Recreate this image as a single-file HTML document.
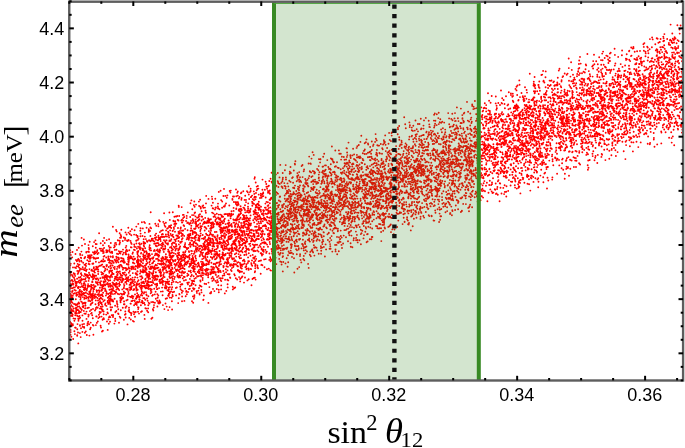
<!DOCTYPE html>
<html><head><meta charset="utf-8"><title>plot</title>
<style>
html,body{margin:0;padding:0;background:#fff;}
svg{display:block;}
.tk{font-family:"Liberation Sans",sans-serif;font-size:18px;fill:#000;}
.lb{font-family:"Liberation Serif",serif;fill:#000;}
</style></head><body>
<svg width="685" height="448" viewBox="0 0 685 448">
<rect width="685" height="448" fill="#fff"/>
<defs><clipPath id="c"><rect x="69.25" y="1.4" width="613.85" height="379.0"/></clipPath></defs>
<g clip-path="url(#c)">
<path id="pts" fill="none" stroke="#f00" stroke-width="1.9" stroke-linecap="round" d="M208.9 219.5h0M263.9 218.4h0M559.0 135.3h0M484.7 167.6h0M309.5 201.3h0M273.7 195.9h0M436.8 169.4h0M184.0 246.7h0M482.5 144.4h0M647.7 143.8h0M221.8 236.2h0M652.1 37.4h0M479.1 145.9h0M128.2 277.2h0M340.7 177.9h0M613.8 119.6h0M497.7 157.2h0M269.8 234.2h0M520.1 122.2h0M204.5 265.0h0M119.4 244.4h0M167.5 271.9h0M278.2 252.4h0M355.0 201.5h0M233.0 196.5h0M570.3 168.8h0M188.0 292.0h0M148.8 282.3h0M125.6 307.7h0M436.9 152.0h0M594.3 99.2h0M438.8 138.3h0M641.7 63.6h0M514.5 125.1h0M597.8 107.5h0M640.1 112.5h0M404.8 184.4h0M645.2 113.6h0M373.3 163.9h0M237.5 265.7h0M346.8 190.3h0M477.8 161.2h0M272.5 218.5h0M624.2 109.7h0M227.2 245.4h0M278.0 228.4h0M228.3 249.5h0M287.6 218.7h0M72.4 290.9h0M455.4 128.9h0M242.8 235.7h0M111.1 289.3h0M448.2 176.8h0M177.6 276.7h0M256.3 231.6h0M340.1 184.4h0M161.6 245.6h0M203.2 219.2h0M360.6 198.8h0M361.9 179.7h0M226.1 272.2h0M252.1 195.6h0M240.7 251.2h0M229.4 250.1h0M365.8 227.3h0M199.5 239.0h0M373.7 195.8h0M220.6 230.9h0M584.3 131.8h0M180.0 230.9h0M598.8 125.2h0M178.8 254.2h0M530.3 132.8h0M444.7 187.4h0M197.8 220.9h0M536.0 160.3h0M222.4 232.2h0M121.9 266.3h0M448.9 167.6h0M399.1 187.1h0M459.0 180.0h0M176.4 264.7h0M221.7 235.8h0M489.9 154.7h0M119.0 322.7h0M606.8 145.2h0M332.6 218.9h0M449.1 136.8h0M261.6 249.4h0M179.2 216.0h0M75.3 315.2h0M198.3 290.6h0M603.6 79.3h0M666.8 73.9h0M340.7 169.2h0M301.9 220.6h0M238.8 235.8h0M662.7 82.3h0M105.1 290.9h0M320.4 213.8h0M172.9 230.7h0M216.8 262.6h0M548.4 154.5h0M194.5 237.7h0M408.4 163.0h0M294.7 202.2h0M380.9 208.2h0M274.1 238.4h0M243.0 248.3h0M242.4 249.3h0M121.8 251.6h0M365.2 174.5h0M611.8 99.3h0M651.1 72.5h0M86.1 263.6h0M633.0 91.9h0M144.0 243.9h0M528.6 114.9h0M619.9 90.9h0M172.5 249.8h0M272.9 267.9h0M301.6 228.0h0M282.3 207.4h0M386.4 202.6h0M74.8 293.2h0M328.9 197.6h0M608.3 104.9h0M123.0 297.8h0M366.6 242.2h0M364.9 196.8h0M549.9 116.6h0M661.7 89.0h0M503.6 100.0h0M237.4 262.8h0M480.9 177.6h0M282.8 271.4h0M541.1 131.3h0M484.4 117.6h0M669.7 95.6h0M601.6 89.9h0M97.6 294.8h0M247.6 221.1h0M599.0 144.3h0M438.3 175.5h0M280.8 250.2h0M103.5 311.6h0M537.9 132.1h0M70.3 252.6h0M126.3 245.9h0M679.5 118.3h0M545.9 109.3h0M602.6 127.5h0M362.4 223.9h0M173.0 242.6h0M397.3 193.8h0M330.9 208.9h0M169.5 268.0h0M171.2 228.0h0M227.9 266.8h0M648.5 68.5h0M675.4 86.3h0M501.5 131.7h0M513.5 167.7h0M519.2 128.6h0M387.1 148.0h0M178.3 270.8h0M608.3 139.8h0M610.0 92.0h0M505.1 132.2h0M642.6 102.3h0M671.2 77.0h0M378.5 161.2h0M534.6 92.1h0M448.0 185.0h0M139.9 247.0h0M263.4 196.1h0M110.9 299.5h0M614.0 148.0h0M82.9 287.1h0M399.3 200.0h0M178.4 249.2h0M159.6 252.6h0M171.2 246.9h0M607.9 131.0h0M373.0 183.0h0M278.7 214.8h0M683.0 95.6h0M404.6 192.7h0M255.6 244.7h0M297.0 212.8h0M496.7 140.1h0M143.2 266.8h0M535.0 127.2h0M612.1 101.1h0M361.1 204.8h0M337.9 228.8h0M157.2 268.2h0M329.0 169.0h0M538.8 142.0h0M323.6 217.8h0M450.1 126.7h0M96.2 266.8h0M204.3 246.5h0M194.5 288.6h0M671.9 104.8h0M96.7 244.1h0M201.6 211.3h0M88.6 251.5h0M462.1 150.3h0M470.5 164.8h0M281.5 220.5h0M91.7 299.1h0M336.5 228.4h0M174.5 239.6h0M331.4 211.2h0M298.3 246.0h0M205.1 256.1h0M586.2 105.7h0M494.7 165.0h0M358.4 177.4h0M314.8 224.8h0M136.3 288.4h0M439.7 122.3h0M379.0 183.3h0M625.4 70.6h0M664.4 34.1h0M566.5 114.7h0M601.6 146.5h0M373.8 219.6h0M298.9 207.8h0M363.5 193.6h0M395.6 215.6h0M571.5 105.3h0M162.1 287.6h0M438.2 189.0h0M625.7 81.7h0M206.0 203.4h0M246.1 246.4h0M586.6 93.5h0M469.7 172.5h0M662.3 78.1h0M463.7 122.4h0M652.4 101.0h0M577.1 107.9h0M483.7 144.9h0M186.0 256.4h0M200.5 226.2h0M599.4 83.0h0M274.4 207.9h0M490.9 138.4h0M336.7 195.4h0M351.4 210.8h0M75.8 299.2h0M574.4 132.2h0M260.6 210.3h0M276.4 185.7h0M113.3 283.5h0M452.9 191.5h0M547.5 122.5h0M383.2 206.3h0M362.7 181.5h0M543.5 127.9h0M128.7 267.3h0M401.5 140.7h0M529.3 138.1h0M294.3 193.6h0M607.4 92.6h0M349.9 166.6h0M140.5 228.1h0M669.3 105.8h0M349.3 160.5h0M531.7 115.9h0M117.4 288.2h0M566.1 119.1h0M162.7 242.8h0M146.1 274.9h0M239.1 222.0h0M330.2 238.0h0M367.4 183.4h0M332.4 159.1h0M90.5 291.0h0M436.0 151.6h0M525.0 87.3h0M670.4 104.7h0M409.7 169.0h0M641.6 127.8h0M654.0 65.0h0M199.8 273.1h0M110.1 283.8h0M173.5 281.8h0M526.5 105.0h0M229.6 225.9h0M138.3 255.7h0M648.7 89.7h0M489.2 184.9h0M657.8 88.2h0M271.7 226.5h0M187.4 237.2h0M153.3 283.1h0M648.7 79.7h0M170.1 230.4h0M562.1 163.2h0M199.3 240.8h0M599.3 117.8h0M104.1 281.6h0M303.6 214.0h0M316.2 208.3h0M668.9 42.9h0M620.7 64.1h0M305.4 241.4h0M330.1 202.9h0M508.5 109.3h0M462.5 183.2h0M618.5 105.9h0M491.4 146.8h0M385.8 217.0h0M622.5 105.7h0M272.6 208.5h0M295.0 185.6h0M285.2 186.3h0M370.0 156.9h0M90.7 322.6h0M347.5 185.4h0M263.8 242.5h0M218.7 269.0h0M221.3 228.1h0M559.1 143.6h0M306.1 203.3h0M671.7 84.7h0M322.8 189.2h0M497.8 194.7h0M256.9 231.1h0M576.9 134.6h0M200.2 231.1h0M238.3 219.6h0M249.0 228.9h0M148.8 286.4h0M530.3 139.9h0M334.3 224.5h0M146.7 253.7h0M398.6 184.3h0M369.2 221.3h0M379.6 228.2h0M506.9 116.4h0M110.2 280.4h0M371.5 183.3h0M101.0 265.5h0M668.8 44.5h0M474.6 151.6h0M173.2 273.4h0M634.1 90.8h0M176.8 264.4h0M287.1 232.2h0M98.5 252.9h0M297.3 177.7h0M518.5 156.6h0M144.2 285.8h0M546.5 169.1h0M331.6 200.5h0M562.1 159.6h0M176.1 295.4h0M623.5 137.1h0M516.0 166.2h0M98.9 304.3h0M363.7 212.7h0M109.6 316.5h0M513.0 113.6h0M292.4 225.8h0M544.8 108.5h0M611.3 69.8h0M177.6 255.8h0M567.0 147.2h0M306.2 234.6h0M304.1 169.5h0M471.2 187.2h0M667.6 61.9h0M488.5 132.8h0M205.1 249.6h0M69.6 267.7h0M137.7 281.4h0M250.3 245.9h0M111.7 285.4h0M110.0 300.9h0M650.5 123.2h0M162.5 237.1h0M274.4 208.8h0M662.5 105.0h0M397.1 160.1h0M494.7 114.8h0M246.0 202.1h0M478.4 165.1h0M169.5 240.4h0M281.9 216.4h0M626.1 145.1h0M517.4 124.7h0M353.2 185.0h0M350.5 157.0h0M525.2 145.8h0M313.7 240.7h0M334.9 228.3h0M418.0 202.8h0M413.1 167.1h0M352.1 179.8h0M440.6 163.4h0M161.4 275.3h0M523.1 127.9h0M169.2 226.0h0M565.9 138.3h0M421.1 169.9h0M644.1 92.5h0M325.6 212.3h0M473.7 150.9h0M114.4 291.1h0M255.7 207.4h0M168.9 295.0h0M479.9 198.8h0M143.7 243.2h0M375.5 165.9h0M224.5 255.5h0M172.4 235.8h0M568.9 132.9h0M219.1 219.2h0M118.4 262.3h0M310.3 251.9h0M198.7 250.5h0M507.8 129.4h0M449.3 166.7h0M652.1 68.3h0M592.2 66.4h0M257.3 219.2h0M598.1 93.2h0M224.7 206.5h0M593.5 124.0h0M158.4 226.2h0M639.7 84.3h0M416.0 136.2h0M350.3 218.5h0M316.8 207.1h0M301.2 216.7h0M165.9 234.4h0M457.0 190.6h0M287.9 225.0h0M610.1 98.8h0M145.3 287.8h0M356.7 227.3h0M428.8 144.2h0M517.0 106.7h0M471.7 149.7h0M331.3 240.1h0M518.6 100.0h0M505.4 176.7h0M303.7 203.5h0M332.2 222.7h0M287.0 190.6h0M546.9 142.3h0M157.1 284.3h0M570.2 133.4h0M430.5 179.6h0M297.3 211.9h0M648.1 136.5h0M657.6 38.8h0M664.2 117.7h0M131.3 288.3h0M370.6 209.9h0M634.9 93.4h0M74.8 274.0h0M253.5 203.8h0M351.5 235.6h0M240.1 247.3h0M420.3 145.0h0M398.6 173.7h0M587.7 84.9h0M216.4 249.1h0M533.7 126.5h0M372.4 194.1h0M662.2 47.0h0M596.5 136.1h0M82.0 293.9h0M314.7 187.1h0M226.0 246.4h0M369.1 221.8h0M681.2 126.7h0M425.1 160.0h0M111.7 315.1h0M528.3 151.3h0M192.7 219.8h0M353.5 164.1h0M459.9 163.9h0M629.9 146.2h0M278.9 200.5h0M477.8 173.5h0M91.0 289.4h0M107.7 250.7h0M330.6 202.9h0M431.6 180.4h0M243.4 207.6h0M525.4 166.9h0M266.4 186.8h0M235.3 260.8h0M496.7 149.8h0M504.5 104.0h0M668.9 127.8h0M150.9 266.8h0M128.5 254.4h0M580.1 106.9h0M239.0 256.7h0M625.9 77.3h0M420.4 206.8h0M438.9 143.9h0M72.2 257.4h0M417.2 192.8h0M604.0 98.0h0M679.7 33.6h0M303.1 188.6h0M172.5 294.9h0M624.4 71.0h0M323.8 210.6h0M347.1 176.1h0M357.5 240.0h0M405.5 192.8h0M106.6 266.4h0M78.7 302.4h0M540.4 136.1h0M457.9 118.3h0M311.4 177.0h0M471.3 145.7h0M507.1 156.0h0M248.1 208.7h0M310.1 226.2h0M221.3 281.1h0M154.2 243.7h0M432.8 144.0h0M522.4 143.0h0M442.6 164.2h0M226.2 234.7h0M463.3 141.9h0M321.8 215.6h0M343.6 201.5h0M77.3 304.5h0M547.8 167.0h0M620.5 109.2h0M248.4 249.4h0M291.6 213.1h0M371.2 169.5h0M313.6 187.0h0M296.2 216.6h0M527.5 110.6h0M470.7 197.2h0M266.4 220.4h0M459.1 173.6h0M489.1 160.5h0M339.6 189.0h0M229.5 274.2h0M599.3 120.5h0M72.9 325.2h0M511.1 165.2h0M566.2 133.5h0M198.9 250.1h0M419.4 152.0h0M672.5 55.0h0M254.5 237.3h0M447.1 170.4h0M323.4 203.6h0M340.2 195.4h0M531.6 169.3h0M404.1 202.1h0M239.7 272.2h0M524.7 104.9h0M412.8 196.3h0M258.4 188.6h0M436.0 167.4h0M525.2 129.3h0M108.6 297.9h0M170.9 257.1h0M285.9 206.2h0M222.4 247.5h0M417.2 199.2h0M99.5 298.6h0M632.9 110.6h0M521.0 162.6h0M327.0 221.1h0M162.6 295.3h0M107.9 284.4h0M523.3 144.9h0M417.2 152.6h0M324.2 153.8h0M262.1 236.1h0M102.6 306.5h0M535.1 156.1h0M198.8 219.6h0M233.7 219.9h0M212.4 280.9h0M417.2 160.2h0M247.7 235.6h0M136.1 274.3h0M605.3 117.1h0M175.8 216.4h0M202.0 273.0h0M524.1 98.9h0M351.3 171.1h0M643.4 105.3h0M618.8 89.3h0M413.8 179.7h0M170.0 291.9h0M258.4 233.2h0M477.0 118.7h0M251.9 230.2h0M384.3 143.1h0M144.4 298.2h0M413.9 192.7h0M647.7 60.5h0M451.6 167.0h0M245.6 241.5h0M140.4 236.2h0M436.6 181.7h0M408.1 224.2h0M533.2 131.5h0M70.5 310.4h0M162.7 246.6h0M447.0 177.1h0M422.2 153.0h0M500.8 163.1h0M618.3 138.1h0M541.0 137.5h0M444.4 141.8h0M679.9 68.6h0M276.1 228.7h0M217.3 241.2h0M234.3 274.3h0M455.2 151.4h0M142.7 286.0h0M319.8 192.9h0M280.8 211.7h0M142.6 301.6h0M578.5 120.4h0M581.5 107.8h0M223.7 266.3h0M124.1 301.5h0M454.5 151.3h0M194.6 213.0h0M427.7 194.1h0M309.3 176.0h0M597.9 83.0h0M260.8 195.7h0M388.6 163.9h0M119.7 316.6h0M293.2 253.9h0M623.8 116.5h0M158.6 259.8h0M531.7 137.4h0M345.9 230.0h0M415.9 185.6h0M618.7 114.8h0M622.8 101.8h0M337.0 202.8h0M679.7 87.1h0M244.0 259.7h0M206.2 269.4h0M447.8 171.4h0M431.9 191.0h0M389.1 202.4h0M257.9 203.6h0M335.5 227.4h0M404.9 175.1h0M85.7 313.7h0M109.2 271.3h0M93.0 252.2h0M584.6 85.4h0M450.0 135.1h0M261.7 240.2h0M422.1 203.1h0M608.1 125.5h0M130.5 240.9h0M189.9 286.0h0M271.9 251.5h0M350.7 158.0h0M289.2 230.0h0M590.4 92.1h0M404.4 208.9h0M116.3 262.5h0M230.9 238.0h0M380.8 199.6h0M535.5 162.5h0M455.5 153.6h0M681.1 106.4h0M267.4 217.2h0M450.1 214.1h0M658.4 42.7h0M344.2 181.8h0M168.2 251.6h0M210.4 242.2h0M316.7 189.8h0M145.9 280.9h0M361.1 175.1h0M665.1 82.0h0M608.7 88.4h0M435.5 212.7h0M644.8 115.9h0M455.4 156.4h0M118.9 259.2h0M471.3 117.6h0M430.7 181.4h0M465.8 157.0h0M228.6 220.5h0M519.3 150.4h0M397.1 213.7h0M663.2 115.1h0M148.2 255.5h0M392.1 169.1h0M593.1 94.9h0M172.0 244.9h0M543.4 182.3h0M643.3 121.2h0M522.5 150.5h0M470.5 129.5h0M202.2 259.1h0M639.5 81.6h0M119.9 252.9h0M293.9 213.5h0M103.6 251.3h0M356.3 184.4h0M521.9 167.9h0M377.6 174.0h0M213.0 271.6h0M456.8 133.9h0M522.8 96.1h0M225.1 262.3h0M270.9 228.3h0M196.1 223.4h0M347.7 213.8h0M105.5 281.5h0M325.3 198.4h0M121.2 236.2h0M229.4 231.3h0M678.0 61.4h0M111.9 251.6h0M250.6 208.9h0M303.0 245.9h0M579.4 115.9h0M139.0 313.6h0M639.1 92.2h0M512.6 156.7h0M621.2 75.5h0M572.7 98.2h0M430.3 192.3h0M101.9 304.6h0M624.2 74.3h0M427.6 169.3h0M173.4 220.8h0M654.6 83.7h0M170.0 247.5h0M189.4 237.7h0M441.1 216.2h0M522.4 116.3h0M150.4 241.2h0M311.3 182.0h0M344.9 200.4h0M350.4 155.3h0M363.5 238.4h0M346.9 148.4h0M80.1 317.6h0M643.4 125.6h0M424.0 120.4h0M503.0 171.6h0M476.4 133.6h0M656.9 56.1h0M409.4 175.1h0M285.9 221.0h0M531.7 112.7h0M181.1 232.9h0M434.3 133.8h0M523.0 112.6h0M419.0 165.1h0M585.9 131.2h0M157.4 306.5h0M569.6 123.4h0M648.2 57.4h0M591.2 99.9h0M303.1 232.8h0M163.3 221.9h0M435.6 156.5h0M228.9 231.6h0M500.0 105.0h0M263.2 210.2h0M511.1 120.9h0M309.1 240.0h0M361.4 169.2h0M628.7 80.8h0M313.8 223.6h0M101.7 294.8h0M660.1 77.9h0M170.7 240.7h0M248.5 235.2h0M539.2 101.1h0M69.6 296.0h0M534.9 152.3h0M371.5 189.4h0M480.5 139.1h0M275.8 209.8h0M255.5 264.2h0M656.0 89.6h0M618.6 100.4h0M461.7 142.4h0M283.5 236.5h0M130.7 283.9h0M110.0 321.7h0M237.4 236.6h0M520.7 179.9h0M228.0 223.4h0M227.9 261.0h0M393.3 192.0h0M541.7 124.5h0M672.1 91.8h0M659.1 81.0h0M419.4 144.3h0M466.0 179.8h0M274.2 224.1h0M160.9 291.6h0M455.7 120.9h0M163.7 267.4h0M616.0 119.6h0M160.0 302.9h0M479.6 167.8h0M102.5 286.0h0M491.4 118.6h0M190.6 230.7h0M471.7 171.8h0M585.1 123.7h0M85.2 305.7h0M282.2 215.6h0M149.5 223.9h0M235.0 260.1h0M284.1 248.7h0M665.7 65.1h0M293.1 187.7h0M493.4 147.1h0M235.6 234.3h0M221.3 247.1h0M310.5 163.5h0M447.1 207.3h0M431.4 139.1h0M315.0 207.4h0M181.2 263.9h0M580.8 105.2h0M412.2 180.1h0M433.9 134.6h0M516.9 152.8h0M199.3 271.6h0M653.4 106.3h0M555.3 158.2h0M557.9 129.4h0M528.7 150.9h0M195.2 256.7h0M469.7 150.0h0M218.9 255.9h0M394.3 185.3h0M616.6 100.1h0M397.2 177.0h0M110.0 293.0h0M526.6 113.3h0M668.0 83.0h0M549.0 133.1h0M477.5 151.4h0M115.9 286.7h0M244.5 263.5h0M99.9 308.6h0M320.3 197.4h0M460.3 152.8h0M573.3 105.9h0M302.6 177.1h0M298.0 186.6h0M189.9 234.4h0M100.7 243.2h0M493.4 144.2h0M337.7 204.8h0M423.5 128.6h0M499.8 115.5h0M315.0 172.7h0M591.3 84.1h0M364.5 183.5h0M400.5 191.4h0M570.3 101.3h0M253.2 257.9h0M518.8 182.2h0M236.0 261.1h0M536.9 148.3h0M445.8 197.7h0M656.6 61.6h0M360.3 188.7h0M516.0 106.5h0M108.8 299.9h0M508.9 148.3h0M401.7 142.3h0M211.1 272.3h0M561.6 80.3h0M190.4 271.5h0M379.1 145.6h0M465.2 151.8h0M123.9 288.3h0M417.5 183.6h0M139.5 243.1h0M629.4 140.3h0M207.0 241.4h0M421.9 140.7h0M645.6 81.4h0M343.0 168.3h0M76.2 309.1h0M303.7 215.9h0M433.9 120.6h0M401.7 161.1h0M660.6 79.8h0M127.3 241.0h0M139.7 266.9h0M302.9 199.7h0M337.2 254.2h0M570.7 139.8h0M176.3 223.6h0M83.4 285.4h0M499.7 128.9h0M343.5 221.4h0M94.4 277.0h0M640.5 79.0h0M97.2 294.6h0M362.5 179.5h0M291.0 228.4h0M655.5 115.6h0M328.5 198.1h0M198.7 227.8h0M597.8 64.3h0M389.9 153.4h0M167.3 290.1h0M152.9 294.9h0M438.1 155.8h0M106.6 292.1h0M282.0 246.0h0M488.1 145.5h0M508.9 180.1h0M473.5 187.1h0M155.5 253.6h0M81.1 280.2h0M467.5 127.7h0M302.4 222.3h0M408.1 198.0h0M147.6 241.1h0M156.0 284.3h0M170.6 233.9h0M506.8 172.8h0M195.8 273.7h0M199.4 219.2h0M571.1 62.2h0M298.6 210.3h0M566.7 103.1h0M377.4 198.9h0M423.3 172.8h0M288.8 238.7h0M358.0 188.2h0M317.2 216.7h0M403.7 204.1h0M617.3 141.1h0M450.0 197.9h0M426.1 200.9h0M456.0 161.4h0M79.6 264.6h0M210.9 229.0h0M323.9 189.6h0M669.0 60.4h0M524.8 143.5h0M629.2 96.8h0M411.4 164.6h0M603.2 105.6h0M355.1 212.3h0M626.1 127.1h0M678.6 83.2h0M477.7 190.6h0M364.8 195.3h0M506.0 96.3h0M653.5 104.8h0M354.1 168.5h0M493.2 165.0h0M98.4 280.0h0M426.7 176.6h0M256.0 205.4h0M539.9 115.2h0M248.7 269.8h0M438.8 190.2h0M375.3 158.5h0M681.9 132.6h0M604.5 95.3h0M123.3 279.0h0M630.2 138.1h0M540.0 154.8h0M137.7 267.9h0M528.4 118.3h0M634.4 73.5h0M253.7 230.9h0M410.6 192.8h0M163.1 236.6h0M295.8 194.5h0M372.0 186.6h0M334.8 172.3h0M185.4 263.3h0M672.5 43.0h0M80.7 287.1h0M177.7 274.0h0M253.0 239.6h0M222.0 231.5h0M106.3 250.2h0M316.7 213.9h0M216.5 224.0h0M273.8 171.8h0M135.4 269.2h0M600.4 143.1h0M552.1 136.5h0M78.4 272.4h0M88.8 261.5h0M478.5 156.4h0M235.4 243.8h0M287.6 266.7h0M367.3 222.4h0M649.8 61.9h0M143.2 272.4h0M290.0 208.7h0M537.6 115.5h0M431.1 157.8h0M294.0 258.2h0M383.0 190.9h0M91.1 294.2h0M283.5 222.5h0M495.5 151.9h0M79.9 333.1h0M368.7 217.4h0M176.1 244.2h0M185.3 288.6h0M254.5 234.1h0M201.5 292.4h0M138.6 260.5h0M244.0 221.7h0M538.9 155.7h0M427.6 149.7h0M544.2 112.3h0M583.9 95.8h0M508.9 146.3h0M194.9 266.7h0M304.1 201.6h0M252.5 239.5h0M530.4 128.8h0M448.3 159.4h0M456.4 176.4h0M603.0 90.5h0M215.3 198.8h0M235.6 224.5h0M472.0 191.7h0M590.9 125.5h0M76.1 311.5h0M629.5 118.9h0M233.6 264.0h0M268.5 213.3h0M463.4 129.6h0M631.8 125.5h0M109.8 302.9h0M356.9 202.9h0M567.4 101.1h0M374.1 159.4h0M438.7 112.8h0M508.4 167.8h0M455.0 121.1h0M78.1 281.9h0M615.4 150.2h0M219.8 222.5h0M332.2 213.2h0M587.8 107.9h0M284.4 221.1h0M337.8 231.2h0M441.8 158.5h0M284.5 185.9h0M240.2 281.4h0M389.5 202.4h0M179.2 233.8h0M312.2 249.5h0M200.1 206.6h0M145.2 270.1h0M665.4 51.4h0M575.1 121.6h0M658.0 58.1h0M325.6 244.4h0M229.3 248.5h0M622.0 126.2h0M226.2 226.6h0M332.9 212.0h0M450.7 176.1h0M199.6 294.5h0M367.6 209.3h0M555.1 157.4h0M437.7 179.7h0M274.1 212.8h0M157.2 285.3h0M344.1 189.6h0M355.4 198.8h0M239.6 227.6h0M308.3 196.1h0M302.5 225.3h0M136.8 260.9h0M625.0 134.3h0M558.4 135.8h0M441.2 122.8h0M226.5 266.2h0M410.3 175.2h0M294.3 188.2h0M199.4 293.5h0M241.5 210.0h0M424.2 139.1h0M253.3 235.7h0M461.9 211.1h0M597.1 117.8h0M523.3 178.0h0M612.8 99.6h0M611.5 122.7h0M531.6 139.5h0M368.0 203.9h0M203.3 249.2h0M102.9 330.7h0M305.3 183.0h0M141.4 289.5h0M141.0 311.9h0M252.2 238.8h0M279.1 254.3h0M669.1 137.7h0M155.8 298.8h0M451.4 199.9h0M88.1 255.5h0M587.6 106.6h0M136.4 273.4h0M308.1 216.8h0M371.3 188.3h0M555.6 151.9h0M363.4 207.3h0M238.6 254.1h0M558.8 110.5h0M192.5 260.0h0M662.2 98.7h0M467.4 169.9h0M84.5 293.2h0M658.0 59.0h0M599.4 96.0h0M193.8 215.1h0M671.7 71.7h0M327.5 234.2h0M669.8 89.9h0M386.0 195.2h0M318.9 193.9h0M297.0 250.2h0M525.7 162.3h0M542.0 165.1h0M572.2 152.3h0M542.8 128.2h0M159.7 251.4h0M101.2 272.1h0M254.3 197.6h0M272.4 235.1h0M307.5 183.2h0M419.0 173.3h0M237.4 266.3h0M668.6 110.0h0M301.2 182.0h0M202.1 264.7h0M314.8 181.8h0M344.5 179.9h0M406.5 190.5h0M184.6 269.0h0M343.8 202.5h0M646.7 117.6h0M150.1 268.8h0M561.0 122.6h0M218.8 214.6h0M271.3 218.6h0M616.1 104.0h0M353.0 163.4h0M638.7 133.7h0M77.7 306.8h0M408.7 224.5h0M115.1 305.8h0M379.6 217.1h0M534.2 172.5h0M157.1 283.8h0M205.1 236.7h0M585.6 139.8h0M530.9 177.7h0M419.9 172.4h0M431.0 202.9h0M189.8 265.1h0M386.2 198.7h0M621.2 95.3h0M335.0 225.4h0M112.9 256.2h0M647.1 103.2h0M549.1 136.7h0M114.9 293.7h0M326.5 203.1h0M162.9 305.1h0M612.3 136.1h0M471.3 129.6h0M640.3 84.2h0M357.8 206.3h0M677.4 25.2h0M116.1 230.0h0M212.3 272.8h0M565.6 134.1h0M432.2 150.8h0M634.8 59.1h0M298.7 210.2h0M70.7 280.9h0M356.9 157.4h0M154.2 269.0h0M166.1 230.4h0M201.0 253.0h0M193.6 242.7h0M328.3 222.1h0M415.8 152.1h0M577.0 76.3h0M86.8 290.4h0M107.3 309.1h0M280.9 248.1h0M327.8 176.6h0M129.7 268.5h0M541.4 135.6h0M225.6 224.1h0M675.9 103.8h0M470.3 113.5h0M110.9 310.4h0M626.4 112.7h0M346.7 197.2h0M562.7 158.8h0M513.0 101.3h0M246.5 264.2h0M372.6 184.6h0M99.9 265.7h0M93.7 268.2h0M276.6 232.1h0M632.8 106.8h0M520.8 136.5h0M538.9 154.3h0M328.4 184.9h0M657.2 111.0h0M417.2 169.2h0M440.9 186.0h0M618.7 112.4h0M213.3 240.8h0M205.5 227.5h0M405.7 181.2h0M403.6 179.8h0M458.5 146.8h0M131.6 269.2h0M241.9 245.3h0M227.5 214.2h0M369.4 157.0h0M430.8 137.9h0M334.2 212.6h0M614.3 80.1h0M322.0 182.8h0M398.7 148.9h0M144.1 283.3h0M376.9 154.8h0M653.9 117.7h0M617.5 107.6h0M77.0 250.0h0M673.2 57.4h0M411.7 136.4h0M571.0 137.7h0M211.6 270.6h0M109.6 247.7h0M615.6 144.9h0M369.6 152.1h0M230.4 192.6h0M230.2 225.3h0M303.8 214.7h0M204.9 249.8h0M221.5 235.4h0M440.9 182.5h0M636.4 69.2h0M465.8 193.0h0M398.0 173.8h0M168.2 284.0h0M73.2 339.0h0M594.4 64.3h0M596.2 81.9h0M605.1 93.8h0M176.8 287.4h0M85.4 285.5h0M362.7 159.0h0M347.2 201.7h0M383.9 140.2h0M509.7 148.2h0M599.8 90.3h0M372.0 197.7h0M545.8 149.3h0M72.8 324.1h0M199.7 236.7h0M220.8 278.2h0M308.6 163.5h0M598.4 119.6h0M176.3 271.0h0M582.3 141.4h0M166.8 257.7h0M165.7 298.8h0M291.5 246.8h0M362.0 187.8h0M597.0 104.1h0M431.9 194.0h0M247.2 217.7h0M162.9 277.9h0M420.3 168.2h0M542.0 127.8h0M340.8 153.7h0M208.2 249.6h0M255.1 216.8h0M346.1 159.5h0M605.6 94.1h0M628.0 108.4h0M134.1 305.3h0M113.4 284.5h0M244.6 217.4h0M70.4 315.7h0M391.3 170.4h0M657.2 144.4h0M539.5 146.8h0M260.8 243.9h0M81.2 260.7h0M467.2 146.4h0M522.1 143.0h0M600.9 119.6h0M597.8 154.9h0M520.1 115.2h0M408.2 150.9h0M303.7 206.6h0M271.3 220.9h0M554.1 123.1h0M437.9 183.4h0M632.8 127.8h0M539.3 81.5h0M214.0 263.8h0M142.4 271.8h0M74.8 280.6h0M116.6 272.2h0M292.4 227.6h0M637.2 107.4h0M268.8 268.6h0M88.0 251.6h0M589.7 160.0h0M347.0 198.2h0M396.5 172.1h0M461.8 133.6h0M130.5 303.6h0M388.5 152.0h0M246.6 220.6h0M219.6 251.0h0M85.9 292.5h0M366.4 214.8h0M97.2 251.1h0M122.8 261.3h0M435.8 178.5h0M455.0 113.1h0M598.9 123.0h0M632.0 93.9h0M372.5 214.7h0M575.0 79.6h0M179.4 255.3h0M401.1 190.9h0M638.3 119.8h0M109.0 317.2h0M554.0 100.2h0M168.0 243.1h0M95.7 309.2h0M398.7 164.2h0M605.4 160.1h0M273.9 249.8h0M209.4 287.1h0M261.3 264.9h0M208.8 249.8h0M387.7 179.7h0M134.5 300.4h0M178.8 298.2h0M547.5 148.7h0M204.9 248.4h0M482.1 155.5h0M344.4 230.1h0M137.2 293.3h0M292.6 215.5h0M202.9 256.1h0M543.0 162.8h0M620.3 81.8h0M491.8 138.9h0M374.3 182.9h0M666.8 69.2h0M188.1 238.6h0M119.0 265.6h0M200.1 255.0h0M368.4 194.4h0M526.1 151.4h0M128.3 281.2h0M647.9 93.9h0M375.6 189.9h0M564.7 178.7h0M498.5 122.6h0M124.8 272.4h0M576.7 88.8h0M277.1 223.9h0M405.0 209.5h0M451.9 215.2h0M281.7 211.8h0M225.2 230.7h0M321.2 218.3h0M518.8 134.7h0M470.3 146.0h0M370.1 203.5h0M569.8 100.7h0M187.8 248.3h0M615.7 73.6h0M312.7 251.5h0M82.5 320.7h0M397.9 172.5h0M359.7 179.1h0M236.7 239.2h0M397.8 180.4h0M499.1 170.5h0M643.9 107.1h0M91.2 309.7h0M426.2 194.5h0M661.0 49.8h0M282.3 220.0h0M630.0 132.8h0M275.9 195.0h0M522.3 170.7h0M321.1 253.7h0M459.7 177.9h0M480.7 156.8h0M157.8 240.2h0M181.7 258.5h0M385.7 207.5h0M167.1 266.5h0M578.6 102.8h0M464.9 131.6h0M118.6 272.0h0M600.9 134.7h0M560.6 136.0h0M597.3 112.0h0M73.0 284.7h0M128.5 264.7h0M162.6 257.1h0M122.6 280.7h0M467.0 127.6h0M659.9 73.8h0M516.5 104.5h0M107.5 312.4h0M620.4 113.1h0M279.7 183.9h0M354.5 159.3h0M510.3 152.1h0M431.0 185.9h0M603.9 114.7h0M190.1 243.8h0M208.6 274.0h0M152.9 301.9h0M224.8 233.2h0M386.8 188.8h0M138.5 307.5h0M609.2 61.0h0M567.2 167.1h0M539.5 116.8h0M656.9 120.1h0M413.9 153.3h0M494.8 125.7h0M242.4 241.0h0M632.7 48.5h0M589.9 88.5h0M463.7 141.3h0M187.9 284.4h0M426.3 177.3h0M291.7 205.5h0M192.7 234.3h0M363.1 212.2h0M454.3 149.0h0M607.2 113.2h0M305.0 198.3h0M190.4 235.3h0M256.9 230.5h0M421.2 168.0h0M455.2 148.1h0M274.7 216.4h0M585.7 135.8h0M329.2 199.6h0M412.7 196.2h0M562.5 113.1h0M612.4 142.4h0M359.5 240.3h0M88.8 314.9h0M533.3 157.4h0M168.5 295.9h0M426.4 190.6h0M618.8 97.9h0M443.2 146.2h0M599.6 113.9h0M329.9 215.2h0M137.4 277.6h0M331.9 146.5h0M580.0 132.0h0M226.9 227.3h0M657.6 91.8h0M159.8 279.8h0M497.5 144.7h0M559.8 132.2h0M216.5 249.3h0M526.0 139.0h0M631.9 116.9h0M272.1 227.5h0M229.9 264.9h0M260.4 246.7h0M380.4 186.2h0M613.7 117.8h0M274.3 186.3h0M657.1 82.2h0M545.4 129.6h0M419.0 170.4h0M488.4 128.5h0M661.7 80.2h0M148.0 284.4h0M369.7 215.2h0M267.9 210.1h0M640.0 116.3h0M384.3 219.8h0M277.8 213.2h0M133.4 296.5h0M610.5 131.2h0M146.8 274.1h0M391.7 135.6h0M574.3 77.6h0M480.4 137.8h0M580.4 104.7h0M428.8 183.6h0M525.7 170.4h0M425.8 212.0h0M358.1 165.9h0M552.0 109.2h0M267.0 269.3h0M178.5 241.0h0M140.9 305.2h0M126.5 278.5h0M500.9 161.5h0M234.1 222.8h0M629.2 59.8h0M163.3 268.9h0M379.6 199.4h0M561.6 122.2h0M506.0 143.0h0M83.3 307.3h0M534.7 84.7h0M654.9 59.7h0M211.5 250.6h0M580.1 120.4h0M419.2 172.7h0M211.5 242.8h0M670.1 45.0h0M631.9 120.2h0M559.3 165.4h0M70.7 332.1h0M478.4 157.2h0M343.1 196.9h0M232.5 199.7h0M592.7 156.1h0M173.3 242.7h0M145.2 243.2h0M439.2 201.4h0M458.3 180.8h0M548.4 109.5h0M248.2 261.1h0M475.2 193.9h0M519.6 150.0h0M661.9 84.0h0M679.2 89.7h0M533.0 98.6h0M247.3 210.8h0M340.0 239.2h0M229.7 191.0h0M302.3 201.1h0M165.4 281.8h0M500.0 183.5h0M165.5 236.4h0M548.1 88.0h0M323.3 241.2h0M343.2 190.4h0M658.5 104.7h0M500.4 167.6h0M98.4 271.6h0M579.1 163.3h0M432.9 189.9h0M557.8 89.0h0M387.3 191.4h0M409.0 146.7h0M542.9 156.8h0M440.0 184.3h0M153.8 250.9h0M551.1 136.3h0M269.4 253.5h0M195.8 246.4h0M415.6 145.8h0M254.4 246.8h0M567.6 117.4h0M548.6 142.0h0M660.1 84.5h0M126.4 300.4h0M511.5 133.4h0M268.4 211.2h0M615.4 95.0h0M92.9 325.0h0M294.1 220.8h0M317.8 220.0h0M504.8 162.5h0M172.9 256.5h0M532.5 155.7h0M123.0 298.2h0M402.6 205.2h0M602.3 106.5h0M436.4 179.1h0M471.6 131.0h0M522.1 132.5h0M258.2 229.9h0M324.7 174.2h0M424.1 180.4h0M294.8 163.7h0M261.6 197.8h0M672.5 57.6h0M70.5 297.0h0M239.8 226.9h0M164.0 273.0h0M326.3 190.8h0M608.8 108.7h0M456.6 174.8h0M644.0 93.9h0M125.5 232.4h0M674.4 110.1h0M582.4 133.5h0M613.3 110.2h0M346.9 156.9h0M132.0 295.8h0M514.1 116.6h0M130.7 312.9h0M678.0 129.5h0M159.9 280.3h0M363.7 150.9h0M348.4 228.6h0M154.8 255.3h0M161.1 263.8h0M339.2 202.2h0M271.6 181.6h0M400.2 171.8h0M422.4 169.6h0M518.6 123.6h0M448.1 160.8h0M354.1 154.4h0M412.9 157.3h0M484.2 152.4h0M228.1 239.6h0M520.0 97.1h0M484.4 151.7h0M469.5 206.2h0M233.3 241.6h0M257.4 189.0h0M479.6 134.2h0M103.1 292.7h0M272.3 238.2h0M304.6 210.9h0M147.1 283.3h0M457.3 172.6h0M674.8 101.6h0M636.4 63.3h0M110.7 247.4h0M397.1 227.0h0M278.4 187.0h0M672.0 82.1h0M466.3 164.6h0M562.6 119.3h0M87.3 276.4h0M415.6 187.3h0M212.7 242.4h0M308.7 214.8h0M365.9 142.3h0M478.8 148.6h0M309.5 218.8h0M577.6 155.9h0M291.1 209.2h0M221.1 289.4h0M369.2 214.0h0M611.8 136.4h0M666.1 107.7h0M141.0 253.6h0M169.9 253.7h0M115.8 277.9h0M160.1 283.2h0M614.9 54.9h0M508.6 116.2h0M552.2 119.1h0M538.3 136.9h0M270.1 200.0h0M315.7 181.7h0M282.6 257.1h0M389.8 188.2h0M119.2 290.1h0M390.8 184.8h0M340.8 236.0h0M422.1 145.2h0M635.1 75.0h0M645.5 56.3h0M320.9 248.1h0M127.6 295.5h0M666.7 105.6h0M169.7 297.6h0M629.1 83.5h0M141.9 311.3h0M344.6 225.9h0M248.6 226.5h0M231.3 247.9h0M385.2 190.6h0M391.4 163.7h0M549.9 115.0h0M396.4 151.7h0M660.5 66.9h0M482.2 115.6h0M405.0 176.2h0M584.6 138.0h0M652.8 111.8h0M190.9 276.4h0M639.8 86.7h0M619.8 140.6h0M435.0 181.3h0M398.4 169.8h0M354.7 219.0h0M516.8 105.6h0M435.1 160.7h0M417.9 124.0h0M621.2 105.0h0M619.1 70.8h0M681.3 125.5h0M326.8 228.2h0M506.0 137.1h0M122.5 267.6h0M679.2 63.1h0M380.0 187.5h0M288.5 238.5h0M496.8 108.2h0M331.7 191.5h0M415.5 149.9h0M389.4 183.7h0M524.0 154.8h0M344.2 187.8h0M101.0 281.3h0M634.7 51.7h0M604.4 100.3h0M309.8 254.7h0M476.1 114.1h0M484.6 128.3h0M468.6 182.8h0M524.4 182.7h0M146.3 251.8h0M238.5 241.5h0M449.5 134.6h0M583.5 100.9h0M501.2 144.2h0M179.4 267.0h0M216.9 238.9h0M474.9 146.7h0M581.6 122.5h0M412.9 174.4h0M338.6 201.0h0M171.0 259.0h0M131.5 313.3h0M258.7 208.7h0M506.8 177.4h0M173.2 261.5h0M333.6 162.5h0M661.1 117.9h0M571.6 160.5h0M619.2 75.8h0M430.7 168.4h0M544.5 100.1h0M379.4 205.1h0M313.1 224.1h0M540.7 163.7h0M411.2 210.2h0M269.6 235.4h0M456.3 161.9h0M660.6 39.0h0M115.4 261.1h0M303.7 171.2h0M440.3 119.3h0M629.6 123.4h0M314.9 231.4h0M188.3 248.0h0M175.7 249.5h0M356.6 188.3h0M280.2 219.3h0M100.4 284.1h0M223.2 230.6h0M659.5 114.7h0M323.6 207.0h0M327.2 196.5h0M207.8 246.5h0M307.4 179.9h0M412.1 189.2h0M183.3 220.6h0M431.1 167.8h0M586.5 114.7h0M342.0 186.5h0M191.9 291.0h0M281.0 238.3h0M658.6 80.9h0M437.1 141.2h0M580.9 117.7h0M609.7 129.2h0M413.3 125.7h0M481.2 149.5h0M318.4 230.0h0M283.3 204.9h0M362.3 230.7h0M309.7 220.5h0M412.8 151.5h0M675.7 61.4h0M560.7 86.1h0M620.3 85.5h0M230.0 277.5h0M267.9 186.5h0M661.5 62.1h0M305.9 180.9h0M413.0 147.7h0M93.2 274.9h0M618.2 127.1h0M549.1 125.8h0M552.7 105.3h0M145.4 308.2h0M157.6 297.8h0M323.0 170.7h0M609.2 139.3h0M113.3 288.0h0M110.7 256.7h0M531.0 113.2h0M551.3 120.0h0M383.5 176.3h0M366.5 188.6h0M173.8 253.1h0M182.7 257.1h0M160.0 260.6h0M226.9 263.8h0M598.2 118.7h0M429.3 134.5h0M445.8 142.2h0M675.5 122.5h0M268.9 185.7h0M372.4 237.0h0M571.0 120.7h0M456.5 166.1h0M243.7 231.2h0M186.1 247.6h0M291.4 196.3h0M266.1 226.4h0M143.7 239.3h0M265.9 225.9h0M220.4 259.9h0M579.6 124.1h0M169.8 227.0h0M383.0 201.1h0M539.0 116.9h0M253.8 234.6h0M184.2 217.0h0M449.0 155.0h0M318.9 177.4h0M370.5 160.2h0M125.6 314.0h0M679.7 91.9h0M202.6 280.0h0M541.1 129.2h0M675.1 47.0h0M261.0 211.8h0M681.6 71.8h0M280.5 253.3h0M362.9 160.1h0M362.9 197.1h0M279.2 258.9h0M236.8 229.4h0M174.8 277.0h0M567.8 121.5h0M235.8 249.8h0M313.5 204.7h0M308.7 239.7h0M470.4 128.8h0M165.7 264.1h0M582.9 142.3h0M157.2 243.0h0M467.8 120.6h0M607.1 96.2h0M244.3 240.0h0M241.8 268.5h0M563.4 138.1h0M482.6 168.5h0M167.0 298.2h0M182.0 219.6h0M639.1 105.4h0M597.8 133.2h0M398.3 220.6h0M552.7 109.7h0M313.9 187.1h0M75.8 285.7h0M244.6 225.6h0M208.5 247.7h0M559.0 159.9h0M164.7 287.4h0M316.3 215.5h0M670.2 115.0h0M240.0 262.9h0M461.8 156.9h0M490.0 112.9h0M632.3 113.6h0M660.4 79.1h0M643.0 129.4h0M425.9 166.5h0M664.0 124.2h0M110.7 296.3h0M87.4 293.6h0M516.7 109.6h0M445.4 142.3h0M310.8 256.2h0M485.9 125.7h0M581.3 147.0h0M679.0 63.4h0M485.0 191.2h0M507.6 136.3h0M470.4 140.5h0M347.9 206.1h0M351.6 196.6h0M203.8 273.4h0M458.5 201.8h0M286.7 213.5h0M80.1 253.9h0M641.0 109.6h0M427.4 196.9h0M455.5 196.9h0M529.0 149.8h0M235.9 248.4h0M306.8 233.7h0M678.7 91.3h0M222.9 231.6h0M301.6 200.5h0M630.6 95.0h0M228.3 280.4h0M156.8 289.1h0M175.8 246.3h0M181.5 260.3h0M206.5 268.6h0M77.3 329.2h0M93.1 257.4h0M484.3 145.7h0M516.2 148.8h0M515.0 107.8h0M374.4 189.2h0M364.6 214.9h0M573.9 167.0h0M468.2 207.9h0M539.1 156.3h0M620.0 93.5h0M416.6 141.4h0M659.6 68.3h0M411.8 127.6h0M589.4 78.9h0M459.1 139.3h0M656.9 104.4h0M450.0 204.8h0M191.3 225.7h0M449.1 166.8h0M217.4 236.8h0M585.8 114.9h0M682.0 97.9h0M574.2 143.6h0M370.5 151.5h0M338.2 176.6h0M598.7 71.7h0M144.8 258.8h0M495.7 183.5h0M202.3 247.5h0M142.5 236.0h0M615.3 75.6h0M147.1 284.8h0M262.3 242.8h0M353.8 188.5h0M220.6 243.0h0M579.9 105.7h0M677.1 52.4h0M92.3 296.1h0M620.1 103.2h0M330.6 192.5h0M461.8 163.5h0M356.7 196.2h0M332.3 182.1h0M339.2 188.9h0M537.4 137.9h0M203.9 295.5h0M660.3 47.2h0M561.3 146.3h0M164.3 223.7h0M79.5 316.0h0M273.0 240.9h0M205.8 253.4h0M141.6 276.2h0M527.0 175.7h0M123.3 267.9h0M270.2 257.2h0M245.8 242.5h0M547.1 121.4h0M640.6 112.1h0M376.7 140.4h0M309.2 156.6h0M268.8 210.6h0M388.0 198.5h0M258.8 235.2h0M506.4 140.5h0M98.4 266.5h0M610.0 96.7h0M572.4 129.1h0M225.9 214.0h0M76.3 310.0h0M519.3 80.4h0M193.1 257.9h0M338.7 168.0h0M276.0 226.9h0M402.4 191.7h0M622.4 91.9h0M295.0 215.3h0M529.6 105.4h0M423.9 153.5h0M137.2 252.0h0M502.4 171.8h0M566.0 94.9h0M349.2 204.1h0M318.1 236.4h0M537.9 115.6h0M495.7 152.0h0M222.9 230.8h0M610.7 71.0h0M622.2 96.5h0M549.5 116.3h0M229.3 222.8h0M652.2 81.0h0M523.7 121.3h0M87.6 308.0h0M589.8 80.2h0M380.5 196.8h0M74.9 334.1h0M169.3 255.1h0M213.5 267.2h0M476.4 142.2h0M143.0 270.8h0M208.8 237.8h0M131.2 258.0h0M386.7 189.9h0M182.6 238.2h0M213.9 224.3h0M615.9 95.1h0M567.9 168.1h0M222.2 245.4h0M642.6 74.3h0M284.4 220.5h0M162.0 279.7h0M484.4 155.9h0M443.4 136.5h0M391.1 180.0h0M664.8 48.9h0M271.1 238.2h0M440.5 180.2h0M201.4 216.5h0M504.0 143.3h0M485.0 148.6h0M287.3 247.7h0M70.3 303.1h0M279.1 228.4h0M178.8 277.5h0M452.0 163.0h0M223.0 253.0h0M172.5 268.9h0M335.3 150.5h0M409.7 127.1h0M108.7 286.7h0M647.0 124.5h0M195.0 236.4h0M304.8 234.1h0M253.5 247.7h0M658.4 63.8h0M600.0 113.3h0M171.9 243.6h0M612.6 138.8h0M431.6 215.6h0M269.8 190.5h0M658.5 62.3h0M527.0 117.1h0M194.6 206.8h0M674.6 81.9h0M465.2 160.4h0M475.3 175.2h0M358.4 186.3h0M311.7 227.9h0M73.7 311.2h0M536.4 163.3h0M440.4 216.2h0M512.5 123.0h0M308.3 212.1h0M540.2 151.1h0M159.9 301.7h0M683.0 60.0h0M547.0 188.5h0M297.5 196.4h0M465.4 154.1h0M160.3 302.6h0M439.4 196.4h0M633.9 115.3h0M533.5 85.6h0M534.5 86.5h0M540.0 114.0h0M165.1 246.0h0M242.5 252.3h0M511.4 150.8h0M142.0 287.9h0M261.6 218.6h0M93.5 257.5h0M187.9 256.7h0M488.4 144.1h0M578.4 107.5h0M675.3 107.1h0M611.8 149.0h0M534.2 137.9h0M595.0 129.2h0M603.9 100.0h0M462.4 118.7h0M382.6 163.0h0M492.3 156.5h0M516.7 150.5h0M112.6 261.0h0M586.4 141.7h0M366.6 211.8h0M407.8 184.1h0M331.4 226.0h0M153.5 271.8h0M602.0 124.7h0M463.9 121.5h0M220.8 272.1h0M288.5 198.9h0M365.4 197.1h0M190.2 234.0h0M434.6 125.7h0M352.0 164.3h0M545.6 87.2h0M557.3 117.1h0M516.5 90.4h0M367.4 166.1h0M409.1 139.4h0M251.5 263.9h0M267.6 205.9h0M129.1 309.9h0M621.2 118.2h0M287.4 199.7h0M315.7 181.7h0M357.6 215.5h0M643.6 94.7h0M487.3 171.1h0M574.1 83.1h0M180.0 281.9h0M185.0 263.3h0M144.3 286.7h0M676.8 92.1h0M464.9 181.9h0M349.4 190.8h0M388.8 195.8h0M488.0 113.9h0M573.7 120.4h0M460.5 145.9h0M540.0 138.9h0M83.9 279.2h0M172.1 309.5h0M666.5 52.3h0M600.7 103.0h0M333.7 207.0h0M313.5 233.3h0M161.5 236.7h0M139.4 248.2h0M339.6 186.2h0M139.0 284.0h0M561.3 98.4h0M437.7 199.6h0M294.9 201.6h0M611.0 100.6h0M196.0 248.4h0M146.0 292.1h0M189.1 252.0h0M617.8 79.3h0M158.6 270.4h0M116.6 260.2h0M469.0 211.2h0M483.2 125.5h0M230.9 269.9h0M336.5 244.9h0M325.9 165.4h0M569.7 134.8h0M471.4 123.0h0M637.2 100.1h0M671.3 119.4h0M171.1 270.4h0M296.6 215.9h0M446.4 150.0h0M639.3 136.5h0M178.4 265.8h0M186.9 294.3h0M70.4 272.9h0M498.1 126.7h0M546.9 150.5h0M78.8 277.5h0M79.3 277.6h0M530.3 133.1h0M397.7 189.3h0M231.4 251.8h0M423.3 216.0h0M282.7 239.5h0M530.5 142.0h0M617.4 142.9h0M70.2 322.0h0M522.7 96.9h0M539.1 119.2h0M235.9 229.4h0M496.6 149.1h0M303.7 204.2h0M251.0 223.5h0M424.1 217.6h0M535.5 121.6h0M627.6 131.8h0M618.9 113.8h0M150.5 248.3h0M501.2 119.0h0M416.8 199.1h0M538.2 107.7h0M576.4 107.0h0M136.2 240.7h0M498.1 122.4h0M202.2 266.8h0M312.5 197.1h0M110.5 256.4h0M650.5 90.5h0M430.9 192.4h0M472.8 190.7h0M331.4 195.3h0M275.0 263.2h0M210.8 241.3h0M219.4 264.0h0M315.0 179.6h0M579.2 95.5h0M152.0 258.3h0M638.2 101.2h0M83.7 283.6h0M676.4 71.0h0M569.0 103.2h0M565.8 147.6h0M551.0 80.7h0M520.8 150.8h0M634.2 69.0h0M158.4 235.6h0M517.3 149.4h0M101.5 290.7h0M289.2 210.4h0M516.4 118.0h0M421.5 142.5h0M379.3 183.5h0M102.9 273.4h0M515.1 187.6h0M195.5 255.7h0M382.5 224.9h0M668.8 66.3h0M365.6 219.4h0M485.5 153.6h0M300.6 195.5h0M461.8 150.9h0M136.5 285.5h0M132.8 259.3h0M158.0 263.6h0M502.9 142.3h0M191.2 262.0h0M189.2 237.3h0M460.9 212.0h0M272.3 230.0h0M449.4 137.9h0M168.1 310.1h0M143.1 266.8h0M383.0 177.6h0M219.8 242.0h0M173.0 249.4h0M95.4 240.4h0M650.6 89.5h0M421.0 168.4h0M484.6 132.8h0M627.3 97.7h0M658.4 108.1h0M483.1 110.8h0M674.8 103.5h0M378.7 207.7h0M318.6 201.3h0M172.7 296.2h0M321.1 196.2h0M436.2 188.1h0M278.0 240.5h0M649.4 79.1h0M135.6 266.2h0M632.6 96.9h0M418.3 170.4h0M287.5 209.9h0M209.8 219.4h0M141.9 283.1h0M138.6 238.8h0M93.6 278.6h0M226.7 240.7h0M604.0 126.9h0M141.3 285.5h0M85.9 295.9h0M376.7 200.5h0M274.6 254.7h0M294.5 208.7h0M93.6 288.6h0M339.7 198.6h0M306.6 199.7h0M676.5 106.1h0M658.9 122.9h0M317.4 193.3h0M636.5 103.1h0M427.0 207.3h0M172.8 212.2h0M668.5 71.3h0M312.3 188.6h0M372.0 183.1h0M502.1 112.1h0M211.0 225.6h0M366.1 193.1h0M217.2 254.7h0M221.7 227.8h0M286.5 238.6h0M630.6 138.7h0M470.4 157.5h0M309.8 195.9h0M278.1 221.1h0M322.6 166.7h0M159.3 250.9h0M608.2 108.2h0M297.2 193.4h0M368.5 208.0h0M131.3 266.8h0M627.4 101.8h0M385.0 228.5h0M680.7 51.1h0M136.2 235.0h0M230.8 190.6h0M447.0 140.7h0M318.3 170.2h0M563.1 140.1h0M434.1 114.7h0M601.7 105.5h0M558.5 97.4h0M83.8 310.9h0M646.5 113.5h0M159.7 249.4h0M282.8 240.7h0M400.6 190.1h0M612.3 143.5h0M254.5 218.4h0M87.6 323.3h0M137.3 271.3h0M558.3 125.5h0M193.1 288.1h0M480.6 200.2h0M489.3 151.8h0M657.0 73.0h0M683.3 28.3h0M214.8 236.5h0M588.0 154.2h0M311.5 209.1h0M204.6 245.3h0M277.9 249.0h0M195.1 223.1h0M682.8 53.7h0M77.2 335.3h0M593.1 108.5h0M502.5 143.2h0M415.5 214.4h0M206.4 228.7h0M266.1 209.7h0M652.2 92.8h0M572.8 117.8h0M144.7 318.9h0M339.5 203.4h0M651.5 66.3h0M89.5 264.2h0M395.5 167.0h0M516.8 157.6h0M231.9 231.8h0M321.2 202.5h0M640.8 82.7h0M446.5 136.3h0M591.4 95.7h0M497.6 147.7h0M209.0 235.6h0M163.6 258.4h0M445.5 153.3h0M266.8 251.6h0M112.1 270.5h0M104.3 284.7h0M566.2 123.9h0M513.8 140.5h0M591.6 94.1h0M77.5 324.1h0M437.6 209.2h0M161.2 230.8h0M613.0 127.0h0M451.6 184.9h0M93.1 293.1h0M602.9 112.7h0M222.1 246.8h0M652.9 82.3h0M273.1 249.7h0M548.1 124.4h0M380.4 218.6h0M360.9 244.3h0M254.7 236.0h0M679.9 94.3h0M609.1 131.3h0M681.6 109.9h0M124.3 285.6h0M442.6 169.6h0M375.0 159.1h0M249.4 243.9h0M449.0 202.8h0M658.5 111.6h0M526.5 141.7h0M466.4 193.1h0M291.0 210.1h0M425.6 180.6h0M72.4 288.2h0M227.1 263.9h0M462.8 151.9h0M467.9 175.6h0M146.9 240.9h0M283.3 262.0h0M664.6 73.5h0M202.9 275.3h0M167.6 281.6h0M379.4 202.5h0M294.0 187.6h0M389.5 172.9h0M110.3 304.5h0M486.5 148.6h0M317.8 207.2h0M126.2 274.7h0M390.4 196.0h0M431.8 174.8h0M262.4 265.2h0M214.2 216.4h0M613.5 125.9h0M460.7 153.6h0M259.1 223.5h0M549.9 111.2h0M318.6 234.0h0M362.2 163.0h0M158.7 256.8h0M255.7 182.5h0M293.4 205.8h0M574.6 136.3h0M206.2 240.4h0M388.9 217.3h0M219.4 243.1h0M526.2 147.8h0M160.8 276.2h0M370.5 215.8h0M228.4 244.2h0M505.9 119.1h0M610.5 92.9h0M671.6 40.7h0M492.5 138.8h0M72.5 297.6h0M523.2 123.2h0M518.0 147.0h0M570.8 134.9h0M522.5 145.2h0M161.9 243.7h0M642.0 85.2h0M228.8 237.7h0M566.2 138.3h0M148.7 256.7h0M119.8 271.4h0M243.3 222.9h0M130.6 282.8h0M264.6 242.1h0M166.2 272.4h0M604.6 94.5h0M547.2 132.7h0M604.9 117.8h0M428.5 145.1h0M214.0 256.4h0M94.5 295.1h0M126.9 280.5h0M235.8 237.6h0M239.2 245.2h0M246.8 220.6h0M581.5 78.7h0M513.7 111.8h0M420.8 118.8h0M331.7 180.0h0M217.0 277.1h0M434.8 205.6h0M231.5 224.0h0M566.3 168.9h0M632.9 151.4h0M402.1 179.0h0M94.3 286.3h0M490.1 118.0h0M263.3 214.9h0M638.8 79.2h0M117.0 253.7h0M504.4 172.8h0M532.0 128.1h0M96.0 296.8h0M581.7 109.1h0M211.1 227.6h0M550.5 101.2h0M577.6 94.9h0M409.9 161.6h0M438.5 177.7h0M642.3 94.8h0M165.9 222.7h0M387.1 178.6h0M297.4 173.1h0M81.7 309.8h0M132.0 279.7h0M280.4 201.5h0M595.0 133.7h0M591.9 142.4h0M263.3 218.8h0M512.7 135.3h0M429.4 179.5h0M579.5 128.5h0M542.3 144.1h0M264.5 243.4h0M604.4 94.4h0M489.5 168.6h0M144.9 304.8h0M122.5 279.4h0M107.3 279.4h0M560.3 100.9h0M376.4 194.6h0M128.4 240.6h0M465.7 198.2h0M473.4 161.2h0M609.3 106.8h0M452.5 139.3h0M683.2 75.6h0M408.4 181.8h0M350.6 243.3h0M569.0 138.1h0M231.5 238.2h0M221.1 237.2h0M513.7 130.0h0M584.5 108.8h0M487.6 146.8h0M202.7 235.0h0M412.1 215.9h0M122.8 307.8h0M597.0 88.1h0M664.3 54.0h0M80.7 282.1h0M309.0 240.6h0M599.7 142.5h0M590.6 120.4h0M294.3 272.5h0M217.4 262.8h0M423.1 171.4h0M306.5 232.1h0M78.5 286.9h0M385.8 173.7h0M297.3 176.7h0M298.7 192.7h0M175.8 224.0h0M436.8 166.2h0M229.2 213.7h0M680.2 125.2h0M459.8 173.7h0M553.3 82.2h0M564.2 130.5h0M191.3 263.7h0M604.7 58.0h0M566.7 118.0h0M435.0 150.0h0M594.6 104.8h0M320.5 217.8h0M220.8 233.0h0M261.7 248.5h0M553.1 90.1h0M442.1 197.1h0M386.5 199.3h0M588.7 78.0h0M131.3 235.2h0M85.5 270.1h0M428.6 135.1h0M495.1 150.9h0M591.4 99.2h0M357.0 190.9h0M472.5 166.4h0M292.1 219.6h0M155.7 264.8h0M579.4 131.3h0M645.7 87.9h0M152.3 267.0h0M449.0 198.9h0M466.2 187.2h0M494.2 133.5h0M340.7 230.6h0M271.0 270.6h0M305.8 210.0h0M241.4 277.7h0M424.0 169.6h0M148.2 312.2h0M366.5 167.1h0M412.7 214.7h0M612.8 117.2h0M398.3 188.2h0M271.4 260.0h0M443.8 165.0h0M103.5 281.4h0M257.7 207.3h0M390.6 206.9h0M449.2 124.3h0M197.6 247.8h0M560.0 102.5h0M250.7 197.1h0M674.5 123.0h0M653.1 88.0h0M295.0 164.5h0M88.4 300.9h0M440.3 170.7h0M600.9 139.3h0M388.1 171.8h0M608.6 70.1h0M339.4 186.0h0M399.9 212.3h0M316.6 202.8h0M120.0 284.7h0M195.6 285.3h0M603.4 136.2h0M371.0 204.2h0M502.8 154.3h0M488.2 139.0h0M177.7 219.9h0M94.5 287.1h0M160.8 271.1h0M83.7 293.2h0M211.5 273.2h0M415.7 211.4h0M307.2 221.6h0M203.3 300.0h0M554.1 125.3h0M239.1 277.1h0M626.1 59.9h0M161.9 259.9h0M197.3 226.4h0M194.5 251.2h0M183.2 255.2h0M153.6 261.2h0M670.0 40.4h0M145.5 288.3h0M638.0 110.9h0M256.2 239.9h0M136.5 284.2h0M289.1 195.7h0M367.4 191.1h0M469.2 179.8h0M668.3 129.2h0M396.2 198.9h0M443.1 166.8h0M491.2 185.1h0M185.0 244.7h0M336.9 207.1h0M539.7 113.4h0M181.3 241.7h0M172.7 292.2h0M477.4 137.5h0M414.2 202.0h0M204.0 264.3h0M276.3 246.2h0M186.2 291.8h0M173.6 255.6h0M446.3 148.3h0M108.2 276.5h0M265.6 181.8h0M584.0 124.6h0M567.9 123.2h0M200.8 207.8h0M232.5 243.8h0M237.5 227.1h0M319.2 180.4h0M195.9 258.4h0M303.1 191.0h0M200.3 280.5h0M419.5 144.6h0M315.6 232.6h0M260.7 234.0h0M132.5 253.7h0M116.4 311.0h0M533.7 112.9h0M223.3 266.0h0M145.9 239.1h0M287.3 222.1h0M423.3 168.9h0M668.4 109.7h0M215.4 264.2h0M672.1 63.5h0M313.7 238.2h0M130.6 283.6h0M648.7 95.7h0M116.5 286.9h0M113.2 273.9h0M169.1 281.5h0M658.1 119.0h0M120.4 253.5h0M182.6 254.8h0M297.1 176.1h0M630.8 118.2h0M644.3 114.1h0M542.0 161.9h0M309.8 171.2h0M526.4 136.6h0M628.3 94.9h0M473.6 170.8h0M566.8 110.7h0M274.2 248.4h0M97.3 250.1h0M345.2 191.3h0M597.9 118.7h0M179.6 275.8h0M148.7 231.9h0M344.8 165.6h0M255.6 213.7h0M72.5 291.3h0M559.1 113.1h0M512.8 138.8h0M663.3 36.6h0M82.9 297.1h0M143.7 270.5h0M330.3 206.1h0M519.6 117.2h0M233.5 258.7h0M140.0 273.6h0M144.3 271.7h0M303.3 190.3h0M285.5 263.4h0M631.3 108.9h0M345.8 174.5h0M350.1 162.6h0M649.9 39.1h0M399.6 213.3h0M107.7 329.9h0M87.8 287.0h0M336.3 218.2h0M213.6 216.8h0M465.2 189.7h0M407.0 219.2h0M241.8 227.0h0M89.4 292.7h0M253.9 230.5h0M497.9 164.4h0M414.2 165.6h0M149.1 240.2h0M110.4 307.1h0M458.7 143.4h0M675.7 90.2h0M623.5 79.3h0M544.9 137.8h0M90.0 257.6h0M518.2 123.0h0M235.8 278.3h0M625.6 98.7h0M273.5 232.1h0M299.3 234.2h0M498.7 138.0h0M109.5 249.9h0M323.8 215.2h0M168.8 287.8h0M462.5 118.3h0M230.1 265.5h0M309.9 222.6h0M598.4 68.1h0M397.8 197.4h0M571.9 130.0h0M539.5 87.9h0M221.2 242.7h0M527.1 143.0h0M640.8 58.9h0M540.2 157.1h0M514.9 117.1h0M172.6 231.0h0M384.9 168.4h0M116.9 301.3h0M380.1 218.5h0M124.6 262.0h0M589.8 141.9h0M354.7 195.4h0M319.5 172.3h0M523.4 99.8h0M418.9 146.9h0M236.7 247.7h0M466.0 195.6h0M377.1 226.3h0M303.7 224.4h0M570.0 103.9h0M464.2 195.4h0M362.6 181.1h0M676.4 108.9h0M446.8 141.5h0M451.3 206.6h0M348.0 241.2h0M302.7 200.1h0M337.0 162.2h0M238.0 237.9h0M617.3 96.7h0M128.6 293.8h0M652.9 82.5h0M497.7 134.4h0M187.6 230.3h0M144.3 255.6h0M269.0 220.8h0M317.5 197.9h0M646.6 121.8h0M400.6 172.4h0M391.0 190.5h0M656.6 55.9h0M489.5 130.4h0M538.7 129.1h0M222.3 256.7h0M409.2 206.7h0M155.9 268.1h0M194.2 281.2h0M460.8 176.8h0M184.3 265.9h0M399.1 168.0h0M299.2 206.8h0M191.8 275.0h0M74.0 277.7h0M261.8 254.3h0M337.8 212.8h0M304.6 194.2h0M438.8 199.8h0M673.8 104.9h0M592.0 108.0h0M315.4 210.3h0M513.6 127.5h0M198.4 217.2h0M609.5 85.5h0M174.2 224.1h0M262.9 254.3h0M566.1 134.3h0M668.1 71.9h0M70.3 265.6h0M652.0 103.8h0M113.6 274.0h0M531.5 124.1h0M294.9 197.9h0M211.6 205.6h0M418.0 176.0h0M515.4 181.5h0M288.7 217.0h0M218.5 224.0h0M152.3 277.3h0M541.9 144.5h0M567.2 94.3h0M343.2 181.5h0M378.4 185.1h0M433.8 174.1h0M120.2 277.3h0M248.0 229.3h0M439.3 190.4h0M284.7 225.9h0M140.7 264.5h0M78.2 273.1h0M370.5 201.9h0M347.9 217.1h0M221.1 200.1h0M94.1 242.1h0M500.6 173.2h0M514.0 125.4h0M92.1 295.5h0M212.4 269.1h0M159.7 238.2h0M323.3 173.6h0M435.9 152.4h0M460.1 176.3h0M537.1 172.0h0M403.7 198.7h0M476.8 157.9h0M378.6 171.8h0M572.3 91.0h0M396.1 146.1h0M430.9 130.6h0M275.1 245.6h0M630.8 122.5h0M647.5 90.5h0M477.4 163.1h0M476.0 120.9h0M321.1 207.3h0M210.9 252.4h0M270.1 212.3h0M364.9 200.5h0M645.1 128.0h0M194.1 242.6h0M246.4 215.8h0M644.9 99.3h0M350.8 246.7h0M546.6 151.2h0M509.9 118.7h0M290.9 231.8h0M137.3 297.4h0M114.0 247.4h0M565.7 121.0h0M634.9 91.4h0M241.0 208.6h0M505.2 167.4h0M381.1 228.3h0M486.3 121.4h0M318.8 214.6h0M533.2 153.7h0M679.3 90.6h0M377.2 155.8h0M563.5 144.0h0M220.4 225.0h0M401.7 199.7h0M637.3 84.4h0M235.7 245.5h0M132.3 281.9h0M252.5 279.0h0M277.2 193.0h0M540.6 106.3h0M182.9 234.5h0M233.3 267.1h0M550.6 148.3h0M316.6 240.7h0M681.4 58.0h0M88.2 321.8h0M150.2 268.1h0M200.1 223.5h0M572.2 92.9h0M409.5 136.8h0M597.7 105.7h0M272.0 225.4h0M576.1 140.7h0M96.6 290.2h0M390.9 217.6h0M631.6 84.6h0M233.5 241.3h0M156.9 253.7h0M264.9 226.1h0M667.2 105.2h0M661.2 88.6h0M477.9 124.0h0M668.4 91.8h0M244.3 255.0h0M502.3 152.4h0M406.8 174.7h0M206.4 223.0h0M159.0 303.5h0M461.6 167.8h0M352.6 207.9h0M338.0 191.0h0M288.6 251.5h0M198.7 270.2h0M646.7 77.7h0M435.9 142.6h0M146.8 259.0h0M366.8 207.7h0M258.0 239.0h0M308.1 263.9h0M562.6 132.6h0M666.4 91.3h0M386.0 177.2h0M175.1 261.0h0M534.5 109.7h0M83.2 306.0h0M458.9 163.3h0M341.3 180.4h0M274.0 213.1h0M99.4 282.4h0M240.5 255.2h0M117.5 275.1h0M548.5 139.6h0M264.0 210.4h0M617.6 82.0h0M526.5 125.0h0M545.4 109.6h0M679.5 81.6h0M675.2 54.1h0M463.6 146.2h0M378.3 190.9h0M361.9 203.2h0M442.4 203.7h0M345.8 218.9h0M225.1 279.7h0M331.2 222.3h0M597.2 69.8h0M175.6 260.1h0M101.0 248.7h0M673.8 40.0h0M518.0 131.0h0M452.2 126.5h0M273.3 253.0h0M280.1 236.2h0M289.7 201.9h0M80.0 280.5h0M485.0 158.0h0M221.1 264.1h0M601.5 85.9h0M663.0 89.5h0M414.7 171.3h0M250.6 188.8h0M489.8 180.8h0M172.4 278.2h0M545.0 115.3h0M533.0 129.3h0M598.9 116.7h0M106.2 257.5h0M369.1 191.0h0M610.9 119.0h0M360.7 157.8h0M369.6 189.3h0M297.7 209.4h0M609.4 118.0h0M529.3 108.5h0M399.6 203.0h0M211.3 251.4h0M439.1 164.4h0M254.8 272.2h0M162.8 257.3h0M135.3 269.3h0M615.2 117.7h0M398.7 182.6h0M348.6 220.7h0M602.3 120.5h0M606.5 120.9h0M490.7 119.7h0M92.8 275.1h0M505.8 141.1h0M671.9 71.6h0M277.1 242.4h0M147.1 298.4h0M625.4 94.3h0M281.6 240.9h0M390.6 169.8h0M124.0 262.8h0M547.9 85.0h0M312.5 176.1h0M322.4 244.1h0M263.1 238.1h0M631.6 83.2h0M575.5 150.9h0M263.2 225.9h0M283.0 225.7h0M517.6 110.5h0M586.9 103.2h0M154.6 280.1h0M69.6 286.7h0M422.5 174.5h0M590.4 106.4h0M679.2 96.9h0M269.3 181.0h0M325.2 170.3h0M381.5 160.3h0M626.4 114.4h0M427.0 154.0h0M215.9 272.1h0M200.0 214.2h0M210.3 223.0h0M456.0 132.7h0M504.8 141.5h0M518.1 132.3h0M417.9 180.2h0M218.9 265.9h0M659.6 100.6h0M231.9 258.0h0M258.7 209.8h0M541.3 122.6h0M117.8 280.4h0M373.5 195.4h0M385.3 165.1h0M659.1 82.5h0M126.3 274.7h0M422.4 155.8h0M668.9 92.5h0M281.9 186.8h0M505.3 167.9h0M671.3 47.4h0M525.2 130.3h0M181.1 256.0h0M220.1 257.9h0M421.7 188.8h0M78.9 264.9h0M617.3 134.3h0M332.3 251.6h0M589.6 111.4h0M125.2 238.3h0M563.1 116.2h0M364.7 196.1h0M185.1 252.2h0M492.4 121.9h0M381.4 163.5h0M479.4 124.5h0M289.3 213.5h0M327.7 211.9h0M514.5 151.4h0M428.4 134.1h0M252.4 240.5h0M477.0 114.3h0M458.4 189.0h0M162.8 230.2h0M426.4 139.1h0M70.6 324.4h0M640.1 77.6h0M550.5 138.4h0M439.8 209.7h0M639.9 70.6h0M171.5 297.7h0M532.4 99.4h0M271.5 249.0h0M383.9 187.2h0M616.7 113.1h0M195.9 235.4h0M246.1 218.3h0M289.3 239.2h0M475.5 135.9h0M367.2 216.2h0M482.4 175.1h0M307.3 229.0h0M677.2 78.6h0M132.7 267.2h0M376.0 226.0h0M108.8 267.0h0M368.4 218.9h0M454.1 162.6h0M243.3 247.6h0M230.4 239.1h0M113.0 316.0h0M529.4 165.1h0M455.3 138.1h0M282.9 207.0h0M117.5 266.7h0M629.4 113.6h0M364.8 181.8h0M584.6 125.2h0M535.1 91.7h0M564.0 131.0h0M233.5 222.6h0M491.0 148.0h0M551.5 80.5h0M366.6 194.0h0M451.9 133.0h0M421.1 158.7h0M273.5 191.8h0M497.6 173.0h0M122.7 273.0h0M468.3 157.2h0M295.4 212.4h0M320.4 222.2h0M399.6 182.2h0M171.8 248.3h0M109.2 259.3h0M314.5 197.0h0M408.4 176.4h0M446.4 160.7h0M596.4 103.9h0M121.3 229.8h0M197.1 276.3h0M217.4 255.4h0M630.6 72.4h0M235.8 231.5h0M405.4 157.1h0M368.0 176.6h0M305.2 179.1h0M415.5 189.0h0M583.7 92.1h0M243.6 239.2h0M224.1 221.5h0M551.4 148.4h0M253.6 278.0h0M351.0 179.3h0M262.7 233.8h0M313.6 199.3h0M590.0 106.8h0M517.3 140.7h0M285.7 186.6h0M167.5 279.5h0M650.1 95.8h0M154.5 267.5h0M478.0 154.5h0M575.0 129.8h0M277.9 236.1h0M436.2 190.8h0M651.9 76.9h0M545.5 157.9h0M280.3 164.9h0M663.0 88.8h0M271.3 216.3h0M114.7 285.1h0M392.9 199.1h0M523.1 179.0h0M190.4 222.9h0M76.6 285.8h0M623.9 116.7h0M563.7 124.9h0M530.7 162.4h0M560.8 92.7h0M233.1 214.3h0M534.6 101.5h0M196.0 264.7h0M132.9 262.8h0M161.6 248.1h0M471.2 153.4h0M624.1 132.5h0M621.0 126.8h0M333.7 199.8h0M137.7 259.2h0M343.6 188.4h0M254.7 211.4h0M178.5 261.9h0M609.0 99.5h0M109.6 301.6h0M238.3 225.7h0M131.0 297.3h0M90.1 275.3h0M91.7 312.9h0M644.3 95.1h0M352.4 218.8h0M242.3 234.4h0M577.9 125.0h0M594.2 81.5h0M114.7 269.0h0M149.6 275.0h0M555.8 94.7h0M512.3 174.8h0M625.5 126.9h0M558.4 102.7h0M494.1 159.3h0M198.9 264.1h0M150.2 258.8h0M244.2 243.2h0M107.6 250.7h0M257.4 265.5h0M197.7 272.0h0M640.3 106.3h0M181.7 207.1h0M602.2 89.4h0M606.8 116.8h0M553.3 165.2h0M559.8 118.8h0M398.7 168.1h0M516.5 86.8h0M168.8 266.7h0M109.4 301.9h0M330.3 224.5h0M628.8 82.9h0M373.7 171.0h0M331.8 159.3h0M482.1 136.1h0M544.4 82.5h0M257.9 186.0h0M289.8 202.3h0M242.1 266.1h0M595.1 125.7h0M367.7 234.0h0M82.7 326.8h0M490.3 136.7h0M305.7 196.5h0M208.2 277.3h0M613.3 109.4h0M221.0 230.8h0M673.2 101.5h0M481.5 116.3h0M609.3 69.8h0M550.0 97.1h0M91.4 270.6h0M667.8 112.8h0M361.5 162.8h0M124.9 314.8h0M213.1 234.9h0M217.1 246.0h0M300.1 199.9h0M545.1 124.5h0M635.9 98.6h0M319.6 222.6h0M271.9 231.0h0M214.9 242.9h0M514.5 147.9h0M240.7 211.3h0M515.5 88.9h0M486.2 164.6h0M411.2 216.5h0M300.6 259.9h0M234.2 232.7h0M358.0 192.1h0M315.7 235.2h0M393.1 200.8h0M604.4 144.1h0M374.0 207.1h0M100.8 297.7h0M328.2 175.4h0M390.5 153.4h0M629.8 84.1h0M469.3 154.5h0M378.4 186.3h0M372.2 184.2h0M135.3 266.6h0M131.4 279.6h0M595.5 148.0h0M341.5 244.9h0M227.5 270.4h0M524.2 157.0h0M318.0 224.3h0M231.5 211.3h0M481.8 161.6h0M204.7 245.0h0M494.8 189.2h0M197.3 266.8h0M434.7 180.6h0M506.7 170.8h0M331.3 210.4h0M388.5 143.7h0M650.3 80.4h0M326.2 186.2h0M418.0 131.4h0M640.0 58.4h0M124.0 284.1h0M264.9 207.6h0M164.0 240.3h0M483.5 178.3h0M196.2 222.0h0M411.1 189.7h0M506.3 196.5h0M585.1 126.2h0M413.2 168.5h0M432.6 199.2h0M231.6 215.2h0M289.3 253.0h0M213.6 278.8h0M327.1 206.3h0M380.8 176.5h0M255.1 226.8h0M344.3 173.3h0M82.4 315.4h0M145.3 265.8h0M419.0 167.7h0M307.5 204.5h0M369.2 218.7h0M463.2 164.5h0M386.6 179.3h0M337.9 230.7h0M81.2 291.7h0M569.0 132.0h0M405.5 165.7h0M164.0 263.7h0M220.5 258.3h0M646.8 104.1h0M509.6 119.0h0M535.4 125.0h0M361.7 175.9h0M266.8 239.5h0M442.8 156.6h0M145.3 299.7h0M627.7 78.6h0M546.2 108.4h0M331.1 175.6h0M421.0 156.5h0M256.7 190.2h0M681.3 80.7h0M327.6 222.7h0M431.7 135.9h0M373.3 167.4h0M272.9 200.6h0M433.0 150.3h0M112.9 257.4h0M541.2 169.8h0M127.4 251.1h0M337.6 167.6h0M667.2 108.6h0M426.2 181.5h0M607.9 124.8h0M167.2 228.5h0M95.9 325.1h0M573.8 117.6h0M655.3 44.3h0M469.2 158.9h0M518.9 149.0h0M519.0 141.3h0M511.1 141.9h0M391.9 179.5h0M281.6 186.5h0M325.6 197.9h0M561.0 100.8h0M518.3 100.5h0M70.6 306.5h0M290.2 191.3h0M312.3 206.6h0M290.5 208.7h0M152.4 317.7h0M236.7 204.7h0M428.1 176.0h0M203.4 263.3h0M160.7 241.1h0M137.9 302.4h0M599.5 135.1h0M444.2 122.6h0M333.3 198.3h0M308.0 200.7h0M511.0 164.3h0M193.6 276.2h0M352.2 213.5h0M350.3 189.5h0M235.6 244.8h0M212.9 202.7h0M522.4 159.5h0M566.9 158.3h0M579.1 123.1h0M154.8 277.4h0M338.8 251.3h0M108.3 303.9h0M126.1 270.2h0M203.6 238.2h0M433.6 220.5h0M80.4 268.8h0M640.4 119.4h0M119.7 243.6h0M648.8 86.3h0M447.0 163.8h0M117.2 271.4h0M532.6 133.5h0M294.7 224.1h0M558.5 134.1h0M461.6 146.7h0M402.3 206.7h0M422.1 193.6h0M643.3 87.0h0M463.7 139.3h0M402.0 203.7h0M669.5 59.7h0M677.7 103.4h0M191.7 253.6h0M420.7 208.1h0M681.5 85.6h0M522.1 170.9h0M160.8 273.5h0M437.5 188.9h0M534.0 137.5h0M567.6 73.6h0M92.0 276.7h0M86.5 318.9h0M208.4 225.9h0M298.9 224.6h0M283.7 231.8h0M529.3 137.0h0M314.4 255.6h0M418.4 197.8h0M546.9 111.5h0M455.4 180.5h0M606.7 81.8h0M376.1 182.1h0M388.1 194.5h0M633.7 122.7h0M213.4 213.4h0M222.6 248.1h0M219.8 243.7h0M286.1 217.5h0M275.9 249.7h0M671.1 64.1h0M84.8 274.0h0M299.2 267.1h0M240.0 235.1h0M482.3 169.6h0M453.2 149.6h0M93.2 276.5h0M665.0 110.5h0M201.4 266.8h0M306.9 182.9h0M436.8 114.3h0M290.3 217.3h0M312.3 216.8h0M638.6 56.3h0M415.9 172.9h0M561.5 90.6h0M337.3 194.8h0M529.9 160.8h0M339.3 241.5h0M503.2 157.9h0M536.2 170.8h0M536.3 144.6h0M307.1 209.1h0M421.1 191.5h0M287.8 223.5h0M617.5 107.1h0M680.0 76.7h0M246.2 248.2h0M166.3 288.3h0M185.9 280.0h0M395.6 217.9h0M334.1 201.5h0M182.0 301.2h0M376.5 152.7h0M90.7 297.6h0M345.8 203.3h0M561.5 81.6h0M636.3 70.5h0M476.6 158.3h0M622.1 94.8h0M116.3 244.6h0M88.4 314.8h0M298.5 188.9h0M469.4 153.9h0M300.9 210.8h0M603.0 114.8h0M260.7 273.8h0M416.3 206.4h0M548.3 180.5h0M171.2 235.5h0M349.3 219.7h0M529.8 73.8h0M662.9 76.8h0M549.7 113.8h0M578.2 71.2h0M407.1 217.3h0M653.7 62.0h0M536.5 105.1h0M106.9 265.0h0M421.3 173.3h0M322.7 177.8h0M242.0 271.8h0M282.4 216.9h0M448.0 176.5h0M540.4 152.5h0M84.7 297.8h0M226.5 262.4h0M217.4 236.7h0M265.1 242.4h0M543.9 96.8h0M78.9 296.5h0M165.2 241.6h0M457.1 148.9h0M192.7 233.2h0M668.7 117.7h0M202.6 253.1h0M621.1 129.4h0M193.1 258.1h0M189.1 266.7h0M350.1 182.2h0M244.3 215.7h0M598.7 120.7h0M485.1 175.0h0M168.5 262.0h0M411.0 175.2h0M444.0 170.2h0M475.3 154.6h0M192.7 238.0h0M392.6 189.7h0M173.5 221.3h0M526.4 132.9h0M365.3 191.9h0M169.8 265.9h0M120.7 235.0h0M510.3 141.1h0M643.8 77.8h0M152.6 267.2h0M462.2 197.2h0M643.9 87.1h0M507.1 171.1h0M171.8 256.2h0M581.8 90.2h0M436.1 172.6h0M337.4 179.7h0M625.9 116.3h0M237.8 216.6h0M645.5 103.5h0M405.0 186.8h0M652.0 103.3h0M421.4 170.6h0M495.6 129.1h0M138.3 262.3h0M400.9 158.2h0M347.6 226.1h0M454.5 186.5h0M187.9 222.5h0M622.8 115.8h0M452.4 193.6h0M323.8 246.9h0M267.9 202.2h0M224.2 273.5h0M677.0 83.1h0M625.4 159.1h0M598.9 95.4h0M314.2 233.2h0M595.0 115.9h0M358.6 170.0h0M580.5 135.0h0M590.3 105.6h0M637.2 90.9h0M215.5 280.9h0M119.9 252.2h0M505.6 153.8h0M208.5 198.9h0M634.6 99.8h0M518.5 187.7h0M215.3 255.1h0M554.8 88.8h0M375.3 179.6h0M413.2 139.2h0M434.1 143.8h0M663.8 76.0h0M435.4 186.7h0M543.1 105.3h0M380.8 208.3h0M368.3 226.8h0M171.2 274.5h0M488.4 135.5h0M406.5 192.5h0M579.6 80.3h0M492.1 138.9h0M415.1 169.6h0M648.4 101.9h0M518.4 139.7h0M626.4 140.6h0M452.5 211.1h0M193.7 263.2h0M251.2 269.1h0M478.9 143.8h0M637.9 82.4h0M504.9 137.9h0M428.2 142.7h0M454.0 159.4h0M255.4 256.5h0M150.0 255.5h0M108.8 323.7h0M520.2 149.0h0M397.6 172.1h0M509.6 130.9h0M601.1 116.8h0M145.2 279.2h0M261.0 260.5h0M170.1 260.2h0M584.0 80.6h0M419.6 187.0h0M222.4 258.3h0M349.2 173.7h0M503.4 159.6h0M104.7 300.1h0M378.6 164.6h0M564.6 141.6h0M613.1 123.0h0M431.7 216.2h0M390.7 182.8h0M207.2 235.3h0M80.6 277.0h0M249.2 230.9h0M132.8 298.3h0M596.7 112.1h0M84.4 293.2h0M575.4 125.8h0M300.6 220.6h0M350.2 205.3h0M183.6 225.3h0M436.0 190.5h0M148.6 284.8h0M325.9 190.2h0M517.1 160.6h0M94.2 252.7h0M377.1 178.7h0M72.4 283.5h0M218.0 208.4h0M343.8 215.6h0M120.1 237.7h0M565.3 148.4h0M449.0 148.7h0M588.8 71.1h0M501.0 90.5h0M243.3 191.3h0M675.0 91.3h0M217.8 206.4h0M164.3 266.4h0M208.6 264.0h0M254.4 247.3h0M598.1 119.1h0M550.2 144.1h0M331.4 195.0h0M429.2 170.5h0M342.9 197.4h0M426.3 185.7h0M377.0 178.0h0M441.4 168.9h0M443.2 150.3h0M246.8 234.0h0M288.3 239.4h0M207.9 272.9h0M304.0 225.9h0M501.0 144.8h0M562.7 143.1h0M450.3 145.7h0M217.6 235.3h0M136.7 303.0h0M582.5 148.3h0M374.5 163.0h0M528.3 102.2h0M483.6 183.2h0M258.1 212.9h0M454.7 164.3h0M99.9 287.8h0M156.3 225.8h0M96.5 269.3h0M308.5 201.6h0M193.8 269.8h0M611.3 83.8h0M164.1 237.0h0M194.4 261.2h0M166.5 281.9h0M370.2 146.9h0M495.1 120.9h0M446.4 162.7h0M353.3 184.8h0M579.2 152.8h0M153.2 258.2h0M496.7 144.2h0M475.8 170.2h0M141.7 286.6h0M154.6 266.1h0M96.6 316.5h0M117.9 279.5h0M656.3 66.6h0M346.0 237.3h0M208.8 262.1h0M133.1 262.5h0M263.8 246.9h0M208.6 248.8h0M308.7 267.9h0M183.1 218.1h0M210.4 245.0h0M97.7 307.7h0M380.4 186.5h0M352.8 216.9h0M392.2 164.4h0M603.4 83.1h0M490.3 189.4h0M110.9 256.7h0M88.7 247.9h0M314.7 212.3h0M325.2 196.4h0M651.2 95.9h0M328.0 204.9h0M601.3 87.1h0M615.2 137.3h0M579.8 114.4h0M383.5 214.7h0M377.4 190.4h0M564.8 100.3h0M665.2 98.7h0M267.9 229.7h0M358.4 156.6h0M450.3 198.6h0M326.4 207.8h0M183.4 257.0h0M150.0 285.6h0M330.1 168.8h0M389.2 176.9h0M616.4 111.6h0M209.6 242.2h0M451.6 156.8h0M169.1 237.4h0M477.1 139.7h0M588.2 127.4h0M534.9 137.0h0M397.8 178.0h0M574.4 134.6h0M564.3 97.3h0M421.0 211.9h0M526.1 140.9h0M332.4 212.3h0M615.2 91.5h0M461.1 150.8h0M433.6 206.1h0M493.0 133.7h0M258.0 268.2h0M457.4 166.1h0M261.3 253.2h0M607.6 56.2h0M140.2 276.4h0M337.6 209.2h0M413.6 213.1h0M496.1 113.7h0M220.5 220.1h0M72.8 295.7h0M589.1 121.8h0M70.0 293.8h0M231.6 271.0h0M484.6 149.0h0M111.2 291.4h0M115.8 292.4h0M450.4 159.5h0M393.9 175.3h0M115.9 284.6h0M125.6 307.5h0M216.4 263.0h0M96.1 279.4h0M311.8 188.3h0M463.8 160.4h0M623.7 134.6h0M290.8 224.0h0M591.2 83.5h0M106.9 265.2h0M588.6 111.9h0M88.6 297.7h0M541.1 97.7h0M469.9 166.2h0M192.9 231.7h0M195.1 212.4h0M670.7 80.1h0M378.5 189.9h0M530.2 122.5h0M154.8 294.4h0M409.3 204.4h0M399.2 165.8h0M150.1 278.8h0M358.8 218.2h0M481.9 196.2h0M255.9 230.2h0M636.4 69.7h0M553.0 97.7h0M561.0 117.6h0M157.6 249.5h0M434.5 160.0h0M415.7 211.0h0M478.0 177.3h0M677.9 108.9h0M307.2 204.4h0M240.3 230.5h0M249.2 237.8h0M71.7 325.9h0M415.5 120.5h0M75.8 304.4h0M410.8 230.4h0M203.9 222.6h0M648.4 93.0h0M588.9 88.2h0M603.3 113.1h0M90.3 301.3h0M432.1 203.9h0M402.6 224.1h0M370.0 166.1h0M524.0 118.8h0M324.5 171.3h0M622.2 104.5h0M305.5 199.9h0M232.1 248.9h0M151.7 285.3h0M396.4 160.4h0M167.9 244.6h0M642.4 80.3h0M418.5 161.4h0M411.6 196.2h0M542.8 138.2h0M452.2 182.9h0M110.8 296.7h0M412.6 184.9h0M522.3 148.8h0M134.8 312.4h0M542.8 143.9h0M239.1 215.3h0M657.5 52.5h0M152.0 273.7h0M91.8 294.3h0M222.3 254.5h0M430.0 127.1h0M149.5 254.7h0M245.0 210.0h0M361.4 206.4h0M571.3 141.2h0M575.9 124.6h0M662.1 77.8h0M497.4 187.0h0M387.1 207.4h0M310.0 212.2h0M298.9 228.5h0M134.4 279.7h0M589.3 123.8h0M203.4 243.7h0M441.6 151.5h0M286.0 193.7h0M533.2 133.5h0M370.2 188.3h0M599.0 145.4h0M547.2 119.9h0M419.4 140.4h0M534.2 145.6h0M292.6 194.5h0M265.4 203.6h0M205.9 212.7h0M265.7 197.5h0M650.2 97.2h0M344.8 216.9h0M104.0 267.0h0M279.8 248.3h0M675.2 84.1h0M355.9 160.6h0M437.8 190.3h0M204.6 283.7h0M207.6 239.5h0M555.2 114.5h0M83.0 294.2h0M461.1 164.2h0M664.5 89.6h0M402.2 156.9h0M227.2 231.1h0M477.6 146.9h0M107.9 313.4h0M112.1 301.1h0M387.6 209.4h0M208.7 242.9h0M436.0 187.5h0M82.1 291.6h0M179.6 269.5h0M108.4 302.9h0M528.4 135.0h0M557.3 96.0h0M494.7 170.3h0M532.6 140.6h0M595.6 155.9h0M116.4 283.0h0M649.9 115.7h0M110.5 268.6h0M417.5 158.8h0M513.8 107.7h0M415.6 134.8h0M376.9 149.9h0M106.2 314.6h0M136.3 226.6h0M415.5 169.6h0M547.7 124.1h0M615.4 63.5h0M582.2 129.7h0M595.8 96.3h0M229.1 274.6h0M120.1 273.5h0M293.6 194.0h0M370.4 195.4h0M201.5 267.3h0M217.1 253.3h0M294.9 233.3h0M627.0 98.3h0M423.7 171.6h0M213.8 243.5h0M617.3 135.7h0M278.0 205.8h0M329.5 241.8h0M525.0 96.2h0M600.5 97.9h0M189.4 224.3h0M146.7 283.1h0M520.0 114.2h0M121.0 237.8h0M334.6 227.9h0M340.5 241.9h0M364.2 207.1h0M579.8 116.6h0M470.7 119.4h0M165.9 254.2h0M625.2 124.3h0M487.2 138.5h0M449.7 141.8h0M648.4 115.2h0M330.2 217.3h0M213.3 241.0h0M488.2 175.4h0M244.3 222.9h0M330.5 181.6h0M658.2 101.4h0M152.1 263.4h0M649.6 49.3h0M221.8 230.3h0M369.0 190.7h0M124.0 301.4h0M495.7 155.6h0M340.0 214.9h0M403.4 153.6h0M290.8 244.7h0M186.1 221.0h0M341.8 173.7h0M569.1 100.4h0M527.8 161.7h0M559.5 68.8h0M535.1 85.2h0M148.1 286.0h0M414.1 168.1h0M81.8 275.2h0M552.9 132.8h0M206.0 259.0h0M627.4 120.9h0M531.0 131.0h0M155.9 272.3h0M574.8 130.6h0M374.4 186.2h0M670.5 99.6h0M660.9 82.7h0M422.1 192.0h0M374.6 185.5h0M470.2 125.5h0M415.1 184.4h0M427.0 161.7h0M538.2 178.2h0M482.6 111.4h0M658.8 60.1h0M458.9 149.0h0M89.5 274.4h0M552.9 116.6h0M328.7 175.9h0M602.5 68.6h0M399.3 165.9h0M323.1 166.5h0M573.2 115.0h0M314.5 202.4h0M164.7 225.6h0M613.0 87.4h0M214.9 232.0h0M682.7 70.9h0M153.4 268.6h0M88.9 286.3h0M590.5 81.1h0M594.9 124.6h0M239.1 210.1h0M557.5 133.0h0M130.7 279.0h0M339.3 153.8h0M573.0 74.8h0M169.5 271.4h0M135.1 277.2h0M609.6 103.3h0M593.0 145.2h0M278.3 207.2h0M137.6 284.6h0M253.4 240.7h0M448.1 173.6h0M271.8 222.7h0M460.2 167.5h0M635.2 64.2h0M325.0 191.8h0M636.1 126.9h0M548.0 118.9h0M434.1 127.5h0M236.2 223.3h0M512.7 135.0h0M588.6 91.2h0M160.4 239.4h0M479.9 193.8h0M341.0 193.1h0M539.4 121.6h0M113.7 290.6h0M514.4 170.1h0M567.0 102.3h0M238.0 202.2h0M133.2 290.1h0M288.3 186.4h0M612.5 130.1h0M506.5 186.3h0M629.8 118.1h0M179.8 232.9h0M313.2 184.1h0M650.6 70.6h0M143.1 260.4h0M271.9 228.0h0M516.5 154.7h0M247.4 280.4h0M589.5 118.7h0M645.0 76.3h0M112.9 226.7h0M203.0 252.6h0M396.5 212.6h0M523.9 144.3h0M263.4 218.9h0M271.0 225.8h0M183.9 272.1h0M593.3 151.3h0M623.2 101.0h0M159.6 272.2h0M353.1 148.7h0M190.9 265.1h0M251.0 230.3h0M295.8 209.8h0M456.7 199.9h0M128.1 259.2h0M639.2 85.1h0M546.1 123.6h0M96.3 278.4h0M79.1 311.4h0M479.7 162.9h0M427.1 177.2h0M370.3 227.5h0M468.6 175.1h0M524.7 144.6h0M512.9 178.0h0M645.1 84.8h0M320.1 214.0h0M321.2 250.8h0M199.0 288.0h0M80.0 269.4h0M614.8 65.6h0M260.0 198.0h0M316.8 219.1h0M506.4 131.7h0M238.7 214.4h0M256.6 238.6h0M427.0 198.9h0M499.7 136.3h0M505.6 163.4h0M322.1 242.2h0M421.1 139.8h0M89.0 272.7h0M571.8 69.9h0M248.6 235.5h0M93.6 284.9h0M273.2 203.9h0M162.9 258.3h0M202.1 254.8h0M636.9 73.1h0M500.3 115.8h0M334.4 210.5h0M460.4 160.0h0M428.6 178.7h0M236.1 264.5h0M382.0 174.6h0M249.2 199.0h0M84.2 287.7h0M656.7 49.3h0M392.6 172.4h0M194.9 232.9h0M401.3 172.9h0M476.9 196.5h0M218.8 292.3h0M332.2 200.2h0M117.4 287.3h0M240.9 193.2h0M358.1 202.7h0M627.4 108.8h0M676.0 99.9h0M270.9 213.8h0M255.7 210.4h0M84.9 295.6h0M69.6 291.6h0M438.7 159.6h0M610.0 61.0h0M373.2 175.8h0M460.1 150.6h0M342.7 205.0h0M171.8 282.6h0M676.6 43.2h0M668.6 84.3h0M297.2 218.4h0M231.4 245.5h0M469.1 207.4h0M254.5 178.8h0M574.4 142.5h0M227.6 223.6h0M224.0 188.9h0M207.4 257.0h0M139.9 244.8h0M388.6 170.1h0M606.0 90.5h0M275.5 209.3h0M97.6 267.3h0M123.3 272.9h0M411.1 159.6h0M212.6 250.8h0M159.2 281.1h0M149.9 264.6h0M209.5 222.1h0M134.9 250.1h0M663.9 105.1h0M103.7 252.8h0M626.1 94.4h0M530.3 135.4h0M185.1 272.1h0M439.1 222.0h0M277.4 227.6h0M309.5 206.1h0M292.7 229.2h0M533.1 99.4h0M172.6 259.9h0M519.6 84.7h0M194.2 261.9h0M379.4 153.0h0M666.9 73.6h0M381.8 164.1h0M101.6 260.6h0M262.5 230.5h0M419.2 196.7h0M169.6 307.1h0M486.1 149.6h0M523.3 149.1h0M564.6 89.8h0M520.1 182.9h0M103.8 282.7h0M301.4 208.6h0M459.6 174.3h0M570.7 146.3h0M206.2 195.9h0M677.6 40.1h0M472.9 145.9h0M671.7 142.6h0M376.9 165.1h0M609.9 106.5h0M475.7 176.5h0M379.7 214.4h0M474.8 150.7h0M230.9 252.8h0M346.6 163.9h0M610.6 85.6h0M182.0 235.7h0M407.9 179.0h0M134.5 284.9h0M295.1 208.8h0M634.0 95.1h0M658.7 62.4h0M465.4 196.1h0M171.6 284.4h0M375.6 184.3h0M86.5 311.6h0M602.7 115.8h0M429.8 203.6h0M572.6 94.8h0M271.2 226.5h0M550.8 98.5h0M98.7 305.4h0M88.9 252.0h0M471.7 180.2h0M440.0 161.0h0M593.1 112.1h0M469.7 179.4h0M220.7 280.2h0M629.0 65.8h0M569.5 137.1h0M313.1 215.5h0M613.5 84.3h0M569.7 151.4h0M105.4 277.1h0M189.9 278.9h0M452.9 161.4h0M276.3 241.4h0M394.4 175.1h0M295.1 211.2h0M530.1 153.8h0M580.5 134.5h0M473.7 175.5h0M318.7 253.7h0M658.2 81.9h0M150.7 282.0h0M164.4 309.1h0M119.6 253.0h0M578.5 105.3h0M157.4 258.7h0M554.7 110.4h0M508.4 125.3h0M494.8 155.0h0M302.1 207.0h0M271.0 222.9h0M537.5 143.9h0M211.6 254.1h0M330.9 202.7h0M248.5 219.8h0M276.4 214.0h0M594.6 89.4h0M357.5 198.6h0M382.0 153.8h0M518.2 153.9h0M102.9 296.2h0M234.6 247.9h0M583.4 126.2h0M334.5 194.6h0M190.3 246.6h0M106.4 305.9h0M354.9 205.1h0M133.5 311.8h0M494.9 133.1h0M347.4 155.1h0M428.7 162.4h0M610.4 132.0h0M148.3 305.2h0M521.4 173.6h0M355.6 171.0h0M108.3 256.5h0M513.8 137.8h0M276.7 227.5h0M548.1 102.2h0M653.3 93.2h0M82.4 331.9h0M89.9 258.9h0M426.4 146.9h0M446.4 171.0h0M365.9 221.1h0M582.4 149.1h0M494.5 151.1h0M467.3 175.4h0M327.5 215.1h0M537.0 132.5h0M510.6 169.4h0M157.4 279.3h0M189.7 263.8h0M458.3 164.8h0M542.5 122.3h0M614.2 87.1h0M223.5 240.7h0M500.2 151.8h0M329.2 168.8h0M265.7 207.8h0M288.7 211.4h0M557.7 127.4h0M347.5 218.1h0M531.4 100.1h0M79.2 303.5h0M476.8 144.0h0M626.4 100.7h0M682.5 41.9h0M522.7 118.8h0M652.0 114.7h0M417.2 208.7h0M454.5 167.6h0M630.7 97.9h0M536.9 133.7h0M654.6 102.0h0M442.0 160.5h0M676.8 125.0h0M93.5 325.6h0M414.9 172.1h0M288.2 262.2h0M102.2 294.6h0M200.2 267.2h0M448.8 150.7h0M88.8 294.4h0M371.8 141.5h0M261.0 206.8h0M447.3 158.6h0M222.7 243.1h0M190.1 242.6h0M220.4 271.9h0M626.0 113.0h0M179.7 263.9h0M357.7 207.3h0M166.7 286.7h0M492.3 139.7h0M641.2 57.6h0M172.2 252.5h0M274.3 228.0h0M221.7 216.8h0M401.2 179.2h0M110.1 285.3h0M557.0 128.4h0M564.7 73.5h0M460.4 198.2h0M399.1 159.1h0M182.8 278.4h0M299.0 190.2h0M435.3 138.3h0M437.1 191.3h0M252.4 203.4h0M404.6 221.8h0M370.6 217.5h0M682.0 61.2h0M523.8 100.2h0M256.5 220.6h0M175.8 269.7h0M208.6 222.3h0M575.2 130.1h0M643.4 76.1h0M198.5 238.0h0M365.7 185.3h0M152.5 258.1h0M456.1 171.0h0M202.2 267.0h0M329.2 198.9h0M281.5 231.3h0M534.3 164.6h0M151.7 289.4h0M383.9 215.7h0M491.6 116.9h0M305.7 214.6h0M278.8 212.6h0M81.7 310.0h0M135.1 258.8h0M171.6 289.2h0M168.1 265.2h0M427.4 146.8h0M439.5 153.7h0M340.4 211.8h0M316.4 183.8h0M662.2 83.6h0M502.5 131.0h0M610.1 111.7h0M413.2 182.6h0M324.5 224.5h0M561.3 146.9h0M443.4 191.2h0M85.2 264.4h0M668.9 113.8h0M349.1 162.2h0M442.5 151.4h0M356.1 207.4h0M398.1 161.6h0M300.0 207.4h0M281.5 243.0h0M565.4 93.2h0M516.6 117.1h0M547.9 107.6h0M238.2 234.4h0M522.3 110.4h0M535.3 108.6h0M677.6 115.5h0M545.1 94.3h0M321.7 181.5h0M381.8 177.7h0M268.4 236.6h0M85.5 308.3h0M174.4 272.2h0M454.4 129.7h0M396.1 202.7h0M276.7 232.9h0M443.4 143.0h0M355.2 206.9h0M300.8 207.0h0M371.9 179.8h0M219.8 239.4h0M354.7 221.4h0M398.0 129.3h0M153.1 240.8h0M242.7 243.8h0M610.6 106.0h0M432.6 154.7h0M280.8 217.6h0M85.6 302.8h0M238.3 233.4h0M137.0 262.4h0M650.3 118.7h0M383.2 176.9h0M98.3 279.7h0M421.3 175.8h0M416.3 207.2h0M316.7 213.0h0M439.8 156.6h0M598.2 111.7h0M177.1 256.2h0M148.4 296.2h0M455.8 150.7h0M409.3 157.8h0M552.6 161.3h0M515.9 171.8h0M605.1 106.3h0M624.2 128.4h0M499.1 144.0h0M297.0 225.6h0M256.7 217.4h0M137.5 237.3h0M154.9 302.8h0M616.7 113.6h0M76.0 260.0h0M537.6 151.0h0M426.8 176.5h0M222.7 252.5h0M107.5 282.9h0M353.1 179.7h0M544.3 135.3h0M251.2 263.1h0M93.4 334.8h0M319.3 240.2h0M549.3 125.4h0M402.9 175.9h0M626.6 130.1h0M324.8 208.2h0M354.5 213.1h0M678.9 52.8h0M502.2 98.3h0M236.3 196.3h0M652.4 85.8h0M228.7 225.8h0M75.5 282.3h0M413.3 209.7h0M247.9 262.9h0M363.2 223.3h0M227.4 258.2h0M470.1 204.6h0M375.3 160.6h0M280.7 252.9h0M423.0 194.6h0M461.9 210.6h0M576.0 167.0h0M413.1 146.1h0M113.0 317.0h0M423.1 148.0h0M101.7 302.7h0M350.6 190.7h0M524.0 114.8h0M188.7 239.1h0M275.5 205.5h0M596.7 122.8h0M208.0 269.3h0M158.4 243.3h0M501.0 168.5h0M386.8 197.3h0M293.1 182.8h0M363.4 221.4h0M296.1 232.6h0M210.9 219.3h0M411.7 164.3h0M79.9 294.0h0M407.1 155.9h0M224.5 237.9h0M163.6 281.2h0M452.6 184.2h0M297.8 195.6h0M224.5 236.4h0M553.8 125.5h0M312.1 197.4h0M132.9 320.9h0M156.0 275.5h0M241.6 198.3h0M349.9 227.1h0M501.3 169.6h0M497.3 143.2h0M255.2 266.0h0M230.1 236.0h0M628.9 137.0h0M330.0 225.9h0M271.6 249.6h0M484.4 181.1h0M176.1 282.0h0M96.4 267.2h0M131.9 229.2h0M76.5 313.5h0M456.1 137.0h0M669.5 92.0h0M311.5 250.5h0M545.7 71.4h0M411.0 167.3h0M367.4 198.3h0M564.4 111.6h0M103.6 261.5h0M209.3 250.7h0M102.2 284.9h0M80.0 325.7h0M339.5 199.3h0M413.9 218.8h0M606.7 139.0h0M175.7 239.6h0M411.0 186.5h0M389.6 207.4h0M498.3 133.4h0M607.5 95.9h0M472.8 162.7h0M317.7 195.6h0M434.6 189.3h0M569.0 175.7h0M120.8 261.5h0M455.8 158.9h0M244.5 209.0h0M400.4 154.8h0M397.6 175.2h0M465.7 187.2h0M302.7 217.9h0M189.2 255.6h0M139.0 243.4h0M291.4 216.8h0M672.8 114.6h0M650.1 75.0h0M653.6 76.5h0M449.1 170.9h0M292.8 177.2h0M493.0 147.9h0M360.6 200.8h0M112.6 290.7h0M112.2 272.6h0M193.9 205.3h0M74.0 303.9h0M373.0 145.9h0M335.1 244.9h0M630.1 103.2h0M294.8 229.0h0M198.3 262.8h0M532.9 130.4h0M208.8 238.2h0M334.9 214.4h0M506.4 121.5h0M506.1 142.0h0M128.0 278.7h0M88.4 298.9h0M146.0 285.4h0M198.0 276.3h0M592.3 108.8h0M382.0 207.2h0M577.3 106.4h0M363.2 197.7h0M416.8 202.0h0M216.6 218.6h0M357.6 217.3h0M298.9 195.2h0M640.9 61.3h0M619.9 84.5h0M306.8 201.2h0M562.5 108.8h0M211.2 291.9h0M375.0 183.6h0M639.8 64.0h0M637.1 87.1h0M239.3 234.0h0M472.3 160.9h0M200.6 229.7h0M583.6 113.2h0M458.1 209.3h0M574.2 114.2h0M625.6 141.8h0M386.6 156.7h0M93.9 267.2h0M600.3 94.4h0M669.6 69.2h0M618.9 68.7h0M291.4 209.0h0M331.6 192.6h0M563.1 76.2h0M448.2 113.1h0M435.2 210.4h0M400.4 144.5h0M190.7 223.3h0M219.4 255.3h0M528.2 150.3h0M545.9 92.7h0M277.1 236.9h0M319.0 202.7h0M540.4 108.7h0M650.5 116.9h0M428.4 208.6h0M89.7 241.8h0M507.5 105.4h0M164.1 259.3h0M427.5 185.6h0M179.7 272.0h0M146.0 287.1h0M263.1 213.2h0M670.6 24.6h0M140.0 264.0h0M563.8 118.6h0M679.1 56.1h0M629.6 124.5h0M665.3 118.3h0M129.0 307.7h0M653.8 139.6h0M600.7 79.6h0M143.0 270.3h0M560.2 118.2h0M390.3 169.0h0M250.2 243.6h0M576.6 104.6h0M496.9 108.3h0M501.3 136.0h0M600.1 139.6h0M650.8 122.4h0M508.7 135.5h0M205.1 237.8h0M438.8 124.1h0M588.7 111.1h0M208.8 264.3h0M307.0 251.5h0M70.8 294.1h0M288.0 191.7h0M76.0 305.3h0M682.4 129.8h0M330.4 193.3h0M241.4 209.7h0M350.5 212.3h0M449.1 118.4h0M331.6 236.1h0M623.4 92.8h0M587.6 135.2h0M666.2 119.2h0M247.7 234.6h0M235.2 226.8h0M519.7 180.4h0M341.0 189.9h0M276.2 241.2h0M502.2 161.3h0M244.7 261.3h0M481.5 189.8h0M428.5 192.4h0M334.2 183.8h0M280.5 220.7h0M211.9 196.6h0M85.3 268.0h0M95.1 294.2h0M92.0 296.7h0M599.0 143.3h0M527.4 175.1h0M83.9 239.5h0M171.3 239.2h0M165.7 283.8h0M564.4 150.5h0M144.1 246.6h0M128.5 232.6h0M322.8 239.7h0M484.7 143.7h0M451.8 180.6h0M562.2 107.9h0M596.9 116.0h0M265.7 259.1h0M530.4 157.2h0M663.1 101.2h0M504.4 133.1h0M581.8 122.5h0M594.6 122.4h0M91.3 286.8h0M552.1 92.3h0M218.8 289.8h0M171.1 264.5h0M141.1 279.5h0M375.6 134.1h0M428.2 170.6h0M672.4 89.1h0M643.8 46.9h0M236.2 256.6h0M503.4 171.4h0M456.8 163.8h0M78.8 270.9h0M633.5 79.0h0M256.0 193.0h0M235.4 219.7h0M674.7 58.8h0M657.3 100.9h0M519.8 160.9h0M258.4 216.5h0M188.9 236.6h0M69.4 315.9h0M399.4 193.0h0M606.8 69.7h0M340.4 191.3h0M659.3 113.8h0M80.9 273.8h0M402.5 165.9h0M218.0 203.6h0M246.7 268.5h0M640.5 120.3h0M489.4 185.1h0M530.4 137.4h0M170.1 255.5h0M100.0 301.9h0M207.7 261.5h0M370.5 180.8h0M218.0 271.8h0M435.2 159.1h0M375.1 141.9h0M674.4 89.7h0M559.1 147.4h0M350.8 191.5h0M275.8 235.7h0M195.9 237.6h0M567.9 95.1h0M412.6 188.4h0M584.9 107.9h0M118.8 258.0h0M519.0 120.9h0M147.4 263.0h0M218.0 243.7h0M378.9 228.5h0M98.0 271.4h0M447.2 211.1h0M436.3 152.4h0M174.3 278.9h0M184.4 254.7h0M565.0 102.5h0M642.3 113.8h0M608.4 63.0h0M462.3 115.1h0M473.5 137.0h0M619.8 71.0h0M454.5 118.4h0M414.6 162.2h0M153.5 270.9h0M156.1 233.6h0M118.8 258.3h0M214.4 272.2h0M473.8 173.7h0M486.7 123.5h0M269.9 203.3h0M337.4 176.4h0M99.1 233.3h0M155.1 279.2h0M406.8 206.6h0M117.7 293.7h0M510.7 135.6h0M347.8 214.4h0M144.4 314.9h0M452.1 155.2h0M483.7 108.2h0M244.0 282.6h0M411.2 150.7h0M495.4 139.2h0M141.5 243.7h0M636.0 59.8h0M320.1 227.8h0M433.9 150.1h0M283.1 210.6h0M181.3 220.4h0M227.4 195.4h0M544.1 162.5h0M539.6 145.8h0M102.9 249.3h0M288.2 201.8h0M246.4 221.3h0M241.8 210.0h0M342.0 200.1h0M343.1 243.5h0M87.7 277.2h0M488.3 130.4h0M143.8 245.7h0M601.6 113.9h0M105.1 304.7h0M641.1 108.5h0M118.2 254.1h0M154.0 276.2h0M560.0 118.4h0M244.5 233.1h0M519.0 127.5h0M663.8 95.2h0M612.1 126.1h0M198.1 240.1h0M172.5 255.6h0M314.9 236.9h0M313.3 214.8h0M201.2 276.6h0M106.5 293.7h0M601.0 60.1h0M517.8 178.3h0M209.2 262.0h0M337.5 187.5h0M70.6 329.9h0M542.2 162.4h0M156.3 265.3h0M375.1 197.7h0M671.6 138.1h0M342.6 172.3h0M341.5 191.1h0M208.4 251.5h0M246.0 250.9h0M399.3 199.4h0M481.4 196.3h0M72.7 276.6h0M108.3 280.3h0M630.7 109.3h0M595.2 128.4h0M479.7 131.6h0M673.9 116.4h0M288.5 218.6h0M233.7 231.2h0M408.8 154.3h0M200.5 286.0h0M575.1 135.5h0M297.0 236.1h0M428.3 154.0h0M513.9 108.3h0M70.8 272.1h0M228.4 237.9h0M534.4 156.7h0M569.3 85.1h0M414.9 181.2h0M628.3 102.3h0M591.7 110.1h0M223.9 220.2h0M148.2 277.5h0M198.9 201.6h0M319.1 190.9h0M412.5 178.5h0M625.9 58.6h0M592.5 98.3h0M138.0 265.3h0M592.8 108.8h0M661.8 108.5h0M648.0 50.7h0M266.0 228.5h0M450.8 195.9h0M229.1 239.2h0M183.7 214.9h0M610.7 52.8h0M604.3 123.9h0M106.1 284.3h0M153.0 282.5h0M173.0 273.8h0M387.1 193.8h0M136.1 287.7h0M458.3 128.5h0M246.9 249.4h0M150.7 293.3h0M273.4 233.0h0M149.2 282.1h0M470.9 144.4h0M562.1 102.3h0M208.3 220.2h0M444.9 186.0h0M74.4 320.8h0M227.5 228.9h0M235.4 220.4h0M250.1 211.7h0M386.8 208.0h0M505.1 125.0h0M602.2 97.2h0M345.6 189.4h0M296.3 220.1h0M151.9 284.9h0M223.4 241.9h0M432.8 153.1h0M642.7 98.6h0M341.5 209.7h0M662.2 89.5h0M157.9 255.6h0M84.0 276.1h0M284.0 240.4h0M554.4 111.5h0M348.2 177.7h0M406.4 177.0h0M312.2 227.2h0M294.2 241.8h0M116.9 284.1h0M215.7 254.0h0M547.5 153.6h0M505.0 171.6h0M369.9 171.7h0M622.4 134.2h0M488.5 192.8h0M136.8 304.9h0M424.5 195.8h0M310.4 212.2h0M296.3 217.7h0M134.6 230.3h0M353.2 179.6h0M289.3 180.7h0M364.8 164.3h0M611.0 116.1h0M437.1 154.1h0M526.5 112.0h0M559.9 127.1h0M90.4 294.0h0M671.2 69.2h0M663.0 102.9h0M244.6 199.9h0M413.2 190.9h0M216.8 213.8h0M279.1 204.9h0M478.1 138.2h0M493.9 150.6h0M631.8 89.1h0M159.1 288.1h0M309.8 231.5h0M355.9 178.7h0M524.3 163.7h0M70.3 307.8h0M219.3 278.1h0M533.3 122.2h0M560.3 109.7h0M234.9 254.2h0M315.7 207.6h0M534.9 140.7h0M528.8 168.9h0M325.2 174.1h0M323.8 232.4h0M169.2 260.2h0M631.0 56.1h0M476.0 146.3h0M579.2 126.2h0M162.9 261.0h0M250.7 268.9h0M564.0 124.0h0M319.3 223.6h0M336.3 196.0h0M97.0 268.0h0M514.6 153.3h0M503.1 136.3h0M230.6 218.2h0M360.4 175.9h0M459.5 184.3h0M327.3 178.2h0M456.8 134.9h0M112.4 261.4h0M268.0 246.7h0M385.7 201.3h0M461.5 163.5h0M562.5 77.1h0M488.7 138.6h0M455.0 153.0h0M111.0 275.2h0M289.7 173.8h0M377.6 206.2h0M448.8 153.0h0M662.4 95.6h0M512.2 181.8h0M309.7 203.6h0M293.4 205.0h0M128.9 272.8h0M73.5 284.0h0M481.3 155.7h0M550.2 143.3h0M634.4 58.9h0M298.2 227.5h0M75.6 281.7h0M616.7 108.7h0M344.7 204.9h0M329.6 248.7h0M79.3 306.4h0M570.7 106.6h0M324.2 214.0h0M430.8 171.8h0M579.9 135.2h0M522.2 115.2h0M646.3 92.2h0M216.9 257.2h0M630.2 61.1h0M124.5 304.3h0M492.3 122.9h0M531.3 106.3h0M395.7 161.0h0M223.2 255.4h0M376.7 163.2h0M295.9 216.9h0M564.6 94.5h0M169.2 284.2h0M226.5 248.7h0M494.8 158.5h0M302.9 244.4h0M579.2 117.6h0M418.9 168.1h0M168.2 260.5h0M231.0 255.7h0M484.8 137.9h0M81.1 295.7h0M284.8 226.4h0M219.1 225.9h0M654.5 108.3h0M127.6 299.7h0M518.7 137.7h0M146.1 251.1h0M209.6 260.4h0M615.7 105.5h0M171.7 257.8h0M423.8 187.2h0M382.7 167.0h0M430.4 155.4h0M450.4 188.6h0M176.7 263.8h0M486.8 116.4h0M651.4 110.9h0M578.5 68.7h0M76.8 266.2h0M485.5 139.5h0M104.1 277.8h0M391.0 196.5h0M516.4 105.9h0M128.6 311.0h0M576.1 129.6h0M610.7 97.1h0M421.0 173.7h0M210.3 238.4h0M200.1 248.5h0M244.9 251.6h0M175.6 241.2h0M652.1 125.6h0M221.3 257.0h0M457.7 160.9h0M206.9 268.9h0M79.4 261.5h0M236.5 232.1h0M427.2 204.9h0M530.8 145.5h0M366.4 153.9h0M146.5 272.9h0M138.3 223.9h0M420.2 166.7h0M226.8 197.8h0M394.2 192.2h0M192.0 251.1h0M362.0 191.5h0M318.7 166.1h0M98.2 269.5h0M184.7 277.0h0M519.3 154.0h0M325.8 206.1h0M304.9 221.5h0M479.2 172.8h0M235.9 219.9h0M511.3 144.6h0M81.4 251.6h0M181.9 292.7h0M588.5 105.4h0M466.0 178.6h0M407.6 160.8h0M80.0 254.1h0M502.7 114.5h0M303.8 233.1h0M89.7 300.6h0M101.2 294.8h0M77.7 273.9h0M293.8 170.5h0M420.0 181.4h0M358.5 212.8h0M390.1 216.5h0M453.2 178.5h0M256.7 226.8h0M436.8 196.5h0M260.9 237.4h0M227.3 279.8h0M144.1 221.9h0M129.8 234.0h0M400.6 160.3h0M475.0 144.5h0M185.1 228.9h0M346.9 175.6h0M517.9 115.2h0M305.4 253.4h0M464.6 142.7h0M502.5 138.6h0M134.0 249.7h0M666.6 87.3h0M541.9 130.4h0M600.1 112.1h0M151.2 302.1h0M335.4 180.1h0M493.5 147.0h0M227.4 262.9h0M141.2 302.4h0M549.1 133.4h0M639.9 85.7h0M138.8 264.4h0M634.4 136.6h0M466.8 161.2h0M193.9 268.5h0M235.4 229.9h0M571.3 81.2h0M503.8 139.6h0M163.6 269.3h0M446.2 203.5h0M165.8 265.0h0M393.3 234.6h0M323.5 195.5h0M288.1 210.9h0M201.3 290.0h0M403.7 151.1h0M664.0 78.6h0M417.8 189.0h0M278.0 182.0h0M134.8 301.0h0M609.0 89.7h0M120.8 280.1h0M306.8 193.0h0M357.8 178.7h0M110.9 294.3h0M297.2 176.6h0M497.5 124.6h0M112.8 301.2h0M303.5 232.7h0M72.0 313.8h0M313.3 181.5h0M287.2 198.8h0M634.1 95.0h0M76.1 307.7h0M381.9 191.2h0M413.5 168.4h0M391.3 183.1h0M649.8 144.2h0M509.3 159.2h0M466.3 165.8h0M104.2 276.1h0M163.1 249.7h0M510.1 122.6h0M613.9 127.6h0M182.3 271.3h0M444.9 163.9h0M640.4 132.6h0M230.7 265.7h0M79.6 282.8h0M349.0 223.7h0M258.9 219.1h0M288.5 214.1h0M145.2 248.2h0M524.9 125.3h0M124.0 287.1h0M564.1 117.3h0M425.7 149.7h0M182.1 296.5h0M479.1 196.4h0M76.5 295.8h0M647.7 47.5h0M574.1 97.6h0M655.3 128.9h0M79.2 293.4h0M179.6 248.8h0M630.6 117.7h0M182.0 222.5h0M351.3 204.6h0M146.6 295.2h0M629.1 51.3h0M275.8 227.6h0M457.6 149.9h0M89.8 286.0h0M381.4 181.9h0M555.0 127.2h0M211.6 278.4h0M258.5 251.6h0M167.8 228.2h0M381.4 189.1h0M130.7 284.7h0M659.1 113.7h0M244.3 231.8h0M341.1 159.6h0M241.1 258.1h0M342.3 198.8h0M250.6 215.4h0M673.4 83.9h0M239.6 271.0h0M237.9 250.1h0M630.2 85.4h0M580.5 118.0h0M196.2 260.4h0M536.9 172.5h0M175.9 288.0h0M76.6 283.5h0M570.9 110.5h0M562.7 137.0h0M352.1 198.3h0M504.4 135.2h0M292.8 215.8h0M103.5 301.2h0M324.9 207.7h0M492.5 163.5h0M545.1 172.7h0M319.0 203.6h0M666.0 50.9h0M379.8 199.8h0M192.0 260.6h0M111.6 275.1h0M79.1 280.4h0M453.5 183.1h0M155.0 284.2h0M381.8 206.9h0M287.2 225.3h0M391.8 206.0h0M605.5 105.7h0M551.9 88.8h0M212.5 235.9h0M322.2 216.2h0M451.3 118.9h0M412.5 174.0h0M296.9 241.8h0M277.2 229.9h0M503.8 138.7h0M440.7 168.1h0M106.4 265.3h0M75.5 254.0h0M430.6 206.4h0M258.7 194.6h0M266.5 201.9h0M526.6 90.0h0M653.3 85.0h0M351.1 213.5h0M574.7 113.5h0M636.2 71.2h0M496.4 109.8h0M656.1 82.1h0M224.8 218.8h0M648.2 95.4h0M380.8 144.0h0M251.8 236.5h0M89.1 256.2h0M236.3 208.5h0M581.6 115.1h0M216.8 252.0h0M151.5 292.0h0M122.4 298.4h0M113.1 315.0h0M88.9 307.6h0M537.8 128.6h0M180.6 228.7h0M230.0 232.8h0M679.1 103.0h0M322.0 212.4h0M375.0 163.1h0M316.5 247.7h0M347.8 206.2h0M498.5 180.1h0M221.8 215.5h0M666.6 98.0h0M269.7 224.2h0M157.3 294.1h0M283.0 256.2h0M396.3 155.7h0M596.3 124.2h0M353.6 240.3h0M612.4 145.5h0M213.2 227.2h0M647.7 111.4h0M294.9 216.6h0M313.1 241.9h0M481.0 175.1h0M639.7 121.8h0M593.2 124.6h0M389.9 172.1h0M122.2 275.4h0M529.3 102.1h0M607.5 106.2h0M323.8 236.2h0M114.5 245.3h0M488.7 123.0h0M239.3 251.8h0M90.4 295.9h0M514.8 185.3h0M442.1 161.2h0M344.1 223.0h0M434.6 177.5h0M199.7 285.5h0M499.6 132.7h0M284.1 218.8h0M188.9 235.7h0M617.3 92.0h0M232.7 249.1h0M526.2 156.1h0M318.3 208.4h0M594.1 131.0h0M537.1 167.1h0M128.3 277.2h0M506.8 156.6h0M637.0 57.9h0M611.3 119.9h0M304.6 200.7h0M593.0 112.6h0M127.5 269.2h0M626.7 54.3h0M675.9 69.6h0M289.8 171.7h0M504.1 194.1h0M256.7 204.5h0M535.4 117.6h0M120.2 297.7h0M223.8 235.9h0M554.2 127.1h0M424.6 147.1h0M80.8 312.0h0M626.7 118.7h0M644.4 43.1h0M286.6 248.9h0M184.6 261.0h0M582.1 89.7h0M172.7 256.7h0M426.1 185.8h0M586.8 126.3h0M136.5 240.4h0M595.6 103.0h0M259.4 215.7h0M569.0 119.8h0M208.8 251.9h0M343.7 189.6h0M430.1 165.5h0M477.2 148.2h0M392.6 198.0h0M449.0 145.2h0M228.5 223.9h0M208.6 248.7h0M630.0 119.8h0M98.9 296.1h0M677.8 92.6h0M538.8 87.0h0M496.7 136.0h0M314.3 173.3h0M400.1 202.3h0M270.3 207.4h0M636.2 100.1h0M100.8 312.3h0M667.2 81.6h0M600.4 91.7h0M410.0 194.6h0M561.8 118.5h0M130.8 319.5h0M398.0 189.3h0M486.4 163.1h0M521.4 119.0h0M520.3 142.6h0M472.4 181.8h0M236.3 219.1h0M192.6 281.3h0M443.6 139.1h0M94.7 275.5h0M84.6 283.8h0M158.2 224.1h0M172.7 273.4h0M261.8 235.9h0M306.3 184.2h0M390.4 182.2h0M308.5 214.4h0M428.6 185.0h0M670.5 66.5h0M290.4 200.5h0M406.5 153.4h0M655.0 108.5h0M322.8 206.3h0M293.8 236.0h0M427.7 153.8h0M648.9 87.8h0M171.6 265.4h0M364.2 181.5h0M309.1 195.3h0M385.8 187.8h0M239.7 209.3h0M507.3 146.4h0M646.0 92.6h0M667.4 78.9h0M181.9 275.3h0M474.1 156.0h0M341.8 204.6h0M617.2 92.1h0M84.4 302.8h0M298.2 209.6h0M612.7 82.9h0M289.3 220.1h0M288.2 193.1h0M570.8 108.7h0M399.2 193.3h0M371.1 153.8h0M223.9 250.1h0M541.9 152.9h0M358.7 172.0h0M427.1 194.9h0M69.9 291.4h0M249.9 192.1h0M236.3 253.3h0M483.0 153.0h0M507.4 161.0h0M290.4 194.0h0M384.6 227.5h0M512.1 132.6h0M166.7 306.6h0M391.5 185.5h0M262.3 194.3h0M251.6 249.6h0M244.6 231.3h0M579.6 93.3h0M144.9 270.3h0M538.3 106.8h0M114.6 298.7h0M441.7 182.9h0M478.3 170.3h0M196.1 274.3h0M378.3 181.8h0M543.8 126.0h0M614.3 108.4h0M396.3 176.1h0M118.5 279.3h0M143.7 271.8h0M80.3 312.1h0M609.5 120.4h0M519.1 181.1h0M586.7 91.9h0M254.3 212.8h0M336.7 213.2h0M204.6 223.2h0M672.8 136.4h0M446.2 192.0h0M563.1 126.3h0M239.5 196.9h0M561.1 141.8h0M327.3 160.1h0M84.4 258.2h0M386.5 176.5h0M195.6 228.2h0M256.3 212.8h0M411.8 182.2h0M513.8 150.3h0M136.5 288.2h0M277.0 203.0h0M445.4 171.0h0M219.9 264.6h0M193.9 281.0h0M116.5 258.1h0M648.3 116.7h0M466.5 148.6h0M117.4 304.5h0M261.0 223.3h0M341.5 204.5h0M237.3 217.7h0M378.8 217.0h0M658.8 108.1h0M401.3 180.1h0M74.3 263.5h0M343.6 195.9h0M224.4 275.2h0M131.6 268.1h0M347.1 187.7h0M548.2 113.0h0M516.4 158.8h0M399.2 126.0h0M645.4 90.0h0M506.1 161.4h0M609.2 125.1h0M344.3 189.7h0M131.2 315.0h0M455.5 132.4h0M582.5 87.5h0M501.0 136.8h0M290.5 229.7h0M159.8 281.8h0M619.9 121.1h0M469.7 138.1h0M120.2 265.0h0M507.3 134.4h0M618.2 84.7h0M200.4 251.6h0M370.3 182.0h0M216.5 231.9h0M499.7 141.0h0M503.3 187.9h0M254.8 177.2h0M237.4 234.1h0M382.5 214.9h0M667.6 75.5h0M452.6 176.0h0M492.6 154.0h0M84.9 332.7h0M363.6 221.2h0M235.4 249.7h0M76.6 313.5h0M129.5 287.4h0M292.0 205.7h0M311.0 219.0h0M140.6 233.6h0M352.3 166.5h0M529.5 162.2h0M362.6 223.5h0M278.2 238.2h0M194.4 295.2h0M92.2 315.2h0M564.9 173.8h0M548.7 120.9h0M274.2 214.4h0M158.4 260.7h0M630.4 98.5h0M176.5 246.0h0M675.1 69.5h0M411.8 130.2h0M165.5 285.5h0M434.8 113.5h0M586.9 105.6h0M312.1 214.1h0M495.1 165.3h0M532.6 99.7h0M181.4 272.7h0M183.6 254.7h0M169.7 261.8h0M650.4 124.8h0M644.9 103.3h0M195.0 229.1h0M561.7 112.8h0M554.6 94.7h0M97.7 282.1h0M596.0 105.9h0M96.1 307.8h0M140.6 287.8h0M527.1 106.5h0M195.7 240.1h0M537.9 119.2h0M238.6 216.3h0M552.3 127.2h0M540.3 131.3h0M466.5 158.2h0M444.7 153.8h0M302.1 222.6h0M496.4 153.0h0M235.9 240.7h0M488.0 93.2h0M521.0 144.4h0M479.7 160.0h0M243.6 217.6h0M558.3 112.6h0M308.4 196.1h0M311.5 233.9h0M623.5 107.6h0M162.0 258.8h0M123.9 268.0h0M203.3 265.1h0M351.6 171.7h0M647.2 46.7h0M603.1 51.6h0M605.7 73.0h0M533.4 139.0h0M385.8 151.1h0M542.2 138.0h0M187.3 257.2h0M467.7 129.3h0M354.5 188.6h0M334.9 207.7h0M450.7 149.4h0M318.6 204.0h0M95.5 304.3h0M633.7 86.8h0M328.0 219.4h0M468.6 147.2h0M117.5 306.7h0M165.3 288.4h0M325.8 220.5h0M266.9 214.0h0M358.9 204.5h0M569.6 91.3h0M466.7 147.4h0M71.1 315.8h0M136.3 287.8h0M528.6 176.0h0M571.9 142.5h0M212.5 248.8h0M483.3 177.0h0M491.3 161.1h0M431.2 167.6h0M628.7 79.3h0M343.9 219.5h0M175.0 231.8h0M315.5 214.1h0M469.7 183.2h0M543.3 142.6h0M303.8 255.9h0M255.2 219.0h0M378.6 173.2h0M92.0 303.2h0M435.1 123.7h0M651.9 65.6h0M249.6 212.4h0M544.4 173.5h0M575.8 102.0h0M312.7 225.1h0M664.0 74.1h0M682.3 73.6h0M85.7 278.1h0M152.0 254.1h0M151.8 273.1h0M580.8 97.8h0M322.7 195.8h0M379.1 224.0h0M525.6 112.6h0M323.7 189.0h0M340.9 191.4h0M94.8 296.2h0M417.9 168.7h0M388.3 226.9h0M313.6 206.4h0M105.4 303.5h0M537.0 137.6h0M428.2 180.4h0M399.4 193.3h0M84.3 290.0h0M240.5 265.9h0M551.9 116.4h0M683.1 49.9h0M69.7 300.6h0M570.1 159.8h0M95.6 286.2h0M678.8 95.1h0M416.4 170.6h0M308.3 186.4h0M190.8 264.6h0M222.6 223.2h0M564.5 129.2h0M416.5 172.1h0M416.9 134.1h0M168.0 243.6h0M602.1 139.0h0M283.8 214.6h0M308.5 211.0h0M452.0 169.2h0M215.9 239.8h0M236.7 220.6h0M281.7 231.4h0M78.9 287.0h0M344.9 220.8h0M363.4 175.4h0M595.9 112.2h0M193.7 242.2h0M587.8 111.9h0M498.1 170.2h0M223.8 206.5h0M490.7 120.6h0M534.1 136.7h0M116.3 256.6h0M275.3 243.3h0M146.2 259.4h0M389.5 160.2h0M70.1 301.2h0M261.9 255.5h0M517.1 108.7h0M550.7 85.0h0M561.7 102.5h0M93.0 297.8h0M366.5 184.5h0M629.3 117.1h0M291.9 244.7h0M399.6 162.9h0M119.1 294.3h0M143.2 267.1h0M459.2 145.2h0M565.9 120.9h0M421.3 135.8h0M117.8 240.2h0M492.8 126.8h0M87.3 275.0h0M548.4 113.6h0M83.8 289.4h0M265.4 249.9h0M449.8 151.4h0M646.3 94.6h0M333.2 211.0h0M362.2 218.4h0M588.3 114.8h0M482.4 114.9h0M640.8 61.4h0M616.1 113.3h0M446.1 154.6h0M590.3 93.2h0M282.7 179.3h0M71.4 299.8h0M384.0 224.7h0M672.0 71.0h0M245.0 277.5h0M391.0 177.4h0M584.0 89.1h0M586.3 154.9h0M599.0 95.6h0M564.2 150.5h0M431.4 168.6h0M89.3 291.6h0M140.0 256.8h0M429.4 196.3h0M254.4 235.7h0M394.1 216.0h0M408.6 194.6h0M466.4 136.6h0M638.4 118.2h0M602.1 73.7h0M106.0 291.0h0M323.4 173.1h0M392.3 158.9h0M639.8 98.6h0M296.6 207.1h0M155.1 235.3h0M295.7 240.5h0M225.0 242.8h0M409.9 125.3h0M380.0 190.8h0M573.2 140.1h0M252.8 199.1h0M517.5 161.6h0M583.5 109.2h0M227.5 253.1h0M396.3 152.2h0M307.6 215.7h0M483.7 148.3h0M387.1 199.3h0M668.6 116.2h0M645.5 83.7h0M285.3 238.4h0M277.7 181.1h0M308.4 212.0h0M528.6 150.7h0M483.0 153.5h0M410.8 195.5h0M189.8 254.9h0M208.9 231.1h0M396.8 166.4h0M489.1 119.4h0M666.1 90.4h0M225.1 205.1h0M180.0 277.1h0M605.0 108.4h0M604.3 140.8h0M367.6 241.4h0M583.0 108.3h0M630.1 86.8h0M570.1 141.3h0M404.1 166.6h0M355.9 209.4h0M610.7 95.5h0M468.7 153.3h0M550.3 104.2h0M258.8 201.8h0M317.3 182.1h0M356.9 165.0h0M677.4 122.6h0M246.9 231.3h0M413.5 141.8h0M616.4 105.3h0M639.2 127.3h0M486.0 145.3h0M482.4 188.8h0M339.6 198.0h0M391.2 206.1h0M520.4 193.4h0M540.7 120.0h0M604.2 149.8h0M72.7 306.6h0M223.4 196.0h0M270.7 211.0h0M357.4 177.7h0M418.8 171.1h0M448.4 198.0h0M140.4 260.9h0M175.1 239.6h0M465.1 146.0h0M480.5 174.4h0M134.4 246.8h0M244.4 219.0h0M673.6 129.8h0M607.0 124.5h0M620.7 95.9h0M252.7 202.7h0M329.4 183.3h0M404.6 161.1h0M631.0 124.1h0M230.7 248.6h0M204.5 247.0h0M552.4 125.0h0M281.4 182.8h0M161.4 258.4h0M255.5 199.2h0M78.3 343.4h0M624.7 119.4h0M339.8 193.9h0M599.3 133.8h0M576.1 129.0h0M248.8 210.6h0M383.8 179.3h0M137.3 236.0h0M412.8 147.3h0M321.9 229.6h0M601.4 127.6h0M603.4 104.5h0M599.2 57.3h0M333.8 223.0h0M452.9 159.4h0M147.3 256.7h0M583.0 113.1h0M103.1 253.0h0M283.0 214.6h0M651.9 47.3h0M579.4 103.4h0M618.9 115.1h0M181.9 233.8h0M77.2 335.7h0M169.3 241.1h0M471.3 173.5h0M524.8 117.6h0M455.0 134.6h0M241.3 231.9h0M478.1 154.0h0M390.2 182.2h0M633.1 125.8h0M604.2 115.6h0M421.0 169.2h0M554.5 98.6h0M443.2 147.3h0M291.0 199.0h0M414.4 189.6h0M79.9 289.8h0M425.8 117.9h0M390.6 195.1h0M420.1 181.3h0M384.1 141.8h0M364.1 185.2h0M481.7 155.7h0M232.4 199.0h0M465.4 159.4h0M212.7 208.3h0M488.4 147.2h0M216.5 222.5h0M370.9 173.3h0M412.9 167.3h0M180.3 266.7h0M252.3 205.8h0M494.4 150.0h0M246.4 269.3h0M632.6 108.7h0M441.1 129.5h0M584.7 126.8h0M70.7 263.7h0M381.0 175.2h0M579.2 99.6h0M481.3 122.9h0M107.4 251.8h0M512.3 96.8h0M180.6 258.2h0M150.9 269.1h0M515.2 111.0h0M561.6 120.5h0M186.6 248.0h0M94.2 254.1h0M268.2 212.8h0M512.9 172.1h0M330.8 199.0h0M317.1 209.0h0M567.1 132.7h0M305.6 230.1h0M491.0 156.9h0M316.3 236.5h0M542.6 118.0h0M294.0 204.7h0M238.5 251.0h0M428.7 120.8h0M483.1 136.4h0M489.8 117.4h0M272.2 253.4h0M640.4 102.8h0M593.6 117.7h0M169.7 277.6h0M143.9 293.5h0M300.1 215.3h0M460.9 108.6h0M317.4 239.3h0M679.2 56.3h0M372.1 192.3h0M489.7 158.6h0M180.6 284.6h0M417.6 166.7h0M335.5 177.4h0M516.0 145.9h0M299.7 197.8h0M334.1 216.2h0M301.3 262.4h0M518.2 147.4h0M491.7 191.4h0M240.6 228.3h0M505.8 151.7h0M361.3 135.7h0M427.1 179.5h0M214.2 267.9h0M208.3 220.9h0M149.5 303.6h0M147.9 281.0h0M674.6 37.3h0M544.3 147.7h0M635.7 124.9h0M496.0 116.7h0M535.5 129.4h0M192.6 255.9h0M191.4 230.4h0M193.1 220.5h0M417.2 188.3h0M418.6 213.7h0M160.1 244.6h0M277.5 234.4h0M556.5 137.0h0M404.5 147.1h0M321.3 220.8h0M645.6 78.4h0M481.3 132.1h0M624.7 87.1h0M75.0 267.5h0M535.6 118.2h0M332.3 201.6h0M355.7 225.4h0M90.9 257.8h0M398.6 200.7h0M594.5 160.2h0M497.8 118.3h0M408.2 160.2h0M219.2 256.6h0M372.5 187.5h0M577.0 144.2h0M282.2 187.2h0M287.4 207.2h0M234.8 240.2h0M411.4 178.2h0M166.5 261.6h0M538.0 152.0h0M592.6 76.6h0M380.2 215.7h0M125.6 275.8h0M669.1 71.6h0M369.0 176.4h0M195.5 216.4h0M508.2 114.3h0M128.1 279.8h0M541.4 75.0h0M279.7 254.7h0M170.0 287.1h0M153.3 310.5h0M327.1 217.2h0M311.2 187.7h0M351.1 206.7h0M634.7 98.4h0M660.5 111.6h0M564.3 131.2h0M305.1 234.8h0M494.0 171.2h0M372.2 221.2h0M345.8 186.2h0M159.4 300.4h0M248.7 212.6h0M682.6 61.3h0M310.8 163.9h0M153.4 257.3h0M420.1 210.0h0M448.5 145.9h0M252.2 265.8h0M627.4 84.9h0M82.1 294.7h0M364.9 179.2h0M672.6 83.1h0M453.6 132.9h0M406.2 202.1h0M667.2 71.2h0M302.1 209.0h0M536.1 142.9h0M194.1 228.7h0M271.6 172.7h0M345.6 192.5h0M81.2 301.6h0M229.2 253.3h0M244.0 219.2h0M399.2 137.3h0M404.9 213.5h0M345.6 199.5h0M348.4 184.1h0M495.8 148.6h0M530.1 126.1h0M655.6 116.3h0M331.6 200.9h0M148.1 308.4h0M194.3 201.5h0M223.1 216.7h0M89.2 277.9h0M166.2 240.3h0M431.6 180.9h0M675.2 94.1h0M165.5 303.5h0M445.1 204.5h0M274.5 191.5h0M520.0 117.4h0M119.7 240.8h0M275.7 203.3h0M519.7 118.9h0M417.2 175.3h0M452.0 136.1h0M204.8 242.6h0M91.0 313.6h0M419.2 153.9h0M507.9 149.9h0M462.6 185.0h0M212.2 222.4h0M598.3 92.6h0M70.0 275.7h0M193.9 289.6h0M311.6 199.9h0M147.8 281.3h0M155.4 276.3h0M522.8 158.3h0M211.3 222.9h0M412.1 202.0h0M340.6 199.9h0M644.3 66.5h0M507.6 171.4h0M280.2 223.4h0M176.4 264.3h0M138.9 296.8h0M116.5 276.6h0M281.0 233.3h0M585.1 107.6h0M92.3 281.5h0M125.5 279.1h0M290.7 196.3h0M353.4 179.5h0M564.3 111.9h0M675.0 91.9h0M444.7 134.3h0M192.0 301.2h0M427.5 171.3h0M401.7 167.9h0M338.2 204.1h0M393.8 234.3h0M347.4 201.1h0M192.1 282.9h0M424.7 173.8h0M292.1 178.0h0M448.6 159.5h0M591.7 116.9h0M594.8 89.8h0M357.4 192.7h0M472.2 166.0h0M219.4 237.9h0M324.0 200.8h0M356.6 147.9h0M663.8 105.6h0M678.5 67.6h0M652.3 84.8h0M237.8 270.5h0M453.8 124.7h0M487.8 135.9h0M573.5 157.2h0M671.4 73.3h0M306.5 213.4h0M369.5 203.4h0M422.1 166.3h0M579.3 68.0h0M531.4 178.4h0M295.4 161.2h0M347.0 216.5h0M387.6 180.0h0M414.2 171.6h0M248.9 233.6h0M675.5 90.9h0M569.0 80.8h0M649.2 124.8h0M447.9 176.3h0M192.1 267.8h0M127.5 324.4h0M262.7 250.7h0M145.2 267.6h0M479.4 141.0h0M493.4 192.6h0M592.7 100.5h0M388.5 178.2h0M633.5 48.3h0M394.5 185.8h0M509.8 155.5h0M335.0 218.1h0M682.5 76.7h0M305.5 247.3h0M508.2 104.4h0M654.6 119.6h0M646.0 84.4h0M282.9 253.2h0M130.1 275.4h0M567.7 118.8h0M240.5 217.8h0M100.4 284.7h0M644.1 87.7h0M389.7 139.9h0M299.5 228.7h0M262.4 189.7h0M257.1 223.9h0M524.3 143.2h0M255.5 251.1h0M334.8 174.1h0M381.1 194.2h0M228.1 242.3h0M645.4 116.2h0M269.6 199.7h0M407.9 220.6h0M91.0 296.0h0M588.1 84.0h0M325.0 165.4h0M297.6 222.4h0M135.7 266.2h0M284.7 195.5h0M340.9 172.7h0M441.8 152.2h0M221.5 245.3h0M248.3 225.3h0M559.8 144.2h0M286.5 193.6h0M522.6 140.8h0M458.0 202.9h0M552.1 116.1h0M78.2 318.6h0M297.5 176.9h0M415.9 170.8h0M603.5 119.2h0M109.9 298.5h0M620.8 129.2h0M479.7 154.1h0M525.3 118.5h0M72.2 299.1h0M601.0 69.9h0M402.3 208.6h0M245.2 195.7h0M245.3 267.1h0M601.4 111.7h0M107.2 269.5h0M327.4 188.3h0M519.0 115.8h0M114.8 246.5h0M182.8 267.6h0M340.4 214.2h0M658.0 85.8h0M547.0 131.2h0M193.9 298.7h0M154.6 276.0h0M521.0 168.1h0M526.4 109.3h0M671.2 132.3h0M652.4 58.3h0M383.8 177.0h0M142.2 292.3h0M310.7 227.7h0M103.6 311.4h0M421.3 186.5h0M533.8 81.8h0M281.8 225.7h0M143.1 249.0h0M159.1 220.2h0M513.5 126.9h0M275.6 257.8h0M361.5 208.1h0M333.5 228.9h0M422.8 150.4h0M378.0 196.2h0M311.9 239.7h0M383.0 200.0h0M570.6 127.6h0M270.7 213.2h0M72.2 280.1h0M670.3 97.1h0M363.6 198.8h0M512.0 181.9h0M194.8 269.0h0M120.4 300.1h0M500.2 183.5h0M409.1 152.6h0M336.4 218.5h0M538.6 84.9h0M313.4 224.3h0M121.1 258.0h0M682.8 110.1h0M513.5 148.2h0M188.8 239.8h0M307.3 230.6h0M422.9 135.1h0M165.3 248.3h0M267.5 230.1h0M160.3 271.3h0M139.7 297.0h0M489.9 149.6h0M247.2 241.5h0M634.8 89.3h0M128.6 239.9h0M553.1 94.8h0M167.4 260.0h0M187.3 282.7h0M518.9 129.8h0M150.1 250.4h0M494.0 152.7h0M516.8 188.6h0M593.2 61.1h0M607.3 123.4h0M421.0 166.3h0M498.9 114.1h0M279.6 221.8h0M240.5 239.5h0M535.9 124.5h0M110.6 286.7h0M581.9 83.1h0M372.9 172.9h0M171.6 277.1h0M219.5 226.5h0M220.3 270.7h0M90.1 261.1h0M214.3 250.9h0M663.6 74.9h0M326.5 209.5h0M630.8 97.1h0M601.3 105.2h0M143.0 269.1h0M406.5 162.7h0M366.7 210.9h0M118.3 309.3h0M514.1 169.2h0M268.2 239.8h0M469.1 121.5h0M527.3 177.1h0M509.0 126.0h0M485.4 135.4h0M258.9 239.0h0M457.1 158.3h0M508.1 135.2h0M376.3 203.0h0M476.7 129.2h0M610.9 106.4h0M202.2 269.1h0M152.8 258.7h0M337.9 189.3h0M594.9 136.2h0M270.9 230.7h0M677.2 71.8h0M255.7 240.0h0M654.1 91.5h0M608.6 144.4h0M453.3 180.6h0M552.7 95.2h0M194.7 271.7h0M126.6 234.5h0M73.7 287.5h0M149.6 272.0h0M432.2 165.8h0M92.9 294.9h0M123.7 279.6h0M443.7 202.9h0M490.0 111.1h0M192.9 296.4h0M581.8 115.8h0M147.4 282.9h0M508.8 92.2h0M211.8 228.0h0M621.9 90.7h0M576.3 87.7h0M632.2 88.1h0M348.4 176.0h0M604.4 105.4h0M536.3 125.5h0M658.6 57.6h0M386.2 161.3h0M568.8 68.1h0M146.3 268.1h0M158.3 295.5h0M106.5 278.6h0M152.1 258.5h0M200.8 208.6h0M448.8 157.4h0M437.8 137.8h0M625.8 125.3h0M146.3 269.7h0M536.3 111.2h0M372.2 228.5h0M439.8 164.0h0M144.9 232.6h0M128.7 257.0h0M406.6 145.0h0M651.5 89.2h0M394.3 159.7h0M429.8 172.7h0M468.3 189.0h0M209.6 243.6h0M583.3 127.6h0M206.2 222.7h0M323.5 232.1h0M331.6 174.4h0M610.9 91.1h0M572.5 103.1h0M366.1 189.4h0M109.6 295.7h0M135.6 273.3h0M126.1 288.9h0M543.4 81.4h0M484.2 147.8h0M255.6 279.6h0M186.7 218.1h0M642.0 122.6h0M639.4 90.8h0M125.7 247.6h0M464.3 170.6h0M609.4 133.8h0M438.9 176.3h0M605.7 124.9h0M90.6 257.1h0M392.5 149.7h0M242.4 276.4h0M572.3 107.7h0M375.7 186.7h0M525.9 151.1h0M382.1 214.4h0M446.8 140.8h0M470.4 162.3h0M526.4 124.6h0M223.5 267.2h0M474.1 184.0h0M235.2 224.7h0M133.7 267.5h0M352.2 202.0h0M462.6 138.1h0M569.4 113.6h0M462.0 136.0h0M267.1 188.8h0M218.6 243.4h0M484.1 142.2h0M259.0 226.0h0M644.5 103.1h0M411.8 203.1h0M433.9 172.7h0M566.7 116.6h0M673.1 94.7h0M386.3 201.3h0M154.4 261.1h0M376.9 153.8h0M671.1 85.8h0M608.3 121.0h0M577.2 74.0h0M183.2 272.9h0M220.1 271.1h0M658.7 75.7h0M334.9 166.7h0M486.6 139.6h0M341.7 237.6h0M363.0 185.6h0M561.2 123.0h0M413.9 195.6h0M230.2 216.0h0M414.8 130.6h0M424.2 170.2h0M366.1 223.0h0M153.2 302.2h0M623.8 113.2h0M300.0 256.0h0M281.2 227.7h0M120.6 298.4h0M536.3 137.2h0M438.0 174.8h0M564.6 123.1h0M576.0 136.1h0M470.3 185.0h0M149.7 247.7h0M360.1 187.5h0M534.7 169.9h0M312.4 207.2h0M366.7 167.1h0M147.7 285.7h0M246.2 266.3h0M390.9 192.7h0M566.4 118.7h0M112.0 274.3h0M681.3 124.6h0M102.4 286.7h0M529.0 179.2h0M290.0 234.2h0M321.1 200.1h0M110.5 252.5h0M385.1 218.3h0M561.6 126.1h0M526.1 129.0h0M134.0 259.5h0M636.3 101.4h0M478.3 128.2h0M301.6 206.6h0M394.5 229.6h0M469.3 161.4h0M579.9 127.0h0M473.3 109.1h0M80.8 257.6h0M145.0 222.9h0M178.7 205.8h0M674.1 74.6h0M386.7 197.6h0M518.6 124.3h0M338.9 192.6h0M299.4 212.6h0M582.6 78.6h0M584.8 72.5h0M566.9 95.8h0M580.7 63.6h0M209.0 262.5h0M538.8 111.6h0M579.7 136.7h0M298.2 206.7h0M186.4 262.1h0M200.4 245.6h0M213.2 208.5h0M358.5 224.8h0M677.1 79.4h0M416.0 161.8h0M540.4 175.6h0M343.9 204.5h0M420.3 164.1h0M669.8 117.0h0M407.4 192.5h0M328.4 186.0h0M151.5 240.0h0M227.6 274.1h0M557.4 85.2h0M674.4 73.4h0M193.3 265.7h0M314.3 222.9h0M391.5 133.1h0M406.6 168.9h0M638.7 67.2h0M97.8 321.4h0M562.6 102.2h0M92.5 302.4h0M330.0 218.7h0M679.2 69.6h0M378.3 191.1h0M488.0 156.6h0M408.5 196.6h0M193.1 288.4h0M340.8 202.8h0M602.2 53.6h0M156.4 279.7h0M353.2 189.0h0M579.1 116.1h0M293.6 236.3h0M307.2 213.3h0M449.0 165.6h0M605.7 132.8h0M490.1 145.7h0M527.9 169.6h0M121.5 294.0h0M627.2 104.7h0M330.8 164.3h0M178.5 266.9h0M657.5 58.4h0M422.3 143.5h0M391.3 197.0h0M457.4 188.2h0M177.1 255.5h0M295.3 200.6h0M323.3 215.4h0M494.3 118.8h0M129.0 268.3h0M130.5 257.2h0M308.4 209.2h0M231.9 226.8h0M216.8 289.0h0M414.7 171.0h0M582.0 73.3h0M92.0 300.3h0M241.1 223.0h0M339.6 184.2h0M169.8 219.9h0M371.1 198.9h0M459.0 165.9h0M227.0 232.0h0M615.3 125.3h0M179.8 259.4h0M632.2 96.6h0M456.0 159.2h0M606.3 115.9h0M444.8 176.1h0M530.3 155.3h0M551.7 113.7h0M510.5 123.9h0M165.8 267.4h0M357.0 192.9h0M329.5 208.0h0M443.3 153.0h0M513.1 130.3h0M208.8 250.7h0M528.3 117.6h0M309.2 238.5h0M472.7 165.2h0M605.9 67.5h0M71.2 323.2h0M78.2 292.3h0M503.1 124.5h0M404.6 185.3h0M368.8 191.6h0M551.8 148.9h0M416.2 139.1h0M672.6 65.0h0M668.9 75.8h0M131.8 282.7h0M179.2 237.3h0M175.1 225.9h0M235.1 264.2h0M503.5 144.7h0M486.2 105.1h0M434.3 220.6h0M247.1 227.5h0M559.6 143.4h0M242.0 235.2h0M596.4 127.1h0M382.6 191.6h0M475.2 128.8h0M207.1 244.5h0M470.4 193.4h0M532.6 131.5h0M654.6 125.0h0M584.8 119.6h0M355.9 231.6h0M610.6 114.3h0M663.5 85.8h0M527.2 174.6h0M324.4 183.3h0M239.8 242.0h0M468.2 156.9h0M298.3 233.7h0M315.8 197.5h0M123.9 304.2h0M611.9 103.3h0M200.5 281.6h0M665.4 57.8h0M378.9 205.7h0M518.0 136.0h0M323.1 176.4h0M471.6 186.6h0M322.0 181.8h0M592.6 136.0h0M221.2 285.4h0M327.6 194.2h0M542.9 129.1h0M590.7 129.9h0M609.7 57.7h0M579.9 73.2h0M672.1 123.1h0M232.1 234.6h0M310.7 191.1h0M383.2 230.8h0M288.5 241.9h0M356.2 226.1h0M505.1 162.0h0M320.3 159.2h0M212.3 239.1h0M390.0 191.6h0M102.9 241.0h0M161.7 278.6h0M105.5 281.2h0M207.4 249.2h0M369.4 152.3h0M237.3 202.2h0M180.4 258.3h0M266.3 252.9h0M387.2 188.4h0M401.1 212.7h0M673.2 71.3h0M646.3 108.1h0M591.1 132.8h0M279.0 247.7h0M652.5 85.1h0M208.2 239.9h0M526.5 146.7h0M290.7 206.8h0M587.0 105.8h0M193.1 244.3h0M267.4 209.6h0M110.6 266.0h0M401.7 208.0h0M593.1 130.3h0M318.2 229.3h0M563.1 117.7h0M272.6 239.8h0M663.9 109.1h0M657.4 51.7h0M84.2 282.1h0M194.3 269.6h0M133.8 285.4h0M397.3 168.3h0M546.7 91.0h0M558.6 147.7h0M404.3 209.3h0M321.8 203.0h0M525.5 106.0h0M177.9 262.4h0M602.5 107.3h0M110.5 265.5h0M561.9 120.9h0M548.3 123.5h0M403.3 208.8h0M680.1 112.3h0M283.1 224.7h0M179.5 294.4h0M175.5 253.9h0M204.7 230.5h0M526.4 153.6h0M161.8 282.0h0M551.9 105.2h0M399.7 146.0h0M397.7 188.9h0M293.3 228.0h0M545.5 127.1h0M110.7 276.3h0M494.8 134.8h0M450.1 165.7h0M416.7 175.4h0M557.0 85.6h0M89.4 258.3h0M486.8 147.7h0M98.9 290.2h0M456.5 157.4h0M419.7 209.2h0M350.9 209.3h0M458.2 159.6h0M231.5 230.3h0M155.2 269.1h0M150.8 290.7h0M545.4 135.9h0M169.3 267.5h0M354.4 188.6h0M164.7 249.4h0M341.9 217.8h0M454.9 148.5h0M520.8 123.6h0M536.1 122.6h0M504.7 135.2h0M75.9 283.8h0M191.1 228.3h0M450.6 162.3h0M438.3 173.6h0M371.9 187.6h0M233.6 207.9h0M438.3 118.1h0M233.6 265.4h0M404.0 170.3h0M644.9 81.3h0M355.3 178.7h0M144.4 251.6h0M516.0 108.8h0M606.1 111.0h0M575.5 85.2h0M334.0 162.2h0M567.2 110.2h0M98.2 258.0h0M102.6 319.7h0M171.6 250.6h0M665.2 87.3h0M572.3 96.4h0M112.6 265.5h0M502.7 165.0h0M535.7 156.6h0M593.0 65.4h0M385.5 191.1h0M349.0 204.0h0M72.4 302.7h0M89.8 291.9h0M396.3 189.4h0M248.5 248.9h0M90.5 256.6h0M430.4 158.7h0M306.5 215.0h0M348.7 201.5h0M223.0 242.9h0M180.2 242.3h0M253.6 211.2h0M321.7 221.6h0M652.7 39.4h0M112.5 282.6h0M484.4 135.1h0M572.8 115.7h0M222.2 201.5h0M655.0 119.3h0M255.8 205.2h0M611.2 105.9h0M93.0 297.7h0M175.2 221.3h0M471.9 134.9h0M586.9 119.0h0M298.1 179.9h0M448.4 175.8h0M468.5 161.1h0M568.7 58.5h0M167.0 257.3h0M647.5 100.1h0M618.3 98.4h0M504.4 166.0h0M644.6 80.1h0M107.6 275.9h0M319.6 240.6h0M269.9 193.8h0M155.3 223.8h0M148.3 253.9h0M397.0 194.5h0M278.2 248.3h0M212.9 239.8h0M443.2 173.4h0M383.4 161.4h0M637.8 123.9h0M522.6 177.6h0M215.1 251.8h0M311.0 205.3h0M678.7 72.7h0M413.0 196.9h0M642.6 85.4h0M295.4 217.6h0M672.7 47.9h0M521.9 147.9h0M453.6 139.5h0M659.4 51.7h0M302.3 205.1h0M504.6 122.5h0M573.9 86.3h0M414.4 179.2h0M233.4 266.4h0M205.5 210.8h0M71.1 308.9h0M409.3 210.7h0M419.2 150.4h0M308.7 220.9h0M592.3 91.2h0M515.0 158.9h0M378.3 186.1h0M356.2 189.8h0M215.6 274.1h0M626.3 103.6h0M560.4 119.6h0M452.3 210.2h0M260.0 230.0h0M598.8 93.7h0M620.9 77.3h0M660.0 67.6h0M302.1 224.0h0M390.3 157.8h0M202.9 224.1h0M341.7 190.6h0M586.3 101.4h0M475.8 169.3h0M487.7 175.8h0M545.0 105.3h0M313.1 220.4h0M318.6 215.0h0M102.1 287.7h0M254.4 245.3h0M675.0 63.5h0M517.4 107.6h0M416.7 166.7h0M553.7 98.8h0M222.5 230.1h0M486.0 185.8h0M671.4 85.3h0M441.0 162.6h0M407.2 170.6h0M301.6 215.8h0M664.3 55.7h0M99.6 312.0h0M659.6 103.3h0M681.0 87.1h0M371.5 156.6h0M273.2 222.9h0M180.2 286.7h0M501.4 147.0h0M571.6 114.9h0M495.8 155.9h0M512.3 172.1h0M89.9 311.1h0M197.1 249.5h0M206.9 252.6h0M452.5 120.2h0M319.5 209.6h0M287.7 222.3h0M101.0 295.4h0M375.2 203.8h0M589.6 111.5h0M241.2 245.1h0M613.0 107.9h0M322.0 218.2h0M159.9 232.1h0M469.3 168.0h0M463.5 186.1h0M69.7 310.4h0M315.9 205.5h0M89.7 286.3h0M375.8 200.9h0M510.8 131.1h0M359.1 185.2h0M147.1 310.7h0M507.5 144.5h0M578.6 125.3h0M573.6 109.6h0M208.2 251.3h0M365.8 179.0h0M491.0 114.8h0M210.3 233.9h0M423.7 135.0h0M538.7 94.0h0M258.0 236.0h0M522.0 135.1h0M378.1 213.2h0M289.8 204.3h0M372.2 194.2h0M320.4 187.1h0M542.1 155.2h0M356.8 174.2h0M644.5 125.8h0M675.0 48.4h0M110.9 260.6h0M365.2 203.1h0M400.0 175.6h0M299.2 172.1h0M245.1 235.2h0M609.3 150.8h0M123.9 319.8h0M396.1 208.7h0M654.1 92.2h0M216.5 282.5h0M188.5 261.1h0M384.0 221.5h0M168.1 231.7h0M466.1 145.9h0M173.8 227.5h0M149.7 285.9h0M283.6 226.4h0M112.1 307.3h0M192.8 257.7h0M343.7 206.6h0M211.6 226.9h0M138.2 251.7h0M493.0 178.3h0M393.9 180.9h0M354.7 194.8h0M276.0 224.7h0M239.7 229.9h0M365.4 179.4h0M523.9 101.2h0M625.3 87.4h0M657.0 72.2h0M381.7 207.9h0M665.3 66.7h0M636.1 135.3h0M495.1 157.0h0M535.4 178.3h0M342.1 198.4h0M186.5 264.6h0M575.9 130.6h0M246.3 254.7h0M161.1 275.6h0M354.4 198.5h0M229.6 214.5h0M391.8 200.9h0M635.4 93.6h0M325.2 203.0h0M451.1 189.9h0M252.0 249.2h0M582.8 106.2h0M254.8 241.5h0M332.5 230.7h0M185.6 251.1h0M137.0 296.3h0M383.7 213.7h0M318.8 174.6h0M505.2 132.3h0M227.5 245.0h0M259.4 205.4h0M178.4 237.9h0M383.9 184.9h0M413.5 177.0h0M138.2 295.0h0M364.3 190.0h0M261.4 228.0h0M668.0 73.4h0M222.8 253.8h0M205.6 240.3h0M398.2 153.9h0M418.4 191.1h0M467.9 169.8h0M109.2 260.4h0M559.7 137.5h0M138.5 280.2h0M109.1 239.2h0M546.4 167.2h0M215.9 274.9h0M321.6 199.7h0M165.5 242.6h0M204.6 246.3h0M231.3 256.1h0M280.1 196.8h0M594.7 135.0h0M615.9 156.0h0M572.6 151.8h0M471.8 121.7h0M311.3 182.0h0M137.0 266.3h0M559.9 142.9h0M340.0 190.4h0M337.5 176.7h0M197.5 244.9h0M367.1 176.0h0M333.0 172.3h0M491.4 154.1h0M540.1 121.7h0M412.6 148.2h0M392.1 202.7h0M459.9 177.1h0M604.8 122.2h0M646.7 107.0h0M366.7 174.4h0M596.5 118.7h0M178.3 250.6h0M206.1 265.2h0M236.0 189.5h0M528.2 145.1h0M266.3 184.0h0M210.6 240.2h0M481.3 107.4h0M210.1 293.3h0M680.6 82.7h0M568.4 157.1h0M518.8 107.6h0M403.0 204.7h0M321.9 180.9h0M169.4 252.8h0M384.7 214.0h0M151.1 228.3h0M453.1 163.4h0M100.3 278.3h0M295.0 217.8h0M343.7 235.6h0M299.5 192.9h0M258.5 204.4h0M311.4 217.4h0M321.4 202.0h0M193.2 302.8h0M390.4 208.0h0M288.1 205.5h0M452.5 199.6h0M108.4 286.1h0M480.9 176.3h0M324.3 225.9h0M339.0 237.2h0M229.1 257.9h0M118.0 257.4h0M639.1 86.4h0M410.7 174.6h0M219.2 262.3h0M565.9 144.8h0M119.2 277.4h0M666.9 81.4h0M171.9 301.3h0M590.9 110.5h0M630.6 116.8h0M634.1 112.0h0M257.6 216.2h0M382.2 148.2h0M69.3 291.8h0M141.8 293.8h0M514.3 118.5h0M210.8 257.0h0M259.6 245.4h0M602.7 139.5h0M670.0 124.9h0M619.0 114.1h0M163.5 244.5h0M605.4 105.2h0M529.0 111.7h0M332.4 159.7h0M517.2 152.3h0M677.4 76.4h0M533.9 156.7h0M154.9 237.9h0M326.3 175.7h0M553.0 103.9h0M161.8 279.0h0M298.3 175.3h0M381.1 232.0h0M543.1 70.9h0M328.3 208.1h0M509.5 135.0h0M71.2 284.7h0M399.5 194.7h0M445.0 181.4h0M238.1 216.8h0M429.0 132.2h0M198.8 215.1h0M356.7 225.6h0M147.0 276.9h0M453.3 172.3h0M166.8 287.0h0M194.6 241.6h0M671.6 88.8h0M81.1 295.6h0M99.2 292.1h0M586.4 95.2h0M487.8 119.5h0M359.9 167.8h0M562.1 121.9h0M101.4 308.3h0M254.1 203.9h0M367.0 204.1h0M382.7 149.2h0M409.5 178.6h0M382.6 173.3h0M435.6 167.1h0M521.1 122.6h0M187.5 262.8h0M378.3 205.0h0M220.1 229.4h0M582.1 146.0h0M534.3 125.8h0M573.1 81.3h0M284.9 170.3h0M102.1 290.1h0M614.6 48.7h0M278.6 245.6h0M416.2 212.4h0M474.9 101.0h0M453.2 174.8h0M422.1 164.9h0M479.8 147.6h0M238.6 204.8h0M651.8 69.3h0M358.2 157.2h0M225.7 254.0h0M234.2 261.3h0M418.4 150.3h0M572.1 97.4h0M377.6 202.4h0M390.4 186.3h0M597.7 107.4h0M163.1 269.7h0M531.1 139.1h0M584.2 82.1h0M110.0 277.8h0M536.3 101.2h0M419.0 138.7h0M304.8 243.0h0M613.2 127.0h0M71.5 295.5h0M655.2 118.3h0M654.3 103.6h0M292.1 194.3h0M526.2 117.7h0M92.7 274.1h0M191.5 285.4h0M563.0 121.0h0M117.0 284.6h0M129.9 279.7h0M465.2 150.4h0M403.4 214.2h0M219.4 238.8h0M208.9 253.6h0M121.9 281.7h0M414.6 169.9h0M621.6 98.8h0M658.1 108.5h0M414.9 144.3h0M115.0 243.1h0M620.4 84.6h0M352.7 174.8h0M313.9 245.2h0M415.1 210.9h0M501.6 103.0h0M313.2 200.1h0M567.0 123.8h0M125.0 239.9h0M414.8 204.9h0M265.2 213.7h0M232.8 286.7h0M622.2 107.7h0M544.3 113.0h0M512.8 100.7h0M625.0 105.2h0M129.6 284.9h0M297.6 201.9h0M398.8 186.0h0M342.9 208.8h0M292.1 205.2h0M141.2 253.0h0M649.2 123.6h0M149.4 249.2h0M553.6 101.5h0M648.6 91.4h0M360.8 234.1h0M213.5 226.9h0M362.9 182.6h0M366.5 139.4h0M272.6 254.8h0M228.0 259.7h0M85.4 285.0h0M108.9 296.6h0M170.1 226.4h0M257.6 229.9h0M106.7 240.1h0M555.3 120.8h0M154.3 241.4h0M208.7 269.4h0M93.9 258.5h0M482.2 141.7h0M350.8 183.4h0M176.3 235.5h0M494.0 131.1h0M582.1 141.4h0M245.3 227.3h0M123.4 293.7h0M116.3 292.2h0M389.1 214.0h0M641.3 117.6h0M297.7 231.2h0M681.7 91.7h0M400.6 181.9h0M252.7 254.9h0M135.4 304.0h0M452.6 198.5h0M502.8 119.9h0M586.2 65.4h0M569.2 126.3h0M235.8 219.4h0M319.0 228.8h0M417.9 175.0h0M449.5 135.0h0M99.9 313.1h0M189.1 244.6h0M224.6 248.2h0M225.4 195.9h0M648.4 53.2h0M391.0 232.1h0M415.3 168.5h0M490.9 138.7h0M359.6 183.5h0M241.4 199.8h0M199.7 256.2h0M242.4 239.0h0M151.4 318.7h0M163.5 267.4h0M548.0 145.5h0M115.2 276.7h0M612.1 108.0h0M85.2 303.5h0M502.3 127.3h0M420.9 187.9h0M196.1 248.2h0M429.3 124.4h0M103.6 318.2h0M649.4 82.0h0M70.1 295.0h0M505.9 175.7h0M386.4 202.4h0M358.3 179.3h0M403.1 177.4h0M310.0 232.0h0M313.3 202.3h0M658.6 76.1h0M533.5 181.9h0M223.7 240.3h0M303.8 250.4h0M510.2 155.8h0M274.8 221.1h0M660.2 72.8h0M657.4 50.0h0M433.2 159.3h0M533.6 97.4h0M669.1 105.2h0M619.5 106.0h0M582.5 118.4h0M267.1 244.6h0M246.9 229.1h0M622.8 108.6h0M307.9 197.1h0M649.2 74.0h0M388.2 154.7h0M502.6 157.8h0M602.5 76.4h0M288.0 229.8h0M378.5 199.6h0M270.4 212.9h0M677.2 73.6h0M296.7 228.4h0M562.9 96.0h0M272.4 228.8h0M498.6 174.5h0M638.3 130.0h0M300.2 238.9h0M552.2 154.6h0M598.1 87.9h0M240.7 267.8h0M357.9 171.6h0M84.2 270.1h0M467.5 170.5h0M154.8 250.9h0M590.8 86.7h0M480.9 183.9h0M593.3 136.3h0M163.5 263.3h0M79.5 270.7h0M323.3 205.1h0M282.5 242.1h0M395.6 150.4h0M74.8 287.4h0M93.3 263.5h0M474.7 197.3h0M652.0 61.5h0M402.4 164.4h0M98.0 300.5h0M513.4 140.3h0M193.6 284.0h0M588.0 136.6h0M520.3 139.9h0M269.6 239.4h0M408.8 166.5h0M70.4 288.5h0M220.3 218.4h0M240.2 211.5h0M367.9 202.9h0M228.1 223.1h0M616.7 106.6h0M356.1 240.3h0M293.3 229.7h0M531.1 162.7h0M182.1 268.1h0M408.2 172.6h0M624.3 106.9h0M540.1 164.1h0M293.7 200.4h0M103.3 286.4h0M276.8 228.2h0M215.5 217.1h0M522.8 113.9h0M269.7 242.0h0M285.9 233.5h0M105.1 270.2h0M394.5 157.2h0M125.5 268.0h0M517.2 95.0h0M598.8 87.4h0M395.4 180.4h0M169.4 276.4h0M442.1 200.0h0M111.1 267.9h0M241.5 251.0h0M156.0 239.8h0M235.9 239.3h0M164.1 213.2h0M508.7 133.3h0M534.2 102.2h0M586.8 120.1h0M192.3 209.2h0M521.1 154.6h0M663.0 98.1h0M290.7 253.1h0M551.0 111.9h0M509.7 128.6h0M527.7 168.0h0M304.6 213.3h0M507.9 133.8h0M552.1 124.2h0M616.6 96.7h0M430.5 206.3h0M90.6 304.9h0M340.6 214.9h0M192.7 263.1h0M95.6 278.6h0M574.2 79.5h0M312.4 202.2h0M200.5 235.6h0M607.9 121.1h0M653.4 81.0h0M471.9 163.7h0M626.2 128.2h0M307.4 204.5h0M515.6 175.4h0M486.2 169.3h0M281.6 264.5h0M187.4 273.6h0M384.2 187.9h0M199.4 248.7h0M445.5 212.3h0M271.1 216.9h0M88.5 245.1h0M418.4 163.8h0M595.2 138.4h0M438.5 156.3h0M323.8 188.8h0M313.2 190.0h0M196.8 234.5h0M508.5 156.2h0M351.3 207.8h0M241.7 198.1h0M444.7 134.5h0M250.5 255.7h0M316.7 225.1h0M274.0 223.0h0M69.6 287.9h0M625.7 114.8h0M191.3 237.7h0M366.4 213.5h0M119.6 282.1h0M569.2 151.4h0M102.1 264.6h0M82.6 306.7h0M495.8 96.5h0M350.7 194.8h0M489.1 100.8h0M131.7 258.2h0M79.1 313.0h0M551.1 116.5h0M524.5 154.2h0M238.9 215.2h0M251.2 238.5h0M301.5 220.2h0M108.5 319.4h0M364.7 143.3h0M503.2 121.5h0M268.4 205.1h0M421.7 146.9h0M254.7 196.6h0M307.9 185.4h0M170.5 256.5h0M394.8 236.1h0M248.8 194.5h0M215.0 214.8h0M656.3 65.8h0M650.7 131.9h0M661.2 98.0h0M91.3 288.0h0M361.2 177.5h0M438.0 154.4h0M460.5 189.8h0M162.8 244.5h0M535.1 105.0h0M136.4 243.5h0M136.9 283.2h0M121.8 277.1h0M303.3 258.9h0M608.6 107.9h0M227.9 215.8h0M269.3 233.1h0M304.2 247.1h0M118.9 283.7h0M332.3 194.2h0M540.0 153.3h0M597.3 74.7h0M351.1 182.5h0M97.2 290.6h0M566.5 166.6h0M643.9 50.7h0M111.8 274.2h0M508.6 150.6h0M449.4 193.8h0M347.2 192.7h0M157.7 297.7h0M376.5 188.4h0M667.1 125.5h0M440.7 165.5h0M550.8 128.5h0M648.8 107.7h0M675.9 49.8h0M93.5 289.2h0M367.2 182.7h0M346.1 212.2h0M459.9 147.7h0M582.0 84.7h0M549.6 86.0h0M115.4 312.3h0M158.2 303.1h0M444.6 159.7h0M229.4 255.0h0M215.5 207.8h0M376.1 154.5h0M211.4 262.7h0M89.1 324.3h0M269.4 238.4h0M588.3 146.8h0M629.7 73.0h0M362.4 189.6h0M617.7 135.2h0M590.1 136.5h0M270.7 227.9h0M486.4 124.0h0M365.7 212.8h0M118.5 314.0h0M578.3 108.6h0M143.1 259.1h0M467.3 141.1h0M357.1 216.8h0M395.8 175.9h0M594.3 92.0h0M96.2 282.7h0M650.1 143.0h0M271.9 227.1h0M582.0 137.6h0M177.4 257.1h0M605.3 109.8h0M465.3 177.9h0M575.0 108.5h0M503.8 136.8h0M344.9 206.3h0M663.6 38.3h0M598.7 100.9h0M99.6 317.0h0M91.6 255.3h0M282.7 173.0h0M467.1 159.8h0M85.1 279.4h0M289.9 240.3h0M423.5 125.6h0M238.0 269.9h0M526.6 148.7h0M82.4 315.4h0M248.6 269.9h0M543.1 106.5h0M517.5 85.5h0M168.1 295.4h0M217.4 222.8h0M489.7 111.0h0M137.8 239.9h0M286.9 218.5h0M440.1 185.3h0M475.7 144.7h0M381.1 171.3h0M487.3 149.7h0M468.2 150.9h0M348.5 142.6h0M443.4 160.1h0M496.1 162.4h0M530.3 114.9h0M379.4 180.1h0M245.0 205.3h0M439.3 207.5h0M231.2 213.7h0M199.0 216.5h0M366.2 175.5h0M413.8 181.9h0M519.3 128.5h0M121.5 296.5h0M258.7 261.1h0M576.6 98.7h0M436.6 139.6h0M99.7 291.0h0M468.0 186.6h0M70.8 254.9h0M603.2 97.1h0M456.8 133.5h0M388.0 216.5h0M648.1 101.6h0M356.1 237.9h0M95.9 281.9h0M500.1 140.9h0M595.3 81.4h0M662.1 69.6h0M232.0 244.8h0M373.3 183.0h0M249.0 261.2h0M618.9 83.4h0M372.4 174.1h0M528.2 155.4h0M187.7 261.5h0M617.9 76.1h0M379.3 170.2h0M418.7 212.2h0M518.8 186.2h0M195.8 249.8h0M515.0 170.2h0M580.1 121.5h0M107.9 259.9h0M532.5 115.1h0M296.6 239.7h0M636.7 106.1h0M661.9 64.6h0M523.8 154.3h0M549.3 160.6h0M370.3 208.8h0M447.9 193.9h0M318.0 206.7h0M557.8 77.7h0M565.4 126.2h0M379.9 153.5h0M558.5 122.2h0M630.8 137.5h0M421.5 147.2h0M474.6 127.9h0M492.8 157.5h0M477.6 145.6h0M73.0 281.4h0M677.2 90.4h0M320.2 234.4h0M103.3 266.8h0M177.9 235.4h0M370.7 174.3h0M458.2 131.5h0M583.9 120.4h0M288.6 214.8h0M429.0 175.3h0M496.9 149.8h0M553.6 110.4h0M677.2 75.2h0M140.3 230.8h0M225.0 237.7h0M158.4 267.6h0M431.3 189.6h0M421.4 128.4h0M296.7 204.8h0M225.4 255.1h0M437.3 192.6h0M547.7 106.4h0M427.8 136.7h0M543.1 126.0h0M215.7 259.1h0M536.8 121.4h0M414.2 198.3h0M156.9 253.9h0M349.0 217.5h0M420.7 156.4h0M145.4 281.5h0M523.9 128.5h0M534.6 77.0h0M332.8 182.0h0M569.3 134.0h0M447.5 172.4h0M441.0 185.7h0M120.4 300.8h0M146.6 269.5h0M537.2 91.2h0M177.4 269.5h0M475.2 147.8h0M506.5 156.2h0M515.1 140.3h0M223.6 249.7h0M205.8 271.2h0M372.9 179.7h0M87.9 285.6h0M634.7 119.3h0M99.0 262.4h0M536.2 114.1h0M475.2 126.8h0M469.4 161.7h0M480.8 144.6h0M223.3 258.2h0M399.9 182.3h0M367.9 157.3h0M401.0 190.7h0M587.9 169.8h0M366.4 212.5h0M81.6 237.9h0M588.7 142.8h0M294.9 243.3h0M663.4 47.4h0M237.2 279.5h0M502.1 165.3h0M586.9 152.8h0M333.4 232.9h0M543.2 160.2h0M487.6 153.1h0M431.8 170.8h0M453.9 191.1h0M87.3 325.3h0M146.4 264.6h0M322.1 172.3h0M562.3 111.4h0M81.6 261.6h0M94.9 251.5h0M86.7 275.2h0M598.5 116.3h0M636.1 100.6h0M77.3 270.9h0M349.7 232.0h0M391.6 177.4h0M483.1 197.6h0M346.7 183.9h0M90.0 292.8h0M381.0 193.6h0M339.9 185.9h0M170.1 261.5h0M579.3 122.3h0M438.1 167.0h0M469.1 196.4h0M224.5 246.2h0M80.5 297.2h0M270.4 222.4h0M650.8 76.8h0M601.2 64.7h0M214.3 236.8h0M212.1 212.6h0M577.5 99.6h0M583.3 139.4h0M70.7 288.2h0M467.4 148.8h0M352.7 205.8h0M598.2 127.2h0M499.8 183.3h0M136.9 248.6h0M539.7 105.4h0M131.9 286.5h0M326.3 189.4h0M105.4 275.4h0M148.8 289.0h0M292.9 203.0h0M360.9 211.2h0M441.3 166.8h0M464.7 160.0h0M322.9 216.2h0M294.9 214.9h0M404.2 117.3h0M101.1 285.4h0M410.6 189.3h0M669.1 118.9h0M306.4 246.4h0M134.1 234.6h0M552.0 156.3h0M234.8 275.4h0M431.0 134.3h0M618.7 124.5h0M72.4 316.1h0M81.0 328.2h0M380.4 167.1h0M133.9 321.6h0M375.9 138.7h0M460.6 172.6h0M324.8 207.5h0M102.3 273.0h0M388.7 205.3h0M98.4 318.1h0M493.1 148.1h0M273.3 230.4h0M356.3 165.9h0M292.6 202.7h0M574.8 157.9h0M556.6 160.4h0M429.4 197.1h0M208.2 244.2h0M292.5 224.6h0M161.2 248.0h0M285.7 217.7h0M672.6 90.0h0M462.8 163.4h0M415.1 198.5h0M626.5 116.9h0M490.6 172.0h0M352.8 163.7h0M201.1 261.8h0M234.5 248.2h0M238.1 224.3h0M487.7 140.0h0M460.9 128.2h0M81.4 292.0h0M71.6 312.9h0M100.2 283.0h0M341.9 182.2h0M360.4 141.9h0M466.7 164.8h0M117.0 275.0h0M306.7 207.7h0M94.9 272.6h0M388.0 189.0h0M97.9 284.8h0M278.2 213.7h0M644.1 134.2h0M229.4 250.4h0M317.4 209.7h0M165.4 226.7h0M617.6 71.2h0M208.9 263.0h0M497.8 126.6h0M536.6 121.9h0M117.0 268.9h0M604.4 143.3h0M379.2 185.3h0M89.5 269.1h0M561.5 128.6h0M646.0 92.8h0M642.7 90.1h0M303.0 235.7h0M443.5 174.1h0M555.7 158.1h0M581.6 140.7h0M648.2 121.4h0M102.8 261.4h0M667.3 103.8h0M399.4 170.7h0M661.6 67.8h0M403.0 198.3h0M160.2 269.5h0M679.2 116.4h0M156.1 268.4h0M242.1 232.3h0M131.6 257.2h0M224.3 254.7h0M580.1 164.5h0M395.4 178.5h0M583.6 71.7h0M516.1 161.1h0M187.2 275.9h0M277.5 219.0h0M181.4 236.1h0M670.6 122.5h0M396.2 193.9h0M227.5 263.4h0M76.2 310.1h0M72.1 292.1h0M192.3 260.1h0M349.3 188.3h0M516.8 130.3h0M655.0 89.4h0M231.9 250.1h0M364.8 149.5h0M75.1 327.6h0M405.0 173.2h0M369.1 181.0h0M563.7 118.7h0M400.4 162.7h0M474.6 135.3h0M220.3 227.2h0M115.2 318.8h0M655.9 100.0h0M382.3 181.0h0M144.2 292.2h0M74.4 289.9h0M208.5 219.5h0M313.1 252.4h0M513.4 102.0h0M94.2 271.7h0M561.0 100.6h0M411.4 176.1h0M215.0 259.2h0M218.5 270.6h0M622.1 50.5h0M391.8 201.7h0M361.1 212.9h0M561.5 136.5h0M664.6 57.3h0M526.0 159.7h0M621.9 55.3h0M252.4 249.1h0M458.0 200.7h0M93.3 291.1h0M196.8 225.5h0M301.0 205.9h0M537.9 164.9h0M161.8 263.8h0M109.6 262.3h0M80.7 337.1h0M427.5 188.8h0M273.1 230.6h0M322.2 247.6h0M404.2 184.0h0M676.2 99.5h0M380.1 195.0h0M154.0 305.1h0M581.8 94.6h0M143.3 281.7h0M449.5 169.3h0M132.2 301.0h0M453.3 172.3h0M355.3 204.7h0M228.6 249.4h0M90.0 255.1h0M101.7 274.4h0M308.1 192.2h0M416.7 183.8h0M381.8 220.4h0M343.9 178.4h0M300.1 254.2h0M584.2 149.9h0M176.4 216.6h0M220.5 261.6h0M305.7 204.0h0M141.9 222.3h0M95.8 247.7h0M345.1 196.6h0M382.0 186.2h0M240.0 238.0h0M180.6 242.8h0M347.1 152.5h0M307.8 239.9h0M599.2 86.3h0M182.4 284.3h0M148.5 275.6h0M406.2 204.4h0M384.9 141.9h0M397.3 175.0h0M70.3 324.8h0M649.8 79.9h0M358.5 201.8h0M535.7 157.0h0M390.5 201.9h0M293.7 232.2h0M265.3 218.8h0M612.5 96.4h0M253.8 191.4h0M601.7 125.2h0M372.5 213.1h0M587.1 143.3h0M663.5 92.3h0M133.5 268.7h0M629.7 74.3h0M552.7 114.2h0M115.7 284.2h0M673.1 75.1h0M188.2 234.8h0M583.2 109.0h0M529.1 116.0h0M207.2 270.6h0M423.8 144.8h0M145.4 268.5h0M203.1 266.1h0M380.9 189.7h0M326.2 227.4h0M456.9 200.3h0M384.4 191.1h0M420.5 218.9h0M408.4 213.4h0M452.5 196.3h0M169.0 226.7h0M110.2 270.8h0M528.1 125.4h0M656.0 80.8h0M591.5 83.1h0M528.9 118.4h0M206.1 260.4h0M465.1 156.6h0M118.0 240.5h0M454.8 171.1h0M490.8 127.6h0M268.2 192.7h0M282.9 249.9h0M648.4 68.8h0M137.8 260.2h0M391.7 184.0h0M245.3 212.4h0M207.2 221.3h0M572.2 147.7h0M349.3 178.9h0M511.2 133.8h0M541.2 98.9h0M667.2 39.0h0M78.4 258.9h0M536.7 141.5h0M89.0 296.7h0M543.0 108.5h0M345.1 223.3h0M632.1 118.3h0M485.2 146.5h0M187.2 223.0h0M195.9 277.9h0M581.0 115.8h0M129.9 258.3h0M154.2 288.7h0M104.6 271.1h0M373.1 201.4h0M472.4 173.8h0M390.8 224.4h0M556.2 150.2h0M475.4 131.3h0M113.7 262.7h0M567.4 129.1h0M82.0 245.6h0M473.9 151.3h0M115.9 242.9h0M671.9 112.2h0M162.8 269.5h0M602.1 98.3h0M280.3 209.3h0M75.2 318.7h0M317.1 168.9h0M618.2 56.9h0M224.0 233.9h0M507.0 128.7h0M143.8 257.4h0M286.8 192.8h0M457.3 159.1h0M415.7 173.2h0M227.7 229.9h0M135.8 298.6h0M234.0 196.5h0M148.8 229.2h0M295.9 214.7h0M495.2 162.7h0M340.6 184.2h0M169.6 263.9h0M523.6 146.4h0M408.4 198.2h0M597.4 136.3h0M101.0 327.5h0M346.6 206.1h0M336.4 177.9h0M519.6 173.0h0M641.8 65.4h0M338.6 242.9h0M669.9 115.6h0M457.2 127.3h0M296.1 249.3h0M169.1 260.8h0M219.6 254.3h0M564.2 124.7h0M360.8 188.1h0M116.5 249.8h0M518.4 163.6h0M517.9 106.2h0M630.8 110.4h0M604.0 128.2h0M295.5 207.5h0M214.4 291.1h0M243.2 228.1h0M264.5 219.8h0M623.0 117.2h0M616.9 86.3h0M315.8 214.1h0M175.5 265.9h0M328.7 189.6h0M587.7 78.8h0M169.3 251.4h0M232.8 289.4h0M571.3 88.2h0M500.4 152.1h0M396.2 154.9h0M484.7 169.4h0M449.6 204.3h0M396.5 180.8h0M357.2 162.1h0M419.8 208.7h0M648.4 82.9h0M536.1 130.0h0M473.9 128.6h0M537.6 134.6h0M586.5 90.2h0M506.2 191.8h0M485.1 116.5h0M594.9 111.5h0M299.2 179.4h0M229.1 238.5h0M123.8 252.7h0M510.9 181.6h0M251.9 239.9h0M436.7 125.1h0M385.2 135.4h0M204.9 269.9h0M578.9 64.0h0M145.2 257.5h0M157.4 289.0h0M391.7 164.3h0M290.7 214.9h0M97.3 283.5h0M87.0 297.3h0M196.7 291.2h0M402.9 181.7h0M575.9 109.4h0M198.8 276.1h0M421.1 182.0h0M397.0 210.4h0M590.6 108.6h0M575.0 121.0h0M144.9 258.6h0M637.4 59.8h0M132.9 252.4h0M666.1 111.5h0M592.1 97.9h0M578.1 71.7h0M476.6 132.1h0M340.1 196.8h0M504.8 144.7h0M563.9 125.7h0M81.5 283.9h0M191.4 200.4h0M251.4 232.9h0M125.3 282.2h0M618.8 84.9h0M216.4 267.2h0M438.4 204.1h0M437.1 188.2h0M497.1 189.0h0M159.7 264.0h0M517.4 126.3h0M218.7 217.9h0M301.3 207.6h0M534.5 145.9h0M425.4 162.4h0M425.2 141.9h0M243.8 217.3h0M124.8 262.5h0M618.5 76.7h0M192.8 219.2h0M356.1 177.6h0M412.4 151.4h0M610.9 90.6h0M244.6 224.7h0M594.0 54.8h0M486.2 111.4h0M215.3 221.0h0M212.8 267.1h0M507.0 152.7h0M278.9 238.6h0M509.2 142.4h0M441.9 152.2h0M273.1 214.8h0M344.5 187.4h0M278.5 219.5h0M202.2 216.7h0M308.4 213.9h0M217.4 280.1h0M205.8 248.2h0M530.3 190.6h0M398.2 163.6h0M121.9 282.2h0M105.3 268.6h0M553.5 127.8h0M418.6 193.4h0M565.7 130.2h0M213.7 256.4h0M479.5 121.6h0M445.2 206.3h0M122.4 258.5h0M452.3 113.8h0M590.8 91.1h0M353.1 186.4h0M441.9 153.4h0M296.7 181.2h0M463.3 120.7h0M552.3 139.9h0M402.4 168.8h0M511.9 159.5h0M401.7 193.1h0M576.6 151.5h0M180.2 277.4h0M440.6 168.1h0M660.1 57.9h0M218.1 217.5h0M161.9 245.5h0M104.1 247.9h0M188.9 282.4h0M471.7 176.4h0M557.0 153.7h0M633.0 86.9h0M162.3 283.0h0M535.7 160.3h0M630.0 82.6h0M679.7 107.9h0M625.4 85.7h0M513.6 177.2h0M163.5 274.7h0M217.5 241.9h0M545.1 154.1h0M382.8 222.2h0M673.6 85.8h0M194.4 296.9h0M281.6 218.0h0M645.9 107.8h0M166.3 270.4h0M603.0 108.7h0M579.2 112.9h0M545.1 97.5h0M166.4 282.5h0M136.9 297.4h0M361.9 168.8h0M225.5 227.8h0M228.6 236.4h0M196.7 251.5h0M170.1 278.1h0M663.2 94.3h0M406.0 162.6h0M286.4 200.4h0M637.8 75.7h0M173.3 260.6h0M204.7 221.7h0M97.4 298.0h0M607.1 107.6h0M326.0 195.3h0M593.1 82.9h0M424.8 183.4h0M274.7 217.0h0M188.8 289.1h0M117.0 283.6h0M627.8 107.4h0M343.0 191.5h0M234.8 233.1h0M505.2 119.4h0M93.9 271.3h0M464.1 132.9h0M78.7 310.5h0M136.0 286.9h0M237.0 205.6h0M535.3 120.4h0M429.8 190.2h0M573.9 121.7h0M665.9 83.7h0M462.6 166.7h0M367.7 194.6h0M455.8 205.5h0M85.8 331.4h0M156.9 246.3h0M567.4 114.9h0M330.8 169.8h0M406.3 171.7h0M574.5 119.7h0M143.2 254.3h0M210.0 240.3h0M273.0 220.0h0M535.9 156.7h0M632.7 103.6h0M188.7 271.1h0M673.6 90.3h0M367.3 191.0h0M149.1 271.6h0M280.8 227.3h0M193.2 262.5h0M340.4 206.0h0M178.9 244.4h0M325.2 215.5h0M339.0 198.3h0M193.4 221.5h0M211.0 230.7h0M420.5 161.9h0M581.2 134.4h0M532.0 116.3h0M670.2 126.4h0M271.8 182.5h0M485.7 145.8h0M535.2 130.3h0M229.4 229.8h0M360.0 156.5h0M303.6 185.2h0M78.2 288.3h0M226.9 248.2h0M460.1 173.9h0M287.6 229.4h0M271.1 232.3h0M120.4 317.7h0M282.7 241.0h0M83.7 292.9h0M254.3 193.9h0M495.9 193.9h0M461.6 123.1h0M592.5 153.7h0M338.4 196.7h0M313.1 203.9h0M405.0 162.9h0M131.4 301.1h0M95.9 261.7h0M311.5 158.6h0M347.1 162.7h0M441.5 183.3h0M184.9 245.1h0M334.2 171.7h0M224.5 214.3h0M552.0 118.6h0M269.9 237.7h0M463.8 113.6h0M534.9 159.0h0M243.8 243.0h0M153.8 307.4h0M169.5 273.7h0M651.8 69.0h0M168.4 291.0h0M614.6 110.8h0M352.1 178.2h0M526.2 142.5h0M626.9 59.2h0M562.2 124.0h0M243.8 216.1h0M390.4 225.0h0M537.5 158.4h0M172.8 234.6h0M468.4 144.1h0M190.2 217.0h0M92.1 282.1h0M589.2 149.7h0M71.5 301.9h0M638.7 74.6h0M233.1 231.1h0M213.7 243.2h0M593.5 86.2h0M221.9 221.9h0M325.9 210.3h0M351.4 222.6h0M213.6 244.9h0M331.1 205.9h0M263.2 193.5h0M516.0 118.6h0M274.8 198.7h0M541.2 125.1h0M436.4 175.6h0M125.3 311.5h0M158.1 240.4h0M285.1 227.5h0M175.2 259.9h0M495.5 159.1h0M422.5 207.7h0M359.7 227.0h0M339.2 197.8h0M637.0 122.0h0M575.4 100.6h0M303.2 199.5h0M537.5 179.4h0M546.0 164.1h0M619.5 93.2h0M481.2 137.2h0M648.6 77.8h0M638.6 119.3h0M85.1 289.1h0M680.3 87.7h0M246.6 238.0h0M455.1 185.5h0M572.9 118.9h0M623.8 119.2h0M185.2 258.2h0M111.4 263.5h0M111.7 299.5h0M85.5 305.5h0M511.0 119.9h0M270.7 224.4h0M385.8 188.9h0M272.3 231.6h0M129.3 250.2h0M465.5 138.4h0M163.4 264.4h0M87.1 288.8h0M392.2 165.3h0M659.8 42.0h0M495.6 122.0h0M225.8 269.3h0M467.0 101.9h0M129.7 271.0h0M570.0 100.2h0M395.5 180.7h0M454.6 191.0h0M585.8 111.6h0M663.2 64.3h0M540.5 111.1h0M199.1 246.3h0M521.6 174.9h0M336.0 190.1h0M437.3 194.2h0M298.7 249.6h0M620.8 98.0h0M143.1 282.7h0M640.0 129.2h0M140.6 271.7h0M84.1 326.9h0M412.2 172.6h0M512.4 115.3h0M334.7 220.9h0M210.5 274.3h0M502.5 136.6h0M381.6 171.3h0M363.9 216.9h0M418.7 154.1h0M215.9 207.4h0M174.5 264.3h0M450.7 195.5h0M352.4 155.4h0M384.8 183.3h0M311.5 189.0h0M249.2 244.0h0M409.0 222.9h0M349.4 168.1h0M440.5 144.4h0M551.6 132.9h0M450.4 213.1h0M585.1 143.0h0M386.7 159.2h0M521.2 111.6h0M352.6 221.1h0M487.3 160.9h0M383.9 188.0h0M76.5 293.0h0M676.7 124.0h0M544.8 100.4h0M108.5 280.7h0M138.4 263.2h0M645.5 70.1h0M302.5 165.0h0M492.8 120.8h0M288.3 215.4h0M531.1 175.7h0M222.7 275.8h0M418.8 171.4h0M584.3 121.9h0M86.0 289.4h0M165.5 256.8h0M350.8 205.5h0M595.5 140.5h0M108.8 246.0h0M642.8 83.3h0M231.0 264.1h0M173.1 236.6h0M86.3 252.5h0M604.9 125.0h0M497.5 162.5h0M588.5 167.7h0M184.2 226.0h0M377.5 202.0h0M121.7 275.1h0M137.6 271.5h0M390.5 171.2h0M489.7 135.6h0M273.1 196.6h0M127.0 240.5h0M577.4 106.1h0M671.6 42.2h0M78.0 303.5h0M296.8 254.2h0M461.9 187.4h0M678.8 115.6h0M391.3 175.2h0M419.3 201.7h0M154.6 243.6h0M416.6 158.7h0M136.6 290.0h0M677.4 74.3h0M657.9 88.8h0M149.6 268.7h0M128.3 227.8h0M665.6 132.3h0M213.8 279.7h0M201.3 245.9h0M472.1 207.3h0M548.5 97.4h0M593.1 88.6h0M546.4 145.5h0M636.5 141.8h0M232.2 247.3h0M379.1 217.7h0M617.1 107.1h0M647.8 102.3h0M605.3 83.5h0M215.7 253.9h0M637.6 75.3h0M80.8 308.6h0M91.9 285.3h0M86.2 271.0h0M285.9 177.4h0M100.2 295.5h0M151.3 240.6h0M557.6 84.1h0M322.5 218.4h0M211.5 227.5h0M642.5 105.8h0M577.8 120.4h0M122.8 241.0h0M442.3 139.8h0M496.2 164.9h0M593.7 109.1h0M663.5 104.2h0M255.3 265.2h0M283.8 245.1h0M655.3 117.7h0M235.2 287.5h0M587.8 120.6h0M555.4 102.0h0M368.2 168.4h0M622.5 66.9h0M448.7 159.6h0M334.3 210.7h0M518.3 123.3h0M135.3 303.2h0M411.8 205.2h0M156.5 237.1h0M181.6 275.4h0M631.4 138.3h0M217.9 254.5h0M241.7 235.2h0M557.3 82.4h0M665.9 72.2h0M638.7 106.9h0M620.0 97.4h0M149.7 245.3h0M339.1 206.7h0M678.9 81.2h0M454.9 149.2h0M375.1 188.6h0M386.8 205.8h0M671.3 91.8h0M391.0 141.1h0M653.2 78.4h0M200.1 269.4h0M388.7 203.6h0M108.4 283.9h0M525.8 146.6h0M293.7 207.4h0M395.8 191.2h0M209.1 244.0h0M149.3 274.2h0M662.8 127.4h0M643.7 96.7h0M123.0 249.6h0M106.3 252.3h0M337.2 203.2h0M580.9 81.6h0M634.5 79.5h0M532.0 144.0h0M659.8 97.2h0M602.3 100.3h0M388.5 193.2h0M678.5 66.9h0M218.5 275.9h0M613.7 69.4h0M331.2 210.1h0M474.1 132.4h0M645.9 113.9h0M675.5 38.5h0M579.4 117.8h0M539.1 110.6h0M201.2 228.3h0M332.9 183.4h0M274.8 229.8h0M303.1 233.5h0M216.6 243.4h0M628.1 98.5h0M83.5 303.2h0M514.6 115.3h0M420.4 175.6h0M222.1 207.7h0M104.4 271.4h0M176.9 238.5h0M662.2 99.2h0M315.6 196.9h0M405.1 177.6h0M369.8 204.3h0M496.4 122.9h0M327.6 203.1h0M137.7 236.2h0M282.7 211.5h0M126.5 306.3h0M237.3 192.7h0M482.9 124.4h0M594.0 97.7h0M232.3 231.7h0M369.1 177.3h0M306.6 215.5h0M639.4 110.9h0M620.1 87.1h0M420.6 216.8h0M538.1 138.4h0M523.0 179.3h0M554.0 111.5h0M553.1 130.3h0M254.2 258.8h0M418.4 190.3h0M597.7 134.6h0M448.8 147.9h0M528.5 112.1h0M162.9 280.9h0M136.2 298.8h0M452.6 155.9h0M654.2 93.0h0M618.6 124.3h0M305.2 244.0h0M359.3 170.7h0M590.5 135.2h0M473.3 181.2h0M193.1 244.1h0M166.6 240.4h0M92.5 282.1h0M158.1 251.5h0M455.1 210.0h0M674.1 86.7h0M528.7 107.3h0M217.4 267.7h0M82.3 324.5h0M584.2 133.7h0M666.2 69.3h0M577.8 109.6h0M622.1 133.9h0M206.4 273.0h0M627.8 71.9h0M457.5 159.7h0M466.9 185.2h0M330.6 248.7h0M381.1 208.5h0M334.8 184.6h0M457.2 128.6h0M541.4 156.7h0M405.6 143.4h0M354.6 180.5h0M285.6 201.4h0M172.2 287.3h0M208.4 250.8h0M356.5 178.6h0M494.3 133.9h0M670.9 117.1h0M560.7 150.3h0M346.0 163.5h0M326.9 219.6h0M593.1 68.5h0M519.8 145.4h0M588.0 114.8h0M661.7 118.2h0M274.3 187.0h0M278.0 193.8h0M570.4 98.4h0M527.0 92.6h0M360.5 157.5h0M468.1 155.4h0M496.8 147.8h0M257.4 236.3h0M103.3 259.2h0M347.7 163.6h0M359.5 164.5h0M587.4 118.7h0M131.6 296.6h0M404.7 146.5h0M237.4 231.7h0M236.9 250.6h0M296.7 201.4h0M149.4 262.5h0M572.4 125.2h0M530.1 109.2h0M104.0 319.1h0M303.8 211.2h0M529.1 184.3h0M635.5 106.2h0M594.4 125.5h0M528.5 149.0h0M388.7 188.7h0M143.2 256.3h0M650.3 102.7h0M325.3 175.6h0M351.3 222.1h0M329.8 172.3h0M563.6 116.3h0M566.5 123.2h0M79.1 267.6h0M443.9 137.0h0M471.7 159.7h0M298.1 221.0h0M431.7 181.1h0M246.0 199.9h0M268.2 205.8h0M139.5 286.2h0M84.8 257.7h0M206.2 284.0h0M373.9 171.4h0M280.5 217.6h0M270.6 261.3h0M627.5 131.4h0M100.8 306.6h0M110.6 286.1h0M212.4 246.3h0M396.6 171.4h0M205.5 222.4h0M547.3 122.9h0M71.3 300.6h0M300.0 177.2h0M213.1 268.1h0M327.3 183.5h0M303.4 189.6h0M379.7 178.5h0M303.2 185.7h0M269.4 217.8h0M456.3 138.0h0M229.3 205.5h0M298.8 248.2h0M426.3 132.4h0M664.2 77.5h0M675.8 83.9h0M342.2 224.1h0M439.1 136.0h0M456.3 160.2h0M672.2 56.2h0M211.7 224.4h0M148.0 273.8h0M625.8 110.3h0M510.2 154.4h0M205.8 246.2h0M351.1 198.5h0M305.4 215.3h0M385.9 213.5h0M212.2 238.6h0M645.4 133.3h0M650.2 128.8h0M236.2 209.0h0M130.9 287.3h0M644.0 113.5h0M415.2 185.6h0M383.1 212.9h0M206.9 260.5h0M601.2 72.2h0M158.9 239.0h0M657.4 97.4h0M183.4 256.8h0M392.3 160.8h0M213.7 273.1h0M153.2 273.3h0M174.4 216.8h0M262.0 196.1h0M521.2 134.1h0M423.5 175.2h0M318.3 182.9h0M170.5 263.7h0M350.3 155.4h0M122.9 269.6h0M476.9 132.5h0M667.1 53.0h0M266.4 220.3h0M257.1 244.7h0M579.6 133.4h0M209.3 220.3h0M189.4 259.0h0M627.3 89.0h0M546.1 100.3h0M626.4 99.9h0M268.1 236.3h0M662.5 102.5h0M676.0 121.3h0M448.0 161.1h0M603.0 106.2h0M320.9 246.3h0M180.3 264.8h0M86.0 274.5h0M292.3 224.8h0M197.8 276.6h0M373.6 211.2h0M391.8 218.1h0M184.0 280.5h0M390.8 172.2h0M265.5 219.4h0M514.7 170.0h0M192.7 222.9h0M683.2 50.1h0M556.8 104.2h0M547.1 121.3h0M591.6 99.1h0M203.2 205.4h0M581.3 139.6h0M644.3 82.1h0M593.9 126.4h0M461.7 168.8h0M201.6 220.5h0M534.5 105.8h0M323.4 226.5h0M248.1 248.8h0M191.0 272.6h0M488.8 132.7h0M359.9 205.6h0M91.2 284.6h0M563.9 129.4h0M76.0 268.1h0M439.6 213.6h0M182.0 284.0h0M444.3 153.1h0M646.3 69.4h0M284.2 221.4h0M351.5 169.5h0M157.3 275.7h0M430.3 186.5h0M314.4 171.7h0M593.8 119.2h0M494.0 153.6h0M374.1 212.1h0M625.5 109.7h0M218.8 191.9h0M377.1 170.9h0M450.0 187.1h0M324.9 256.5h0M548.9 136.7h0M672.2 90.4h0M384.2 222.9h0M475.8 191.7h0M319.7 209.9h0M637.1 51.3h0M169.9 274.7h0M371.3 203.6h0M465.8 139.4h0M85.8 275.5h0M262.5 179.6h0M109.3 272.7h0M284.3 183.1h0M423.6 165.2h0M397.7 134.3h0M537.3 117.6h0M264.6 234.2h0M135.0 282.0h0M562.7 104.6h0M347.4 214.3h0M585.6 83.7h0M172.6 260.2h0M107.2 252.1h0M518.6 114.2h0M377.9 145.5h0M346.8 229.1h0M471.3 170.8h0M478.8 130.7h0M557.5 158.6h0M418.8 164.0h0M316.2 218.1h0M195.5 222.0h0M346.8 182.1h0M489.4 169.2h0M130.9 247.3h0M549.8 109.3h0M464.4 155.0h0M386.7 200.0h0M222.9 235.9h0M389.4 198.8h0M233.1 250.9h0M341.2 189.2h0M524.0 129.9h0M284.8 198.8h0M571.4 143.2h0M640.7 142.4h0M653.5 88.1h0M251.5 285.2h0M179.3 264.0h0M468.0 163.2h0M481.5 168.3h0M652.5 96.2h0M567.1 92.8h0M142.8 228.4h0M138.2 309.1h0M102.2 264.6h0M263.7 225.8h0M151.2 268.6h0M365.9 203.1h0M171.0 291.4h0M677.2 53.2h0M413.9 160.4h0M486.2 108.4h0M583.4 79.8h0M646.2 67.4h0M295.1 216.6h0M228.7 250.1h0M487.9 140.3h0M210.9 293.2h0M471.5 173.9h0M137.3 297.0h0M286.5 241.8h0M454.4 140.2h0M502.1 103.6h0M574.1 121.5h0M115.3 321.0h0M139.3 299.2h0M661.2 93.0h0M553.2 118.2h0M128.7 256.3h0M655.3 68.5h0M341.2 199.1h0M228.8 263.0h0M144.9 265.7h0M132.6 277.6h0M657.1 76.2h0M368.8 191.4h0M581.5 99.4h0M407.4 211.5h0M592.9 124.5h0M391.2 200.4h0M618.3 94.9h0M117.7 274.0h0M601.6 126.7h0M184.3 264.7h0M618.7 114.4h0M168.5 232.5h0M347.2 198.5h0M318.9 159.1h0M295.9 227.2h0M240.1 279.0h0M206.3 247.1h0M257.1 214.6h0M406.5 166.4h0M533.6 115.2h0M515.1 180.0h0M470.8 151.6h0M303.7 191.6h0M247.1 212.1h0M200.7 233.4h0M336.5 211.8h0M658.3 107.2h0M214.1 246.6h0M173.1 276.1h0M546.1 134.3h0M69.4 268.5h0M187.7 283.6h0M250.8 229.9h0M353.6 193.4h0M459.0 171.6h0M463.3 128.2h0M145.5 255.5h0M355.2 218.6h0M134.0 289.7h0M82.6 303.7h0M354.9 217.0h0M584.2 94.5h0M541.2 96.8h0M489.5 145.3h0M114.8 266.9h0M396.6 207.1h0M256.2 258.9h0M424.8 171.5h0M538.5 181.7h0M185.7 296.2h0M495.0 113.8h0M75.1 313.0h0M148.8 230.4h0M344.2 170.7h0M515.5 131.3h0M563.6 103.3h0M188.6 234.4h0M504.6 185.3h0M600.4 102.2h0M431.3 187.8h0M434.3 201.8h0M506.9 172.4h0M450.7 163.6h0M461.8 123.1h0M461.4 183.4h0M477.8 125.9h0M464.6 195.4h0M144.4 252.3h0M301.5 248.4h0M340.6 199.9h0M668.4 114.3h0M403.0 155.0h0M86.8 335.0h0M111.9 300.2h0M678.1 126.0h0M588.1 137.4h0M436.3 136.0h0M178.5 231.8h0M131.6 243.9h0M588.5 105.7h0M447.9 162.5h0M658.0 99.8h0M231.8 247.6h0M641.8 125.2h0M516.1 157.2h0M332.6 203.8h0M557.1 173.8h0M169.3 271.2h0M666.9 93.7h0M239.3 243.2h0M373.8 205.5h0M464.5 153.3h0M189.8 288.8h0M605.2 144.1h0M319.9 203.1h0M404.9 172.3h0M195.8 243.2h0M465.9 149.2h0M246.1 241.3h0M441.4 138.6h0M668.4 62.8h0M571.9 108.1h0M467.8 189.4h0M367.5 216.8h0M258.7 236.1h0M138.9 264.7h0M563.6 113.3h0M622.4 141.8h0M533.3 177.0h0M498.3 103.0h0M457.8 149.5h0M638.4 130.3h0M317.4 215.9h0M566.3 160.3h0M472.4 196.1h0M553.5 120.3h0M636.7 113.8h0M91.1 295.5h0M316.2 193.1h0M552.6 159.3h0M201.5 286.6h0M370.5 224.1h0M149.6 274.9h0M683.3 74.8h0M365.0 201.0h0M543.5 133.1h0M187.7 235.1h0M105.3 281.1h0M673.5 105.8h0M246.4 254.3h0M406.3 158.1h0M161.3 261.6h0M508.1 126.9h0M202.9 268.9h0M567.0 118.8h0M138.2 250.9h0M217.5 243.2h0M547.5 177.8h0M534.3 103.8h0M126.6 249.8h0M260.8 221.8h0M128.4 291.9h0M332.6 207.1h0M337.4 185.4h0M96.2 316.4h0M630.6 127.8h0M277.0 214.6h0M289.5 219.2h0M264.1 217.8h0M635.2 85.3h0M660.4 103.3h0M470.0 171.4h0M201.2 270.4h0M463.2 203.9h0M357.7 242.4h0M114.8 278.5h0M671.0 97.3h0M452.0 195.0h0M115.4 312.0h0M174.1 291.8h0M547.5 119.6h0M514.8 178.6h0M569.0 151.7h0M103.1 318.9h0M274.1 233.4h0M504.8 191.9h0M555.7 135.8h0M137.2 236.0h0M575.2 160.6h0M417.9 164.8h0M141.2 285.3h0M608.3 102.6h0M344.6 163.3h0M375.8 173.3h0M234.8 234.7h0M203.5 299.6h0M344.5 159.8h0M461.0 170.4h0M101.5 309.1h0M614.5 140.1h0M517.0 135.8h0M115.5 285.6h0M466.8 177.7h0M629.8 98.2h0M177.4 262.6h0M355.9 207.4h0M211.5 269.9h0M553.5 105.2h0M218.0 282.0h0M245.2 243.5h0M580.0 88.0h0M574.1 134.6h0M411.0 148.4h0M336.0 206.2h0M248.2 203.4h0M258.7 229.3h0M527.9 132.6h0M416.0 186.1h0M97.7 278.4h0M477.4 160.7h0M182.9 291.1h0M585.8 116.6h0M338.5 203.9h0M309.3 212.0h0M524.1 136.4h0M492.3 173.3h0M515.8 130.0h0M661.2 131.5h0M141.2 261.3h0M129.9 296.6h0M115.8 260.7h0M285.0 208.4h0M656.9 75.8h0M343.9 217.5h0M182.9 214.9h0M215.0 209.6h0M93.4 279.0h0M417.0 181.3h0M235.2 241.1h0M98.7 302.6h0M226.8 259.5h0M100.1 301.1h0M247.9 224.8h0M521.0 153.0h0M71.3 271.9h0M93.0 308.9h0M561.2 87.2h0M666.4 126.7h0M175.1 223.1h0M373.7 198.4h0M211.6 234.5h0M212.3 258.8h0M189.4 257.4h0M652.5 90.2h0M104.2 266.9h0M589.8 74.2h0M331.1 194.3h0M227.7 287.4h0M255.1 271.2h0M107.0 321.5h0M179.6 247.8h0M104.8 279.4h0M264.9 189.8h0M498.6 121.4h0M223.3 271.0h0M92.7 299.0h0M379.4 173.9h0M603.7 64.7h0M618.1 119.9h0M627.0 76.7h0M519.1 135.3h0M324.1 205.8h0M544.4 130.5h0M541.8 143.6h0M482.9 144.1h0M355.8 191.9h0M309.1 214.9h0M241.8 240.6h0M290.7 250.6h0M377.4 228.2h0M213.0 222.4h0M357.2 174.8h0M210.2 250.5h0M511.8 148.9h0M557.5 92.5h0M566.7 74.8h0M251.5 264.6h0M262.7 226.3h0M437.6 174.7h0M115.7 291.7h0M342.2 222.6h0M327.9 207.6h0M263.4 249.7h0M122.6 278.9h0M634.8 101.5h0M384.9 172.1h0M500.5 187.8h0M666.3 57.3h0M319.6 219.7h0M435.2 134.4h0M255.9 197.0h0M566.5 99.9h0M290.2 213.0h0M547.2 134.7h0M416.7 129.2h0M514.2 123.2h0M649.7 94.3h0M241.4 225.2h0M110.8 243.0h0M289.2 230.2h0M430.9 181.9h0M387.0 211.0h0M349.8 197.9h0M371.8 150.0h0M501.6 121.4h0M206.2 264.6h0M680.4 94.8h0M220.8 224.8h0M134.0 314.2h0M168.2 249.7h0M308.6 224.7h0M521.8 141.1h0M137.1 301.7h0M485.3 150.9h0M147.6 300.7h0M671.4 83.9h0M335.0 218.8h0M606.3 55.6h0M138.1 246.7h0M165.7 259.6h0M165.5 268.5h0M262.8 221.3h0M564.3 117.8h0M99.7 248.6h0M85.0 244.0h0M439.8 188.3h0M302.9 239.8h0M368.0 143.4h0M513.1 120.7h0M585.8 64.4h0M358.8 189.3h0M183.9 276.7h0M296.9 246.1h0M453.1 181.5h0M124.0 260.1h0M380.9 173.5h0M199.1 266.1h0M374.8 172.2h0M300.7 196.6h0M372.4 196.3h0M163.0 280.9h0M330.8 173.2h0M284.0 249.4h0M194.5 278.8h0M481.2 173.1h0M571.6 145.5h0M384.6 191.9h0M348.3 212.0h0M312.6 224.3h0M82.0 269.3h0M373.5 206.8h0M661.0 102.7h0M410.9 176.8h0M266.3 251.9h0M217.8 247.7h0M509.5 115.6h0M418.0 155.9h0M282.1 205.7h0M679.7 87.5h0M532.1 120.3h0M522.2 145.4h0M84.9 288.4h0M237.8 195.6h0M635.1 104.1h0M350.4 194.4h0M310.2 171.9h0M489.2 114.5h0M227.6 284.3h0M613.6 86.8h0M497.1 131.7h0M676.7 48.2h0M263.7 211.3h0M185.0 254.7h0M244.7 233.9h0M158.4 302.3h0M357.3 146.3h0M366.0 196.1h0M352.5 169.5h0M373.5 144.5h0M364.0 235.1h0M536.5 150.3h0M377.1 159.6h0M416.9 191.4h0M123.3 262.0h0M272.4 226.7h0M346.3 195.5h0M436.6 141.5h0M369.5 172.6h0M384.3 208.3h0M586.7 102.2h0M110.1 262.9h0M228.3 274.1h0M443.8 158.6h0M164.7 268.6h0M482.6 185.4h0M564.4 130.3h0M291.4 237.0h0M102.5 299.3h0M357.1 186.0h0M187.8 212.4h0M640.0 50.9h0M399.2 206.0h0M405.8 128.2h0M615.8 129.3h0M642.4 96.3h0M78.2 259.1h0M413.6 191.3h0M199.0 273.1h0M129.0 260.9h0M478.2 121.1h0M142.6 248.8h0M332.5 186.9h0M649.5 76.1h0M640.9 62.0h0M131.0 242.8h0M543.7 107.9h0M537.0 151.3h0M674.2 145.3h0M602.9 135.3h0M221.4 245.5h0M104.1 237.9h0M625.1 65.5h0M529.8 160.2h0M198.0 240.1h0M134.2 244.5h0M661.3 143.4h0M239.8 258.3h0M450.1 213.2h0M169.0 268.4h0M444.8 168.2h0M391.9 132.4h0M72.0 324.9h0M412.9 191.3h0M125.9 250.9h0M103.3 273.7h0M339.1 186.2h0M268.0 192.8h0M361.8 166.9h0M428.0 150.3h0M350.3 216.4h0M426.5 161.7h0M263.7 251.7h0M307.3 210.0h0M573.5 132.4h0M163.4 276.1h0M256.4 232.8h0M541.1 102.1h0M532.7 109.1h0M496.6 173.2h0M301.7 195.5h0M523.3 97.5h0M567.7 90.7h0M111.0 309.5h0M667.9 110.7h0M76.3 295.0h0M453.2 200.2h0M112.9 300.2h0M638.9 103.9h0M432.9 131.3h0M409.0 149.4h0M518.0 146.9h0M647.1 95.9h0M517.8 157.0h0M425.2 186.9h0M485.2 121.7h0M589.3 94.4h0M646.7 105.0h0M298.0 226.6h0M77.1 278.8h0M369.8 239.2h0M182.9 260.2h0M539.9 114.8h0M522.5 109.8h0M279.5 177.4h0M507.3 171.9h0M372.4 171.1h0M83.4 294.6h0M460.2 126.3h0M417.7 181.4h0M204.1 243.1h0M248.2 218.6h0M529.3 123.0h0M363.4 183.2h0M270.3 270.1h0M118.8 251.1h0M415.4 160.7h0M330.1 209.2h0M123.8 291.5h0M572.9 83.4h0M599.9 103.2h0M543.4 120.2h0M139.4 283.7h0M312.4 227.6h0M298.3 226.1h0M120.0 242.5h0M90.1 329.2h0M383.1 144.5h0M303.5 200.5h0M155.9 243.5h0M542.8 163.9h0M224.8 241.6h0M363.4 160.2h0M330.9 158.4h0M120.9 293.6h0M601.2 91.2h0M381.3 241.1h0M384.7 169.5h0M425.5 166.1h0M268.0 191.0h0M547.4 131.6h0M270.7 198.6h0M354.0 172.1h0M486.4 154.6h0M330.4 229.5h0M79.6 290.7h0M135.0 294.4h0M156.4 254.7h0M589.3 119.9h0M303.6 224.8h0M233.4 219.5h0M324.8 195.2h0M596.2 131.9h0M82.3 255.1h0M220.6 231.1h0M260.7 260.6h0M208.1 275.2h0M314.5 173.6h0M530.5 132.7h0M325.3 191.1h0M162.5 234.0h0M242.4 219.2h0M250.8 225.1h0M78.3 266.4h0M249.9 210.4h0M114.7 259.8h0M111.7 289.1h0M397.6 197.7h0M647.4 93.2h0M101.1 298.3h0M114.3 280.5h0M448.1 201.8h0M672.7 84.5h0M371.2 192.9h0M366.2 198.0h0M650.8 110.1h0M631.4 74.1h0M329.2 211.0h0M320.3 228.7h0M95.0 310.5h0M88.4 316.6h0M191.6 283.9h0M589.8 88.7h0M554.4 93.7h0M118.3 288.9h0M645.1 105.4h0M542.2 74.6h0M246.2 223.9h0M72.2 311.0h0M331.8 181.3h0M225.0 236.3h0M230.3 277.9h0M557.0 159.6h0M451.1 153.1h0M171.5 263.0h0M524.5 100.6h0M512.7 143.2h0M366.7 185.7h0M330.1 244.1h0M445.3 132.2h0M668.6 87.3h0M213.8 272.1h0M160.7 237.2h0M569.1 134.6h0M661.2 94.1h0M385.7 203.3h0M358.8 191.0h0M171.0 253.2h0M142.2 272.0h0M516.3 152.0h0M127.8 296.4h0M157.1 300.8h0M355.5 187.1h0M606.4 92.9h0M181.9 241.4h0M136.6 297.2h0M327.1 200.7h0M241.0 271.6h0M260.3 218.2h0M94.2 258.4h0M369.1 189.1h0M100.9 261.6h0M351.1 230.8h0M202.4 206.3h0M103.3 285.3h0M449.6 170.8h0M237.9 204.4h0M386.0 159.5h0M552.2 179.6h0M296.7 220.5h0M149.3 253.8h0M146.8 252.5h0M306.0 210.3h0M77.0 281.9h0M301.4 205.2h0M235.6 202.3h0M621.1 136.6h0M188.4 275.0h0M668.6 71.0h0M377.2 168.3h0M273.4 244.6h0M598.5 119.4h0M580.7 123.4h0M580.0 56.9h0M498.9 116.9h0M71.0 297.1h0M300.0 185.5h0M668.4 121.0h0M439.3 173.9h0M545.6 123.3h0M204.7 247.0h0M255.6 251.1h0M460.9 141.0h0M237.0 250.3h0M660.8 112.2h0M560.4 146.8h0M416.9 160.2h0M572.8 138.0h0M348.4 213.0h0M192.1 215.1h0M678.2 47.9h0M470.6 193.7h0M172.5 280.2h0M236.8 246.4h0M331.6 214.7h0M151.1 250.4h0M677.8 128.6h0M460.1 138.5h0M466.6 142.3h0M489.3 174.8h0M182.7 267.5h0M467.1 162.5h0M228.6 244.1h0M194.6 232.1h0M618.3 128.4h0M609.3 158.7h0M512.5 133.3h0M348.6 172.2h0M445.3 146.8h0M592.0 136.8h0M299.5 213.7h0M161.8 234.5h0M671.8 67.5h0M223.4 223.1h0M518.0 154.0h0M134.3 289.3h0M367.1 234.2h0M539.8 156.7h0M662.1 75.2h0M535.3 122.8h0M660.2 109.8h0M138.7 259.7h0M560.7 139.1h0M238.9 198.4h0M139.0 302.0h0M325.9 205.3h0M326.9 187.9h0M601.0 99.0h0M666.0 61.4h0M250.3 225.5h0M275.7 234.3h0M382.9 192.0h0M340.9 205.9h0M372.0 182.4h0M447.4 152.2h0M326.1 249.4h0M664.2 58.8h0M361.5 233.2h0M507.1 155.8h0M228.0 263.3h0M158.6 245.2h0M357.3 176.7h0M473.8 174.4h0M424.3 150.9h0M132.8 267.5h0M613.2 126.9h0M561.7 107.7h0M644.2 106.8h0M395.4 179.5h0M488.5 110.4h0M472.5 165.2h0M156.8 250.3h0M119.1 283.6h0M196.7 243.6h0M579.2 60.5h0M72.0 291.9h0M593.1 104.8h0M415.6 182.9h0M173.7 246.6h0M612.4 92.6h0M328.8 232.8h0M169.7 257.1h0M231.5 235.3h0M311.5 215.4h0M357.6 168.0h0M122.5 294.6h0M72.9 310.3h0M192.6 233.2h0M588.2 115.0h0M81.5 309.4h0M353.8 238.3h0M656.9 78.8h0M142.0 265.9h0M637.7 83.2h0M243.0 264.4h0M479.6 120.1h0M512.8 93.7h0M679.6 29.6h0M282.2 205.1h0M148.1 256.8h0M112.8 282.6h0M667.1 114.4h0M483.3 128.6h0M622.6 95.1h0M94.6 269.9h0M660.7 71.7h0M602.5 111.1h0M426.6 131.7h0M516.0 176.1h0M404.5 184.8h0M668.3 84.2h0M587.4 89.7h0M112.2 252.0h0M214.1 224.0h0M134.2 279.6h0M291.4 204.0h0M161.1 272.8h0M312.4 217.4h0M407.8 158.5h0M191.2 250.9h0M549.6 80.6h0M673.9 52.5h0M203.8 239.0h0M343.2 197.2h0M556.4 84.8h0M285.7 165.1h0M579.6 135.9h0M345.6 183.9h0M431.9 173.4h0M174.6 243.0h0M627.3 97.9h0M568.4 104.0h0M184.2 235.9h0M145.6 278.7h0M433.7 148.8h0M534.5 167.1h0M454.6 193.5h0M354.0 227.8h0M397.7 169.8h0M671.3 92.6h0M540.6 126.7h0M517.8 132.6h0M597.3 101.2h0M189.1 223.4h0M158.6 237.3h0M501.3 142.9h0M325.7 169.6h0M532.8 100.3h0M101.5 316.6h0M533.0 147.7h0M236.9 229.8h0M203.4 207.7h0M435.4 196.1h0M287.9 216.4h0M683.0 105.7h0M614.0 93.4h0M224.4 263.6h0M525.0 150.7h0M131.1 296.8h0M447.6 185.6h0M355.2 201.7h0M659.9 53.3h0M548.5 112.7h0M569.7 127.9h0M510.9 119.3h0M370.0 195.5h0M299.1 239.3h0M317.8 201.9h0M272.7 172.3h0M129.3 317.9h0M537.0 100.8h0M403.7 211.1h0M180.0 264.9h0M199.0 265.7h0M303.0 209.3h0M581.3 115.2h0M285.5 188.5h0M79.8 291.5h0M94.7 258.1h0M358.7 203.5h0M556.9 117.3h0M304.8 186.7h0M461.5 198.3h0M400.3 178.2h0M399.4 164.2h0M281.3 243.4h0M121.0 298.5h0M360.9 211.0h0M384.0 201.1h0M219.8 225.0h0M136.8 296.2h0M130.0 290.0h0M471.7 140.9h0M406.1 146.7h0M348.2 218.5h0M495.6 118.3h0M231.9 268.1h0M576.7 92.1h0M377.4 173.7h0M404.1 204.9h0M130.6 256.3h0M419.3 160.4h0M186.3 291.0h0M476.3 178.2h0M198.4 224.8h0M134.5 246.4h0M428.7 215.2h0M213.6 226.7h0M560.2 148.5h0M307.8 198.3h0M530.5 153.4h0M483.0 158.6h0M309.9 241.6h0M362.8 153.3h0M545.5 77.3h0M178.8 238.0h0M510.9 93.5h0M345.8 194.6h0M215.3 237.7h0M69.7 313.5h0M673.2 102.2h0M208.6 243.3h0M432.4 141.0h0M98.4 303.6h0M470.1 148.3h0M553.6 131.6h0M101.0 250.8h0M348.7 165.2h0M441.2 171.6h0M657.1 49.8h0M588.5 129.6h0M155.7 278.8h0M152.9 238.8h0M104.7 243.0h0M616.1 82.4h0M268.4 228.0h0M214.4 256.7h0M367.4 185.0h0M650.5 95.7h0M308.3 230.4h0M235.9 203.9h0M426.2 150.2h0M293.1 221.4h0M610.1 94.9h0M596.5 132.4h0M324.2 181.4h0M517.5 131.2h0M444.2 184.0h0M306.7 220.4h0M633.4 47.0h0M426.8 138.8h0M288.9 237.0h0M443.3 137.2h0M440.9 176.2h0M300.7 194.5h0M655.4 102.1h0M657.4 70.7h0M77.8 287.5h0M336.2 175.5h0M425.6 198.6h0M209.2 251.4h0M551.3 107.1h0M493.1 138.5h0M380.4 165.4h0M541.2 139.8h0M379.8 193.7h0M160.2 250.6h0M668.9 123.5h0M436.8 140.1h0M91.0 304.0h0M469.9 163.9h0M135.8 311.9h0M374.9 178.1h0M629.1 68.7h0M391.0 154.2h0M380.4 194.2h0M593.6 112.9h0M573.6 139.4h0M194.9 231.9h0M193.2 266.9h0M222.1 221.2h0M184.0 273.1h0M141.0 271.4h0M554.9 85.2h0M530.7 154.4h0M75.6 290.4h0M110.8 299.3h0M638.4 73.8h0M406.5 191.3h0M449.3 183.1h0M143.2 298.1h0M138.8 266.5h0M547.9 166.9h0M373.6 179.7h0M358.8 145.0h0M496.5 193.5h0M196.1 224.8h0M143.1 259.6h0M205.2 257.2h0M212.3 258.0h0M108.2 294.0h0M267.2 222.4h0M247.0 191.2h0M572.2 118.2h0M353.4 199.6h0M261.5 231.7h0M627.0 88.4h0M634.0 88.9h0M343.8 203.5h0M500.9 119.8h0M177.5 275.7h0M376.6 211.2h0M135.0 316.7h0M79.9 318.1h0M303.1 209.2h0M71.4 305.3h0M201.1 251.9h0M340.6 219.2h0M278.0 234.4h0M138.0 307.2h0M482.8 177.9h0M142.3 277.4h0M282.9 177.7h0M185.2 243.1h0M473.5 151.3h0M214.4 271.8h0M498.3 161.5h0M636.4 81.3h0M642.1 84.5h0M373.2 179.4h0M660.3 114.6h0M312.1 202.1h0M233.7 242.9h0M223.2 228.8h0M427.0 166.2h0M343.8 157.0h0M381.3 179.0h0M218.2 208.1h0M417.2 158.9h0M299.3 181.8h0M211.3 266.8h0M121.6 260.6h0M561.3 145.9h0M407.0 186.4h0M626.8 100.4h0M214.3 254.1h0M226.3 290.9h0M378.7 169.0h0M661.5 92.8h0M351.0 211.8h0M583.9 128.6h0M312.7 200.7h0M612.7 77.3h0M262.2 234.6h0M465.9 141.7h0M641.1 106.5h0M437.6 158.6h0M208.7 245.3h0M558.2 131.4h0M544.6 128.5h0M605.9 74.1h0M533.9 91.3h0M131.8 296.7h0M244.3 208.2h0M383.6 163.5h0M318.6 209.0h0M675.3 65.6h0M174.0 228.9h0M135.9 247.1h0M629.3 50.8h0M282.6 232.2h0M199.1 205.9h0M508.3 150.9h0M562.5 133.5h0M525.0 110.4h0M156.4 287.0h0M641.0 84.2h0M545.2 164.3h0M681.4 76.8h0M499.6 201.2h0M208.2 218.5h0M607.5 107.1h0M613.3 92.3h0M335.4 209.1h0M241.0 213.3h0M460.0 135.3h0M407.1 162.0h0M367.8 168.1h0M217.1 224.5h0M548.2 134.5h0M540.6 148.5h0M361.9 211.8h0M127.9 290.1h0M511.0 95.1h0M597.0 117.6h0M155.9 272.4h0M570.4 76.6h0M641.8 116.1h0M207.5 254.3h0M455.6 175.8h0M300.6 197.5h0M535.3 88.3h0M529.5 108.1h0M353.5 202.9h0M602.5 76.7h0M159.4 250.7h0M377.8 208.5h0M469.0 165.7h0M543.6 80.8h0M468.5 147.9h0M359.9 181.4h0M469.9 153.6h0M533.2 132.9h0M403.3 197.8h0M277.3 216.7h0M659.2 65.5h0M125.7 252.4h0M313.7 188.8h0M217.8 222.1h0M390.4 198.0h0M639.7 75.3h0M498.0 176.9h0M140.3 265.5h0M102.5 277.2h0M487.4 201.3h0M585.2 131.0h0M147.3 276.9h0M96.6 252.1h0M179.0 249.5h0M660.1 103.5h0M454.8 183.9h0M530.4 108.7h0M328.8 195.3h0M447.2 166.7h0M513.7 163.2h0M270.2 211.8h0M585.5 69.3h0M122.8 254.5h0M410.6 184.3h0M514.2 158.0h0M640.7 94.8h0M450.0 163.9h0M152.6 280.1h0M468.1 111.7h0M258.3 247.4h0M260.8 193.7h0M676.8 77.9h0M533.2 136.0h0M297.9 188.9h0M323.1 179.8h0M541.7 132.7h0M239.0 210.8h0M623.2 86.6h0M647.8 111.4h0M503.7 176.3h0M372.4 158.7h0M356.8 182.2h0M592.7 146.4h0M681.6 87.9h0M641.4 94.3h0M492.0 182.5h0M70.2 283.5h0M335.5 204.6h0M193.8 253.9h0M617.6 77.3h0M349.7 171.8h0M481.6 149.1h0M70.5 311.5h0M301.6 166.1h0M333.3 196.5h0M340.2 238.9h0M661.5 74.8h0M255.4 260.7h0M165.1 259.2h0M546.7 157.3h0M431.8 195.6h0M200.1 199.7h0M664.3 68.8h0M356.9 154.9h0M71.5 310.3h0M76.9 261.3h0M315.2 247.2h0M172.2 271.8h0M119.7 233.3h0M120.8 310.2h0M444.9 154.7h0M272.9 236.2h0M421.7 191.3h0M206.3 246.9h0M101.5 261.1h0M591.7 93.8h0M83.8 283.6h0M181.4 284.6h0M313.7 204.1h0M495.2 189.7h0M280.9 239.6h0M85.1 308.4h0M166.3 261.9h0M570.2 101.5h0M441.9 193.5h0M240.9 238.3h0M587.2 85.7h0M224.9 228.5h0M558.5 115.0h0M375.8 205.1h0M371.9 158.2h0M312.6 152.3h0M441.0 152.5h0M484.6 107.8h0M254.0 261.9h0M639.5 121.3h0M538.6 141.5h0M400.9 179.5h0M623.7 151.3h0M128.2 257.5h0M601.4 156.9h0M529.2 143.3h0M411.0 198.5h0M84.5 264.8h0M311.2 172.4h0M291.1 248.0h0M418.8 167.2h0M338.4 209.6h0M118.4 259.5h0M546.2 128.5h0M487.6 154.1h0M294.0 218.8h0M586.4 147.9h0M396.4 175.7h0M190.7 270.6h0M112.2 253.0h0M630.6 100.9h0M465.9 204.1h0M484.3 145.0h0M519.3 186.7h0M296.5 220.7h0M236.8 219.5h0M358.2 205.9h0M200.6 268.6h0M387.2 158.1h0M248.8 253.3h0M76.8 304.5h0M137.0 274.9h0M656.4 103.4h0M430.2 153.4h0M532.6 111.6h0M131.2 289.2h0M254.4 241.2h0M468.4 170.3h0M203.5 256.4h0M409.5 183.5h0M78.7 247.8h0M343.1 188.4h0M196.9 292.9h0M140.8 247.9h0M597.3 76.7h0M261.8 214.0h0M184.4 300.9h0M411.3 212.0h0M414.8 138.0h0M238.7 241.0h0M391.9 200.8h0M645.4 116.4h0M134.8 259.2h0M155.6 291.8h0M107.7 301.0h0M379.1 178.8h0M208.1 222.9h0M634.1 94.3h0M633.9 136.9h0M536.9 158.4h0M295.4 208.4h0M362.9 172.1h0M183.4 268.4h0M587.2 91.1h0M535.4 140.6h0M314.7 200.5h0M133.9 289.2h0M465.3 175.8h0M603.2 131.1h0M661.9 57.0h0M475.3 147.1h0M323.5 217.1h0M680.6 96.4h0M566.4 140.3h0M525.9 119.8h0M250.4 235.9h0M674.1 99.4h0M403.5 177.9h0M658.4 75.0h0M82.4 279.5h0M421.4 141.9h0M407.5 158.7h0M636.6 86.4h0M620.6 77.6h0M483.0 155.7h0M304.3 260.2h0M484.8 103.3h0M212.3 223.5h0M502.6 165.4h0M374.2 186.5h0M273.8 210.4h0M456.4 125.5h0M417.1 205.5h0M160.3 281.9h0M661.2 74.0h0M238.4 262.1h0M582.7 143.3h0M630.0 115.9h0M390.7 184.4h0M631.1 121.0h0M660.6 120.1h0M95.4 253.3h0M370.6 192.7h0M504.9 144.3h0M669.1 57.9h0M548.9 154.7h0M678.7 41.1h0M378.4 195.5h0M498.5 150.1h0M175.4 250.6h0M326.6 191.4h0M202.7 262.0h0M653.7 133.0h0M552.4 177.4h0M626.8 110.5h0M285.9 248.5h0M535.1 91.2h0M193.7 266.6h0M406.2 182.3h0M452.8 162.7h0M455.6 128.5h0M596.2 61.3h0M218.9 243.1h0M543.2 177.3h0M404.6 222.1h0M250.9 241.2h0M594.2 93.0h0M197.1 217.8h0M258.4 204.7h0M254.0 250.5h0M464.8 170.2h0M142.8 303.3h0M589.7 101.6h0M286.7 258.3h0M181.7 261.0h0M177.9 282.6h0M626.9 86.4h0M507.1 121.9h0M404.5 157.8h0M350.7 225.2h0M646.3 99.0h0M92.8 318.3h0M381.6 205.8h0M533.7 84.0h0M647.0 130.6h0M477.5 132.1h0M476.4 108.1h0M599.5 77.3h0M606.4 83.3h0M290.6 211.7h0M269.3 221.0h0M273.1 225.8h0M678.2 60.6h0M139.3 301.5h0M433.9 155.5h0M290.5 167.0h0M526.9 176.6h0M557.9 98.5h0M150.4 288.8h0M467.0 178.7h0M125.5 268.2h0M69.3 332.3h0M89.8 258.7h0M639.1 64.0h0M170.9 270.8h0M668.8 86.2h0M377.3 205.1h0M208.4 302.9h0M622.8 124.4h0M389.2 156.2h0M212.7 257.6h0M248.7 279.2h0M155.8 245.7h0M542.0 136.5h0M459.2 150.2h0M594.8 119.8h0M190.2 233.7h0M579.3 151.1h0M605.4 67.3h0M92.8 287.9h0M353.0 174.9h0M612.4 79.5h0M77.3 294.8h0M142.4 278.1h0M623.1 90.3h0M371.5 239.2h0M299.2 187.4h0M674.2 126.5h0M179.3 294.0h0M524.0 165.3h0M421.5 159.2h0M392.6 168.3h0M606.5 85.9h0M634.3 109.4h0M584.3 79.3h0M429.4 216.1h0M248.8 186.3h0M168.9 235.7h0M86.2 298.4h0M334.0 233.3h0M638.6 100.3h0M245.0 242.6h0M86.3 252.0h0M532.1 136.0h0M423.5 186.9h0M162.7 291.4h0M290.5 198.0h0M298.1 199.8h0M546.3 131.6h0M73.4 293.7h0M223.5 259.3h0M442.3 121.8h0M390.1 168.6h0M245.3 221.2h0M425.7 176.1h0M463.1 147.4h0M494.3 149.0h0M178.1 257.4h0M567.2 125.7h0M80.7 298.0h0M364.2 208.2h0M268.6 208.1h0M407.0 149.9h0M660.0 84.7h0M670.7 59.2h0M352.7 204.0h0M479.4 178.0h0M493.5 170.6h0M217.2 240.7h0M128.0 257.6h0M325.2 176.8h0M313.6 234.9h0M530.3 107.1h0M82.0 302.1h0M249.7 220.5h0M443.6 177.0h0M683.3 91.6h0M150.4 236.0h0M280.0 196.5h0M655.8 50.4h0M159.2 255.4h0M441.3 209.0h0M440.7 144.2h0M658.2 107.7h0M399.7 182.3h0M677.7 61.8h0M458.9 186.2h0M203.4 246.0h0M486.2 134.3h0M654.4 97.5h0M300.4 180.8h0M486.2 174.0h0M138.4 284.4h0M206.3 263.7h0M276.4 264.1h0M582.3 84.4h0M410.2 205.6h0M233.9 244.0h0M286.0 230.9h0M316.6 228.4h0M595.3 119.4h0M588.3 93.9h0M659.2 75.8h0M537.7 160.5h0M86.0 281.2h0M181.5 265.6h0M601.7 108.2h0M369.6 186.6h0M330.5 197.7h0M640.9 104.6h0M472.1 150.3h0M533.8 144.5h0M678.7 85.1h0M528.3 121.5h0M400.0 181.9h0M434.5 205.3h0M72.7 314.7h0M624.9 75.6h0M366.8 218.2h0M249.9 232.3h0M238.7 209.9h0M174.7 267.9h0M167.0 236.5h0M178.5 220.5h0M510.2 156.4h0M267.1 216.7h0M459.5 166.3h0M664.2 129.5h0M495.7 103.4h0M631.8 86.5h0M279.8 241.3h0M618.2 74.4h0M338.4 242.5h0M166.5 243.6h0M646.8 95.8h0M614.0 79.5h0M448.3 190.4h0M234.1 288.3h0M486.9 148.0h0M195.6 219.7h0M667.1 57.6h0M78.4 312.9h0M84.0 323.9h0M575.0 119.4h0M561.1 116.8h0M638.4 96.7h0M227.8 240.8h0M321.3 183.8h0M335.5 249.5h0M78.6 319.5h0M627.4 79.5h0M70.2 250.3h0M671.2 101.1h0M90.7 327.7h0M584.4 126.3h0M502.9 125.5h0M161.9 260.4h0M152.9 309.3h0M321.4 236.0h0M228.4 226.7h0M451.0 130.9h0M193.0 259.5h0M84.3 298.9h0M213.6 269.6h0M81.2 258.0h0M313.7 154.9h0M424.8 200.9h0M167.8 282.9h0M656.8 123.5h0M615.4 84.1h0M234.2 244.1h0M202.7 270.7h0M204.9 241.8h0M206.4 274.7h0M601.7 154.0h0M489.6 157.3h0M660.0 116.6h0M458.7 192.5h0M638.3 147.1h0M649.8 66.8h0M438.3 191.3h0M83.8 269.2h0M407.1 163.9h0M261.1 219.8h0M550.5 117.6h0M522.5 144.1h0M120.0 279.3h0M618.4 77.3h0M477.2 158.2h0M304.0 214.4h0M83.2 262.8h0M581.0 143.7h0M171.1 225.2h0M264.5 267.2h0M119.8 265.7h0M295.9 216.9h0M613.6 135.6h0M383.3 180.3h0M232.4 259.3h0M422.4 159.9h0M387.5 152.7h0M412.1 180.6h0M526.4 122.8h0M446.7 199.0h0M325.9 216.3h0M113.2 262.1h0M662.9 125.2h0M643.7 110.4h0M207.0 234.7h0M314.2 247.8h0M207.7 243.0h0M643.3 103.4h0M276.7 208.8h0M310.2 207.3h0M442.9 128.3h0M110.3 293.2h0M102.7 309.8h0M544.8 131.2h0M310.0 217.0h0M368.0 174.4h0M344.8 202.1h0M146.4 294.4h0M380.6 188.7h0M341.5 191.2h0M220.6 214.6h0M500.8 139.3h0M303.7 248.3h0M129.5 258.9h0M110.1 280.1h0M503.1 128.4h0M134.9 258.7h0M251.2 241.2h0M365.3 231.7h0M364.6 154.0h0M213.1 244.0h0M682.0 88.6h0M568.9 121.5h0M500.9 168.5h0M598.5 133.7h0M408.5 147.8h0M456.5 175.5h0M468.4 190.2h0M95.4 269.2h0M372.1 173.9h0M579.5 135.4h0M451.9 183.2h0M424.1 182.8h0M543.7 139.7h0M408.9 193.7h0M315.2 206.5h0M428.2 146.9h0M114.7 284.0h0M473.9 170.2h0M153.8 267.3h0M513.0 95.9h0M306.2 215.4h0M454.6 155.8h0M163.4 262.7h0M571.4 106.8h0M445.4 153.9h0M299.6 213.9h0M348.2 169.9h0M633.7 111.4h0M116.4 289.6h0M178.5 233.1h0M633.7 131.8h0M194.5 238.6h0M572.3 132.1h0M182.3 222.4h0M304.9 209.6h0M203.6 258.4h0M401.7 144.5h0M344.2 194.2h0M672.8 38.8h0M70.5 287.2h0M568.7 108.7h0M363.8 212.8h0M384.2 214.6h0M293.6 192.2h0M148.6 287.1h0M202.6 264.2h0M496.6 105.7h0M91.3 276.7h0M268.8 191.9h0M346.5 172.1h0M646.5 114.4h0M192.5 230.8h0M565.1 150.3h0M420.1 167.6h0M72.6 275.1h0M179.6 259.0h0M612.6 134.8h0M152.2 295.8h0M499.6 144.4h0M177.6 259.0h0M556.1 147.7h0M123.8 237.5h0M656.7 38.3h0M248.5 222.7h0M336.1 218.4h0M126.4 277.8h0M243.5 231.3h0M592.7 108.0h0M472.2 104.5h0M667.1 114.6h0M506.2 177.7h0M278.4 247.4h0M618.6 84.3h0M167.0 272.6h0M249.0 250.0h0M368.0 222.8h0M419.5 124.0h0M349.4 235.2h0M104.1 277.9h0M272.7 206.1h0M620.5 116.9h0M460.8 140.1h0M435.9 177.6h0M539.9 90.8h0M240.6 206.2h0M278.3 183.2h0M638.5 71.3h0M523.0 137.2h0M680.1 57.1h0M395.1 175.2h0M249.6 223.7h0M348.1 218.1h0M578.0 101.8h0M129.5 312.1h0M513.3 168.0h0M213.0 288.9h0M252.7 244.4h0M238.0 266.4h0M295.1 246.2h0M146.7 261.1h0M92.9 263.9h0M317.3 250.4h0M222.1 228.4h0M451.7 142.0h0M105.9 295.6h0M573.9 125.5h0M545.6 122.3h0M433.2 140.1h0M652.4 113.5h0M222.6 278.2h0M259.3 207.7h0M608.3 132.7h0M659.4 57.4h0M162.9 270.8h0M371.2 178.8h0M470.0 133.5h0M413.9 171.7h0M554.0 81.4h0M400.1 163.6h0M372.6 172.7h0M603.2 106.9h0M277.9 234.6h0M674.7 38.8h0M675.5 118.8h0M474.4 157.5h0M182.0 230.8h0M382.7 183.0h0M152.8 275.2h0M318.7 178.3h0M443.3 206.7h0M107.4 276.1h0M598.8 80.5h0M114.4 323.6h0M504.9 140.3h0M576.2 83.3h0M630.3 85.6h0M618.2 138.8h0M400.5 174.0h0M617.6 152.1h0M275.7 186.4h0M202.7 278.0h0M464.3 112.7h0M330.3 246.3h0M612.0 99.4h0M451.7 164.5h0M374.2 214.8h0M576.9 129.5h0M380.9 209.1h0M85.2 257.0h0M475.1 142.7h0M249.0 227.9h0M143.5 242.0h0M310.8 204.5h0M626.3 134.4h0M338.9 150.4h0M529.9 149.3h0M365.3 187.9h0M255.3 268.2h0M486.5 171.6h0M612.1 131.3h0M232.1 236.7h0M627.3 123.6h0M472.2 105.9h0M580.2 84.5h0M424.3 158.8h0M371.1 170.6h0M291.7 238.9h0M486.9 182.8h0M258.5 221.7h0M614.5 91.8h0M457.5 191.4h0M610.2 72.9h0M128.6 262.8h0M482.0 117.3h0M150.0 272.8h0M205.3 245.9h0M617.6 94.7h0M680.6 25.5h0M398.9 177.1h0M270.6 178.7h0M472.6 146.5h0M169.8 293.1h0M612.1 107.3h0M109.5 289.8h0M636.5 102.3h0M205.2 217.9h0M578.5 123.2h0M657.4 94.4h0M269.5 230.8h0M436.9 195.7h0M396.8 163.0h0M615.1 94.2h0M484.6 173.9h0M211.0 251.7h0M394.2 149.4h0M414.9 171.2h0M566.0 160.9h0M153.1 262.8h0M510.6 185.5h0M629.7 68.9h0M154.5 250.0h0M276.1 227.0h0M284.4 216.3h0M135.7 302.9h0M661.3 95.0h0M615.3 93.0h0M441.2 158.1h0M340.2 184.3h0M546.9 111.1h0M573.5 112.2h0M466.3 168.8h0M234.6 234.7h0M428.4 198.2h0M675.3 96.6h0M469.4 148.3h0M659.3 119.6h0M94.7 298.0h0M162.8 243.6h0M541.0 155.4h0M74.4 331.3h0M133.5 268.9h0M342.0 248.0h0M248.0 206.8h0M343.1 190.5h0M485.9 154.1h0M282.4 181.3h0M647.2 69.4h0M495.1 166.7h0M635.6 124.4h0M80.4 299.6h0M177.2 216.0h0M250.0 218.2h0M416.5 170.9h0M133.6 256.6h0M410.7 165.7h0M524.5 133.1h0M330.7 198.4h0M672.3 33.5h0M543.9 137.3h0M607.0 70.1h0M497.3 134.4h0M240.0 214.3h0M533.0 130.8h0M186.5 256.2h0M251.8 229.6h0M225.9 243.8h0M401.7 147.9h0M221.8 238.9h0M74.6 274.4h0M80.9 294.7h0M288.1 214.0h0M71.9 279.9h0M187.6 262.9h0M389.5 150.7h0M646.4 133.8h0M604.1 76.1h0M180.8 261.7h0M664.3 120.1h0M187.5 263.0h0M636.1 93.0h0M77.2 315.7h0M253.2 220.2h0M202.0 238.6h0M174.7 247.7h0M477.7 130.4h0M282.7 188.1h0M201.1 275.3h0M172.0 273.1h0M133.5 283.4h0M607.8 129.7h0M583.6 90.2h0M447.0 194.8h0M651.0 60.9h0M634.1 110.4h0M603.4 122.7h0M284.0 203.9h0M201.8 270.3h0M654.7 97.7h0M547.5 109.8h0M534.7 93.3h0M143.2 260.5h0M538.2 187.3h0M303.1 220.8h0M96.7 307.2h0M284.4 234.6h0M449.9 180.0h0M554.3 85.8h0M380.4 224.3h0M306.8 218.7h0M588.2 149.1h0M472.2 181.8h0M406.7 159.1h0M239.5 219.3h0M676.3 96.6h0M134.4 263.4h0M200.6 227.0h0M317.3 195.6h0M323.2 156.7h0M566.9 146.5h0M646.8 97.2h0M193.9 246.0h0M73.7 273.2h0M635.3 84.9h0M177.4 255.6h0M507.2 153.8h0M312.4 231.1h0M546.9 155.6h0M153.4 278.3h0M148.7 302.8h0M283.8 214.3h0M186.7 239.3h0M137.3 262.0h0M131.4 282.5h0M313.5 198.3h0M581.1 93.5h0M126.3 254.2h0M373.3 183.7h0M325.9 186.9h0M241.4 264.5h0M238.3 203.6h0M242.5 234.3h0M273.3 169.2h0M140.1 249.5h0M258.6 205.3h0M595.2 157.8h0M186.7 215.9h0M173.5 237.2h0M252.1 201.7h0M555.9 102.1h0M368.2 144.6h0M92.6 270.9h0M321.6 205.0h0M432.2 195.7h0M356.9 234.9h0M178.0 228.0h0M638.5 109.3h0M604.3 118.1h0M117.3 277.5h0M547.9 113.3h0M271.2 197.7h0M664.1 40.8h0M428.2 155.4h0M570.6 106.5h0M312.3 181.2h0M71.0 274.7h0M109.0 262.6h0M558.8 70.5h0M506.0 134.4h0M540.5 108.4h0M117.4 306.8h0M265.2 224.9h0M193.1 268.6h0M437.8 133.3h0M336.7 181.4h0M329.7 219.8h0M287.1 191.5h0M340.3 178.1h0M550.4 145.5h0M80.2 254.9h0M642.2 61.9h0M478.1 196.8h0M545.3 156.1h0M625.9 119.6h0M302.1 244.0h0M633.3 96.6h0M575.2 121.0h0M447.6 177.9h0M142.2 295.6h0M481.8 136.3h0M325.5 216.6h0M255.3 212.9h0M511.2 112.4h0M631.5 55.6h0M667.5 81.3h0M415.6 180.6h0M337.5 242.5h0M663.5 68.2h0M445.2 129.6h0M421.0 187.3h0M137.7 265.3h0M354.0 158.9h0M202.0 226.1h0M658.7 89.3h0M465.8 151.4h0M443.5 176.6h0M664.2 45.2h0M106.9 277.9h0M103.0 245.2h0M178.8 276.4h0M515.1 147.6h0M216.7 258.3h0M474.2 143.5h0M469.2 158.1h0M88.1 284.1h0M286.2 200.5h0M471.0 134.7h0M320.1 162.4h0M363.2 180.7h0M307.4 207.0h0M188.4 261.4h0M277.9 245.0h0M342.2 189.7h0M202.6 249.9h0M496.9 125.9h0M528.8 151.9h0M169.5 253.5h0M642.2 101.9h0M342.2 185.3h0M384.1 166.4h0M433.3 153.9h0M299.2 239.8h0M572.8 92.2h0M508.2 156.4h0M363.8 226.0h0M116.4 277.3h0M459.3 134.7h0M232.4 265.1h0M167.1 260.0h0M376.9 206.6h0M292.2 240.3h0M467.3 174.2h0M485.9 159.8h0M540.0 124.3h0M538.5 132.9h0M573.4 80.0h0M200.4 275.5h0M476.2 172.9h0M624.9 86.5h0M501.5 163.2h0M172.1 267.7h0M309.5 211.2h0M470.8 199.9h0M655.7 87.8h0M477.3 128.9h0M505.0 156.5h0M107.6 302.3h0M386.9 189.8h0M664.7 93.1h0M607.2 139.4h0M473.4 146.3h0M458.6 177.6h0M582.3 82.2h0M208.2 243.8h0M81.2 273.1h0M71.4 336.7h0M635.7 111.1h0M448.7 163.4h0M389.1 132.9h0M279.2 232.2h0M505.5 128.8h0M221.5 221.8h0M611.5 131.5h0M233.9 202.0h0M254.0 245.2h0M95.6 258.8h0M678.3 46.1h0M319.1 204.5h0M201.1 246.1h0M652.7 126.0h0M126.8 263.9h0M89.0 278.8h0M352.8 196.0h0M445.3 143.9h0M232.6 229.9h0M649.0 85.0h0M542.0 100.7h0M643.4 44.2h0M550.3 122.4h0M539.6 143.8h0M143.2 266.5h0M391.6 187.3h0M665.7 72.3h0M104.9 288.4h0M292.0 256.9h0M490.1 121.7h0M491.7 96.0h0M617.4 103.5h0M349.5 202.9h0M654.4 73.5h0M224.0 245.0h0M120.0 251.9h0M601.8 119.7h0M364.1 179.7h0M147.3 241.7h0M296.3 191.0h0M260.7 253.3h0M544.1 94.3h0M351.4 178.2h0M75.8 290.6h0M181.6 290.4h0M527.5 150.0h0M328.0 186.5h0M466.3 146.3h0M569.0 117.1h0M371.0 192.9h0M360.8 229.8h0M109.6 251.6h0M257.5 267.2h0M533.2 116.8h0M503.9 173.2h0M606.0 90.9h0M611.2 100.8h0M339.2 210.4h0M563.6 140.9h0M619.1 134.3h0M639.7 131.2h0M651.7 95.1h0M163.4 258.0h0M348.7 233.4h0M290.9 201.6h0M308.1 201.7h0M562.6 132.4h0M201.7 250.1h0M620.1 116.6h0M185.5 256.1h0M315.7 192.2h0M116.3 279.6h0M654.0 105.1h0M594.1 117.0h0M119.3 267.8h0M590.0 91.5h0M102.3 251.0h0M184.4 259.2h0M451.5 156.8h0M320.5 223.2h0M285.8 226.8h0M77.8 309.5h0M328.8 233.0h0M263.9 239.5h0M112.1 276.9h0M666.8 64.0h0M365.3 194.9h0M409.4 122.4h0M215.6 219.6h0M75.0 304.2h0M477.0 155.1h0M632.4 103.5h0M645.5 51.8h0M474.7 108.6h0M573.0 92.1h0M469.8 160.8h0M573.0 109.3h0M254.1 257.4h0M207.2 222.2h0M149.3 247.1h0M448.6 171.9h0M237.8 191.4h0M665.4 78.1h0M668.7 103.8h0M600.9 94.8h0M618.7 103.1h0M184.0 254.1h0M292.6 212.2h0M609.9 53.5h0M105.1 285.4h0M578.2 133.9h0M142.5 250.1h0M361.7 215.5h0M148.5 266.7h0M268.0 234.2h0M485.6 173.5h0M507.8 159.5h0M629.0 80.5h0M408.0 161.6h0M180.1 246.4h0M509.5 147.1h0M501.3 113.7h0M254.8 277.7h0M553.7 101.2h0M674.1 79.3h0M215.7 207.9h0M418.1 187.0h0M117.0 303.0h0M444.4 151.5h0M168.9 293.8h0M371.8 237.0h0M579.0 112.6h0M120.3 251.6h0M270.6 258.6h0M303.6 198.4h0M196.1 226.2h0M392.3 229.4h0M561.6 168.3h0M656.6 126.8h0M657.0 55.1h0M223.5 228.1h0M147.2 259.0h0M388.5 199.8h0M567.3 131.7h0M197.8 263.6h0M102.5 277.7h0M235.0 230.0h0M106.4 277.0h0M190.4 246.7h0M80.4 281.8h0M571.4 139.8h0M346.7 166.6h0M640.3 90.9h0M349.3 182.1h0M241.5 192.5h0M431.3 162.8h0M224.0 227.2h0M531.0 124.6h0M248.6 268.4h0M627.4 133.1h0M80.0 325.2h0M242.9 260.7h0M452.8 171.2h0M97.5 254.0h0M269.2 217.8h0M320.5 159.3h0M683.4 56.3h0M638.7 80.1h0M85.3 287.5h0M225.7 248.8h0M385.2 188.5h0M663.9 100.8h0M537.9 149.1h0M260.4 228.0h0M208.5 282.6h0M368.5 193.8h0M210.2 228.5h0M291.7 252.7h0M412.0 135.8h0M540.4 135.2h0M151.8 238.8h0M587.5 137.2h0M468.2 134.1h0M597.3 163.0h0M404.0 175.6h0M234.8 226.0h0M286.0 236.2h0M421.4 212.9h0M535.2 109.6h0M140.5 270.1h0M567.3 120.8h0M196.1 233.0h0M168.1 234.3h0M99.5 299.3h0M305.7 250.1h0M193.3 232.6h0M384.1 169.2h0M366.3 169.8h0M81.3 279.0h0M77.9 259.8h0M350.8 225.1h0M75.7 327.8h0M549.7 136.0h0M275.9 174.4h0M443.1 172.9h0M474.8 136.8h0M354.1 207.7h0M385.9 196.7h0M101.6 289.7h0M376.1 186.2h0M602.3 106.5h0M224.8 293.4h0M280.2 261.4h0M116.7 231.4h0M383.2 219.1h0M73.5 308.4h0M290.0 231.1h0M591.4 144.0h0M96.1 275.7h0M150.7 212.2h0M399.3 139.8h0M637.8 110.0h0M493.9 167.8h0M163.8 263.9h0M515.0 129.0h0M103.1 288.6h0M411.7 155.8h0M106.1 274.9h0M239.1 209.4h0M383.3 196.3h0M185.2 246.8h0M104.4 255.9h0M79.3 294.8h0M441.9 132.3h0M681.5 119.2h0M440.2 169.4h0M404.2 186.5h0M672.8 48.5h0M538.3 126.6h0M263.2 192.5h0M403.7 217.8h0M150.4 227.4h0M325.8 173.9h0M546.4 94.8h0M266.6 209.9h0M396.2 182.2h0M372.6 170.6h0M228.1 215.7h0M355.2 202.8h0M285.5 224.6h0M87.7 286.9h0M140.7 285.4h0M231.6 253.8h0M108.4 258.3h0M242.0 276.9h0M178.2 303.1h0M312.2 189.0h0M658.6 86.8h0M275.2 170.5h0M147.3 275.3h0M189.9 266.2h0M152.9 282.0h0M295.2 228.9h0M618.3 113.5h0M391.8 214.8h0M72.5 252.0h0M286.0 179.5h0M191.3 259.7h0M368.3 193.7h0M110.4 317.1h0M550.8 125.4h0M257.4 207.5h0M320.8 203.8h0M148.4 256.7h0M450.4 136.0h0M382.4 176.5h0M244.0 273.3h0M673.5 79.9h0M505.5 154.5h0M162.4 267.3h0M345.5 163.8h0M423.4 165.8h0M205.7 254.5h0M659.7 109.4h0M662.9 90.5h0M102.5 250.8h0M177.7 253.1h0M142.1 282.5h0M478.8 128.2h0M682.6 86.4h0M140.5 295.1h0M506.8 157.8h0M548.0 105.6h0M136.5 290.6h0M107.8 297.7h0M263.5 215.6h0M220.0 242.0h0M77.5 310.1h0M534.7 152.2h0M626.2 103.8h0M629.7 130.0h0M220.3 223.1h0M491.8 134.1h0M546.3 144.6h0M538.3 85.0h0M233.6 210.9h0M375.2 195.7h0M621.2 99.6h0M554.6 135.7h0M476.7 132.2h0M92.2 277.3h0M514.9 105.7h0M170.9 269.6h0M442.0 166.7h0M601.5 101.0h0M180.8 227.4h0M337.5 187.1h0M383.2 163.7h0M497.9 181.3h0M658.2 118.2h0M170.4 272.7h0M440.1 219.8h0M641.2 61.8h0M226.0 203.4h0M240.3 244.9h0M333.7 220.2h0M396.6 196.6h0M281.3 262.0h0M518.1 168.3h0M98.9 314.8h0M96.8 291.9h0M328.3 167.0h0M317.0 183.6h0M476.6 192.7h0M458.5 121.1h0M564.4 91.7h0M435.9 158.1h0M341.9 156.7h0M337.0 236.9h0M82.2 293.7h0M193.3 260.3h0M253.5 233.6h0M349.3 208.7h0M145.1 268.0h0M508.2 190.9h0M525.6 122.9h0M293.7 210.4h0M497.4 124.9h0M549.9 150.9h0M560.8 101.1h0M126.1 282.0h0M142.1 300.8h0M672.1 52.6h0M544.8 123.4h0M218.0 246.0h0M303.0 227.7h0M323.8 173.9h0M165.9 258.2h0M597.4 120.1h0M473.6 106.8h0M371.7 164.7h0M438.3 185.3h0M455.7 164.1h0M582.3 152.3h0M405.2 124.3h0M615.1 140.7h0M212.8 239.2h0M278.6 223.0h0M462.8 163.7h0M81.8 286.1h0M531.0 126.7h0M287.8 239.0h0M235.5 232.0h0M141.2 262.0h0M140.6 228.4h0M424.3 180.7h0M381.7 185.1h0M529.0 99.6h0M192.9 280.6h0M554.7 114.1h0M275.4 243.4h0M381.4 189.7h0M395.8 207.2h0M137.7 289.7h0M459.8 139.6h0M335.0 182.1h0M184.4 257.9h0M193.3 260.6h0M456.4 150.8h0M257.1 232.9h0M612.9 106.7h0M424.4 206.9h0M558.8 143.2h0M268.2 223.4h0M358.4 169.2h0M125.7 317.5h0M530.7 119.9h0M240.4 264.5h0M352.4 247.3h0M643.9 79.8h0M157.1 276.6h0M150.0 230.9h0M142.9 263.3h0M271.9 226.8h0M294.9 245.4h0M231.9 249.0h0M229.7 257.2h0M630.3 118.4h0M364.0 221.3h0M471.7 157.2h0M193.2 245.6h0M94.3 289.1h0M364.4 194.8h0M121.4 299.8h0M556.6 112.3h0M122.3 278.4h0M568.1 167.1h0M550.5 130.7h0M241.1 230.4h0M428.6 178.1h0M369.9 160.1h0M516.9 135.8h0M312.9 171.0h0M587.6 100.3h0M259.0 227.8h0M614.0 117.7h0M419.5 136.4h0M113.3 262.7h0M253.3 250.8h0M469.5 157.1h0M267.4 239.0h0M240.6 237.0h0M342.7 207.4h0M660.5 57.6h0M322.9 214.3h0M166.4 286.8h0M338.7 190.1h0M522.3 130.1h0M191.6 280.6h0M308.6 178.2h0M98.9 294.0h0M389.4 226.2h0M70.3 300.9h0M269.6 233.7h0M371.0 187.1h0M519.5 113.1h0M602.2 75.1h0M525.4 135.7h0M429.4 126.9h0M80.2 308.0h0M435.0 199.6h0M650.1 72.9h0M198.5 265.5h0M618.4 141.0h0M585.8 119.6h0M582.1 93.3h0M329.3 224.6h0M177.3 275.6h0M654.5 146.7h0M257.4 250.5h0M234.0 258.3h0M121.0 264.9h0M254.0 263.0h0M521.5 93.0h0M522.2 152.8h0M327.5 189.4h0M666.8 127.6h0M567.0 102.4h0M504.9 108.2h0M156.1 258.9h0M78.5 320.7h0M82.7 267.2h0M70.5 334.7h0M602.6 60.2h0M370.7 177.5h0M678.3 78.3h0M330.2 196.3h0M145.6 271.8h0M288.9 189.7h0M593.4 108.9h0M376.5 218.3h0M435.4 120.8h0M477.4 120.0h0M96.8 258.1h0M181.1 256.6h0M201.8 263.9h0M168.9 289.4h0M112.6 286.4h0M137.4 274.6h0M492.8 156.7h0M111.6 292.7h0M458.9 155.0h0M191.5 244.6h0M526.4 98.7h0M184.7 247.0h0M380.9 192.8h0M640.0 109.1h0M88.9 249.1h0M155.1 237.6h0M653.1 74.7h0M562.1 146.9h0M205.4 274.4h0M194.7 261.7h0M559.2 96.3h0M131.5 247.4h0M428.1 209.0h0M671.9 118.0h0M339.8 221.8h0M270.0 244.0h0M119.2 286.0h0M190.5 203.3h0M196.0 224.6h0M669.7 62.2h0M536.6 143.1h0M481.6 158.5h0M87.3 260.2h0M367.2 167.0h0M242.5 232.5h0M193.3 271.2h0M481.9 165.2h0M89.4 335.6h0M385.6 144.7h0M360.5 210.8h0M335.6 207.7h0M84.2 327.8h0M125.7 254.2h0M178.8 260.5h0M588.2 160.5h0M398.0 213.9h0M422.0 171.7h0M625.0 131.4h0M527.6 108.3h0M388.0 177.7h0M431.3 162.7h0M174.6 264.3h0M413.2 187.7h0M513.1 155.2h0M411.9 173.2h0M448.9 146.9h0M117.3 260.7h0M126.4 268.4h0M635.8 70.2h0M313.7 235.8h0M410.2 167.5h0M679.1 88.8h0M335.6 251.4h0M493.1 162.7h0M402.0 186.3h0M269.3 259.9h0M88.6 280.9h0M79.1 259.9h0M412.9 130.9h0M413.0 177.1h0M584.8 94.6h0M234.5 242.3h0M180.8 268.7h0M422.2 189.1h0M161.4 279.3h0M404.9 177.6h0M94.9 296.2h0M412.7 226.3h0M86.8 269.6h0M335.3 194.5h0M259.3 215.2h0M156.4 284.9h0M544.6 136.8h0M245.2 245.7h0M646.0 132.9h0M560.7 130.9h0M658.8 114.4h0M449.0 141.1h0M638.3 84.7h0M203.7 244.3h0M297.6 198.4h0M294.0 209.2h0M111.2 271.3h0M81.7 295.3h0M600.3 137.8h0M657.9 77.5h0M113.2 301.6h0M77.7 263.9h0M76.1 283.9h0M108.3 293.6h0M520.6 112.1h0M314.3 211.2h0M281.0 235.4h0M323.7 193.6h0M633.4 142.4h0M412.7 151.4h0M552.6 109.7h0M534.4 97.5h0M141.1 261.1h0M526.6 114.8h0M290.2 252.9h0M623.8 76.0h0M217.9 269.3h0M253.7 214.4h0M534.6 139.3h0M327.0 180.3h0M502.2 170.5h0M540.1 133.3h0M666.1 84.2h0M635.2 125.6h0M477.1 195.1h0M213.3 225.5h0M407.7 210.4h0M187.0 249.2h0M164.6 277.1h0M348.5 217.4h0M120.8 275.1h0M670.2 39.7h0M440.0 162.0h0M545.6 125.3h0M289.0 196.8h0M451.8 161.8h0M302.9 219.4h0M336.8 195.3h0M393.1 201.3h0M132.8 273.1h0M486.2 118.8h0M407.9 161.1h0M303.5 188.4h0M509.8 175.0h0M95.8 300.4h0M151.7 282.1h0M472.6 163.1h0M243.0 215.0h0M161.8 282.8h0M78.2 316.6h0M494.7 129.6h0M297.4 203.3h0M81.4 291.3h0M526.3 148.5h0M141.7 291.3h0M435.6 189.0h0M209.6 234.8h0M217.6 242.7h0M480.0 175.8h0M466.0 135.3h0M591.8 126.0h0M396.7 205.3h0M251.1 197.0h0M614.1 112.0h0M146.1 308.5h0M137.4 253.1h0M177.7 236.3h0M385.1 172.7h0M267.9 234.2h0M316.3 183.9h0M431.5 132.7h0M254.2 222.4h0M141.4 282.4h0M498.9 122.7h0M675.1 89.1h0M383.1 221.1h0M514.2 146.1h0M146.6 227.8h0M160.4 275.1h0M673.0 78.3h0M212.2 199.0h0M341.7 178.8h0M369.4 216.8h0M588.7 139.6h0M663.3 41.2h0M367.9 152.8h0M570.2 86.8h0M439.5 184.2h0M604.5 102.1h0M611.6 149.9h0M210.3 232.6h0M477.6 201.6h0M235.1 226.9h0M617.3 91.3h0M223.0 249.6h0M260.9 210.0h0M518.7 125.7h0M580.2 132.9h0M630.1 83.6h0M559.6 98.1h0M210.6 240.5h0M75.2 275.9h0M102.0 331.5h0M479.1 172.5h0M510.2 108.5h0M650.6 128.6h0M348.7 232.1h0M498.9 114.6h0M113.0 294.1h0M551.2 130.1h0M681.5 95.9h0M143.8 250.6h0M273.0 231.5h0M447.3 171.4h0M276.0 192.0h0M451.6 176.5h0M127.6 289.0h0M328.5 190.8h0M489.0 150.4h0M130.3 289.2h0M115.3 278.4h0M614.7 92.5h0M261.7 264.7h0M288.0 255.3h0M194.7 252.5h0M298.1 198.2h0M118.1 313.4h0M212.9 246.3h0M152.1 266.4h0M127.1 264.3h0M297.2 199.0h0M426.6 204.0h0M611.4 155.3h0M162.9 284.8h0M125.0 292.7h0M88.1 275.7h0M636.2 64.0h0M148.8 257.7h0M352.1 220.8h0M157.2 267.9h0M364.2 197.9h0M179.1 252.6h0M446.0 137.4h0M378.6 202.2h0M243.1 226.7h0M269.9 193.5h0M630.3 110.6h0M648.6 121.5h0M311.7 199.1h0M193.4 220.9h0M390.8 187.5h0M88.6 263.9h0M524.5 108.1h0M331.6 183.7h0M460.6 123.0h0M605.0 66.7h0M105.4 289.5h0M553.7 133.9h0M471.1 178.1h0M467.6 161.3h0M624.3 93.4h0M305.3 179.0h0M402.8 181.1h0M168.6 267.1h0M276.6 231.6h0M592.4 108.7h0M123.4 258.8h0M357.0 212.6h0M344.4 185.6h0M434.1 177.2h0M234.2 244.4h0M620.6 89.5h0M377.2 167.6h0M490.1 134.3h0M245.1 237.4h0M354.5 219.5h0M290.6 181.9h0M648.4 92.2h0M455.6 166.6h0M378.0 213.5h0M631.2 47.5h0M582.5 120.2h0M162.9 234.2h0M539.0 159.2h0M243.9 217.2h0M440.6 183.7h0M103.7 314.3h0M198.6 235.5h0M343.6 197.2h0M658.0 85.1h0M445.3 160.6h0M180.0 263.1h0M381.5 196.7h0M109.4 276.7h0M331.7 216.6h0M409.6 174.4h0M92.5 297.0h0M69.5 314.1h0M156.9 265.4h0M231.0 216.0h0M95.7 244.0h0M609.6 84.0h0M353.7 217.1h0M402.1 163.0h0M298.6 207.2h0M503.4 114.1h0M348.5 183.6h0M124.1 274.4h0M633.1 108.6h0M254.0 200.3h0M327.4 182.2h0M625.0 123.1h0M255.2 209.4h0M586.9 120.6h0M425.5 167.7h0M382.0 214.1h0M464.9 155.1h0M656.8 84.6h0M658.0 60.0h0M587.4 54.0h0M563.2 169.7h0M96.8 322.9h0M397.9 127.7h0M619.3 122.8h0M437.2 142.0h0M335.5 195.7h0M629.2 81.9h0M192.1 240.7h0M264.1 259.4h0M204.9 207.6h0M191.1 220.9h0M380.1 194.6h0M364.4 150.6h0M256.7 186.6h0M144.6 242.8h0M633.3 136.3h0M395.2 156.6h0M344.3 166.6h0M651.7 58.5h0M206.1 233.7h0M227.9 214.1h0M676.7 99.2h0M573.8 144.7h0M373.7 187.5h0M372.9 206.7h0M318.2 222.8h0M597.8 106.1h0M421.0 129.3h0M183.2 230.5h0M196.0 204.6h0M354.1 210.4h0M165.2 246.2h0M497.0 164.3h0M260.2 217.3h0M69.7 286.6h0M178.8 206.9h0M552.4 113.9h0M538.5 148.7h0M335.9 166.3h0M75.5 308.3h0M124.1 294.2h0M237.6 216.2h0M452.5 163.7h0M602.1 154.7h0M527.5 183.8h0M490.6 102.8h0M559.1 108.7h0M406.5 169.5h0M411.9 203.3h0M245.9 251.9h0M232.3 248.2h0M501.5 193.5h0M504.2 168.8h0M114.8 249.9h0M437.3 150.3h0M644.5 70.6h0M278.5 246.4h0M607.2 149.3h0M470.8 169.9h0M523.7 153.8h0M597.1 82.5h0M74.7 279.4h0M409.7 168.6h0M198.7 220.2h0M133.4 259.7h0M176.7 248.4h0M594.0 121.3h0M424.0 199.8h0M611.8 113.5h0M158.3 276.5h0M612.0 106.9h0M411.0 173.0h0M613.7 115.1h0M477.5 139.6h0M163.8 251.9h0M148.6 279.0h0M579.0 75.0h0M449.9 198.0h0M533.8 167.4h0M185.6 264.4h0M437.4 189.3h0M207.2 264.3h0M642.9 130.4h0M182.3 265.6h0M191.5 258.9h0M104.9 261.0h0M350.1 215.8h0M358.7 187.6h0M373.9 189.3h0M681.3 106.6h0M210.3 272.2h0M218.5 271.9h0M214.8 249.6h0M161.3 264.8h0M339.9 179.5h0M499.6 139.9h0M347.9 168.5h0M643.8 99.9h0M239.2 209.1h0M482.3 119.3h0M379.8 203.7h0M483.6 190.5h0M353.3 210.8h0M359.1 219.5h0M216.0 266.3h0M244.4 255.0h0M434.5 141.1h0M560.4 110.6h0M309.1 209.8h0M558.0 92.2h0M190.4 246.2h0M250.7 191.0h0M382.4 193.2h0M141.0 259.0h0M572.4 123.8h0M600.9 96.5h0M247.0 239.5h0M212.7 276.9h0M461.2 156.6h0M644.4 83.5h0M562.8 122.6h0M267.4 230.0h0M279.7 196.9h0M452.4 169.6h0M332.9 216.0h0M408.4 197.3h0M536.2 145.4h0M659.5 118.5h0M420.0 166.0h0M319.7 217.8h0M228.4 230.5h0M193.3 259.2h0M324.8 201.4h0M443.7 162.5h0M168.6 261.7h0M137.6 254.3h0M164.2 263.6h0M346.5 148.3h0M144.3 303.0h0M566.5 121.3h0M253.9 251.2h0M674.1 42.5h0M381.6 158.9h0M460.8 173.3h0M494.2 126.2h0M155.7 253.7h0M162.7 282.8h0M181.9 239.2h0M458.7 160.1h0M446.2 144.7h0M650.0 101.8h0M321.8 237.3h0M555.4 108.6h0M376.2 196.4h0M510.6 164.4h0M283.3 230.3h0M612.8 134.7h0M130.3 231.3h0M516.5 134.3h0M492.5 193.0h0M248.1 257.4h0M310.5 197.2h0M406.9 173.7h0M507.1 133.2h0M333.1 161.4h0M614.1 96.0h0M602.3 114.8h0M526.3 147.9h0M311.4 206.0h0M287.1 223.3h0M249.2 225.1h0M596.3 133.8h0M345.2 218.7h0M428.0 185.7h0M449.8 127.3h0M475.1 142.2h0M259.4 260.9h0M354.1 189.6h0M301.5 227.3h0M531.9 175.7h0M378.0 216.7h0M604.9 99.0h0M628.2 101.4h0M272.2 220.4h0M503.6 136.2h0M469.0 165.3h0M559.2 106.1h0M337.8 179.4h0M545.6 113.8h0M304.7 211.3h0M536.5 102.7h0M673.7 76.3h0M100.8 303.2h0M599.2 126.3h0M593.5 118.2h0M130.8 303.7h0M520.6 123.5h0M561.1 96.2h0M150.4 260.1h0M376.0 188.4h0M359.6 158.0h0M517.3 147.5h0M446.3 161.0h0M374.8 191.7h0M552.0 123.2h0M94.0 295.8h0M317.5 219.0h0M442.4 181.0h0M660.7 78.3h0M303.4 198.5h0M410.8 188.4h0M219.4 209.2h0M273.2 188.0h0M614.2 140.9h0M207.0 260.1h0M366.1 228.6h0M72.5 276.0h0M377.3 145.3h0M378.0 190.9h0M84.4 313.6h0M246.0 218.8h0M98.2 274.0h0M402.5 175.2h0M137.8 264.0h0M290.9 173.0h0M479.7 145.2h0M77.8 306.6h0M675.1 57.1h0M355.5 160.3h0M92.4 263.7h0M456.9 107.4h0M602.5 109.0h0M291.1 244.2h0M138.0 311.7h0M494.4 149.6h0M598.8 71.5h0M103.6 256.6h0M456.7 186.9h0M453.1 126.2h0M527.7 141.3h0M180.5 289.1h0M277.8 173.0h0M471.6 161.5h0M631.4 142.2h0M643.3 92.0h0M149.7 261.6h0M596.1 142.6h0M471.4 194.8h0M648.1 87.9h0M516.2 115.3h0M482.1 191.1h0M242.8 231.1h0M405.5 148.6h0M309.0 235.2h0M239.2 248.6h0M287.5 183.4h0M160.2 238.8h0M410.2 181.6h0M304.1 201.9h0M128.3 261.2h0M271.9 198.8h0M387.1 177.3h0M236.1 202.3h0M572.5 109.5h0M208.0 252.3h0M294.4 233.9h0M90.0 292.3h0M208.3 222.5h0M289.4 219.6h0M438.4 166.1h0M653.9 137.9h0M559.0 108.3h0M313.2 180.2h0M137.6 257.0h0M132.9 266.5h0M218.4 272.2h0M639.6 116.1h0M126.6 283.9h0M501.6 157.2h0M247.8 192.3h0M218.3 285.3h0M306.7 207.0h0M391.8 149.7h0M348.1 207.2h0M163.5 248.8h0M501.6 146.7h0M119.5 253.1h0M587.7 165.3h0M102.3 310.8h0M673.7 58.1h0M573.6 119.7h0M670.2 82.6h0M231.8 225.9h0M147.2 288.2h0M283.0 248.8h0M78.0 332.5h0M211.2 269.4h0M149.3 276.8h0M183.2 252.3h0M589.1 132.5h0M350.2 174.1h0M91.8 269.7h0M605.0 91.4h0M121.6 282.0h0M73.5 318.4h0M132.7 300.6h0M619.6 111.1h0M388.6 178.1h0M533.9 108.5h0M615.0 81.7h0M482.5 150.3h0M149.4 259.0h0M629.4 77.8h0M416.5 217.8h0M259.8 209.2h0M608.1 59.5h0M589.6 95.3h0M406.6 176.0h0M169.4 212.5h0M517.4 131.4h0M238.9 271.3h0M252.0 260.5h0M661.4 132.5h0M652.1 115.6h0M252.3 202.2h0M319.1 229.8h0M500.7 171.8h0M112.7 289.3h0M144.8 236.6h0M579.1 127.8h0M509.7 141.2h0M313.5 207.3h0M546.5 157.7h0M416.4 159.5h0M73.0 267.4h0M396.8 191.8h0M554.8 85.7h0M377.0 180.0h0M358.2 179.2h0M133.0 281.2h0M637.2 137.0h0M93.0 279.2h0M146.2 264.0h0M188.9 251.3h0M331.2 178.8h0M660.2 105.3h0M122.3 289.4h0M508.8 128.9h0M510.3 147.4h0M86.0 266.0h0M87.9 257.2h0M641.8 95.4h0M514.0 107.5h0M168.7 266.9h0M282.2 238.3h0M402.9 204.7h0M191.3 240.5h0M590.4 110.1h0M635.0 105.6h0M575.9 158.1h0M263.0 231.5h0M158.2 254.7h0M159.9 221.4h0M100.6 325.7h0M202.7 273.0h0M228.1 262.0h0M169.7 262.9h0M321.5 235.2h0M119.6 266.6h0M576.5 160.7h0M560.5 115.0h0M621.8 138.0h0M484.2 128.6h0M559.5 84.1h0M439.7 181.4h0M139.7 299.6h0M627.0 76.7h0M659.6 117.2h0M427.7 184.5h0M659.0 93.7h0M388.5 166.0h0M596.6 93.0h0M483.7 128.0h0M634.6 90.5h0M399.2 154.1h0M413.4 176.2h0M265.9 243.2h0M276.8 248.0h0M120.6 302.2h0M92.8 246.3h0M213.6 264.0h0M155.6 239.0h0M539.6 111.3h0M453.3 175.9h0M519.4 138.7h0M454.1 174.4h0M492.1 184.1h0M343.2 223.3h0M297.5 268.8h0M342.0 224.2h0M654.1 122.6h0M645.7 53.4h0M532.1 109.7h0M567.0 108.0h0M657.4 67.1h0M236.3 219.4h0M444.3 171.9h0M327.9 240.0h0M599.7 109.6h0M518.1 184.2h0M647.2 112.3h0M352.0 227.1h0M645.2 83.4h0M204.6 226.9h0M628.9 101.3h0M518.5 139.3h0M674.4 67.1h0M113.6 267.6h0M114.9 285.5h0M126.7 289.3h0M501.2 120.2h0M522.8 144.4h0M458.3 153.0h0M670.5 80.4h0M583.7 123.1h0M402.3 180.9h0M475.6 168.0h0M662.2 52.1h0M556.6 143.2h0M628.6 97.0h0M590.2 76.3h0M220.6 190.7h0M612.6 93.0h0M243.3 225.8h0M594.3 82.0h0M528.3 143.0h0M203.8 222.4h0M643.9 61.3h0M194.7 264.0h0M256.1 206.0h0M375.7 206.6h0M228.5 233.5h0M535.3 126.8h0"/>
<rect x="274.0" y="-10" width="204.8" height="400" fill="#388a24" fill-opacity="0.22"/>
<path d="M274.0 -10V390M478.8 -10V390" stroke="#388a24" stroke-width="4" fill="none"/>
<path d="M274.0 3.4H478.8" stroke="#48a038" stroke-width="1" fill="none"/>
<path d="M394.4 4.5V382" stroke="#111" stroke-width="4.4" stroke-dasharray="4.2 5.36" fill="none"/>
</g>
<rect x="69.25" y="1.7" width="613.85" height="378.8" fill="none" stroke="#5e5e5e" stroke-width="2.4"/>
<g stroke="#000" stroke-width="2" fill="none">
<path d="M69.32 380.40v-2.40"/>
<path d="M69.32 1.40v2.40"/>
<path d="M101.31 380.40v-2.40"/>
<path d="M101.31 1.40v2.40"/>
<path d="M133.30 380.40v-4.60"/>
<path d="M133.30 1.40v4.60"/>
<path d="M165.29 380.40v-2.40"/>
<path d="M165.29 1.40v2.40"/>
<path d="M197.28 380.40v-2.40"/>
<path d="M197.28 1.40v2.40"/>
<path d="M229.26 380.40v-2.40"/>
<path d="M229.26 1.40v2.40"/>
<path d="M261.25 380.40v-4.60"/>
<path d="M261.25 1.40v4.60"/>
<path d="M293.24 380.40v-2.40"/>
<path d="M293.24 1.40v2.40"/>
<path d="M325.22 380.40v-2.40"/>
<path d="M325.22 1.40v2.40"/>
<path d="M357.21 380.40v-2.40"/>
<path d="M357.21 1.40v2.40"/>
<path d="M389.20 380.40v-4.60"/>
<path d="M389.20 1.40v4.60"/>
<path d="M421.19 380.40v-2.40"/>
<path d="M421.19 1.40v2.40"/>
<path d="M453.17 380.40v-2.40"/>
<path d="M453.17 1.40v2.40"/>
<path d="M485.16 380.40v-2.40"/>
<path d="M485.16 1.40v2.40"/>
<path d="M517.15 380.40v-4.60"/>
<path d="M517.15 1.40v4.60"/>
<path d="M549.14 380.40v-2.40"/>
<path d="M549.14 1.40v2.40"/>
<path d="M581.12 380.40v-2.40"/>
<path d="M581.12 1.40v2.40"/>
<path d="M613.11 380.40v-2.40"/>
<path d="M613.11 1.40v2.40"/>
<path d="M645.10 380.40v-4.60"/>
<path d="M645.10 1.40v4.60"/>
<path d="M677.09 380.40v-2.40"/>
<path d="M677.09 1.40v2.40"/>
<path d="M69.25 380.40h2.40"/>
<path d="M683.10 380.40h-2.40"/>
<path d="M69.25 366.86h2.40"/>
<path d="M683.10 366.86h-2.40"/>
<path d="M69.25 353.32h4.60"/>
<path d="M683.10 353.32h-4.60"/>
<path d="M69.25 339.78h2.40"/>
<path d="M683.10 339.78h-2.40"/>
<path d="M69.25 326.24h2.40"/>
<path d="M683.10 326.24h-2.40"/>
<path d="M69.25 312.70h2.40"/>
<path d="M683.10 312.70h-2.40"/>
<path d="M69.25 299.16h4.60"/>
<path d="M683.10 299.16h-4.60"/>
<path d="M69.25 285.62h2.40"/>
<path d="M683.10 285.62h-2.40"/>
<path d="M69.25 272.08h2.40"/>
<path d="M683.10 272.08h-2.40"/>
<path d="M69.25 258.54h2.40"/>
<path d="M683.10 258.54h-2.40"/>
<path d="M69.25 245.00h4.60"/>
<path d="M683.10 245.00h-4.60"/>
<path d="M69.25 231.46h2.40"/>
<path d="M683.10 231.46h-2.40"/>
<path d="M69.25 217.92h2.40"/>
<path d="M683.10 217.92h-2.40"/>
<path d="M69.25 204.38h2.40"/>
<path d="M683.10 204.38h-2.40"/>
<path d="M69.25 190.84h4.60"/>
<path d="M683.10 190.84h-4.60"/>
<path d="M69.25 177.30h2.40"/>
<path d="M683.10 177.30h-2.40"/>
<path d="M69.25 163.76h2.40"/>
<path d="M683.10 163.76h-2.40"/>
<path d="M69.25 150.22h2.40"/>
<path d="M683.10 150.22h-2.40"/>
<path d="M69.25 136.68h4.60"/>
<path d="M683.10 136.68h-4.60"/>
<path d="M69.25 123.14h2.40"/>
<path d="M683.10 123.14h-2.40"/>
<path d="M69.25 109.60h2.40"/>
<path d="M683.10 109.60h-2.40"/>
<path d="M69.25 96.06h2.40"/>
<path d="M683.10 96.06h-2.40"/>
<path d="M69.25 82.52h4.60"/>
<path d="M683.10 82.52h-4.60"/>
<path d="M69.25 68.98h2.40"/>
<path d="M683.10 68.98h-2.40"/>
<path d="M69.25 55.44h2.40"/>
<path d="M683.10 55.44h-2.40"/>
<path d="M69.25 41.90h2.40"/>
<path d="M683.10 41.90h-2.40"/>
<path d="M69.25 28.36h4.60"/>
<path d="M683.10 28.36h-4.60"/>
<path d="M69.25 14.82h2.40"/>
<path d="M683.10 14.82h-2.40"/>
<path d="M69.25 1.28h2.40"/>
<path d="M683.10 1.28h-2.40"/>
</g>
<g class="tk"><text x="132.9" y="401.3" text-anchor="middle">0.28</text><text x="260.8" y="401.3" text-anchor="middle">0.30</text><text x="388.8" y="401.3" text-anchor="middle">0.32</text><text x="516.8" y="401.3" text-anchor="middle">0.34</text><text x="644.7" y="401.3" text-anchor="middle">0.36</text><text x="64.2" y="359.6" text-anchor="end">3.2</text><text x="64.2" y="305.5" text-anchor="end">3.4</text><text x="64.2" y="251.3" text-anchor="end">3.6</text><text x="64.2" y="197.1" text-anchor="end">3.8</text><text x="64.2" y="143.0" text-anchor="end">4.0</text><text x="64.2" y="88.8" text-anchor="end">4.2</text><text x="64.2" y="34.7" text-anchor="end">4.4</text></g>
<g class="lb">
<text x="327.4" y="442.6" font-size="31" textLength="39.6" lengthAdjust="spacingAndGlyphs">sin</text>
<text x="366.3" y="429.8" font-size="22.5">2</text>
<text x="385" y="442.7" font-size="36.5" font-style="italic">θ</text>
<text x="400.6" y="446.6" font-size="21" textLength="22.6" lengthAdjust="spacingAndGlyphs">12</text>
<g transform="translate(0 258) rotate(-90)">
<text x="0.2" y="16.9" font-size="33" font-style="italic" textLength="28.5" lengthAdjust="spacingAndGlyphs">m</text>
<text x="30.3" y="22.7" font-size="25" font-style="italic" textLength="23.5" lengthAdjust="spacingAndGlyphs">ee</text>
<text x="70" y="24.1" font-size="30">[</text>
<text x="75.4" y="21.8" font-size="23" textLength="48.4" lengthAdjust="spacingAndGlyphs">meV</text>
<text x="122.5" y="24.1" font-size="30">]</text>
</g>
</g>
</svg>
</body></html>
